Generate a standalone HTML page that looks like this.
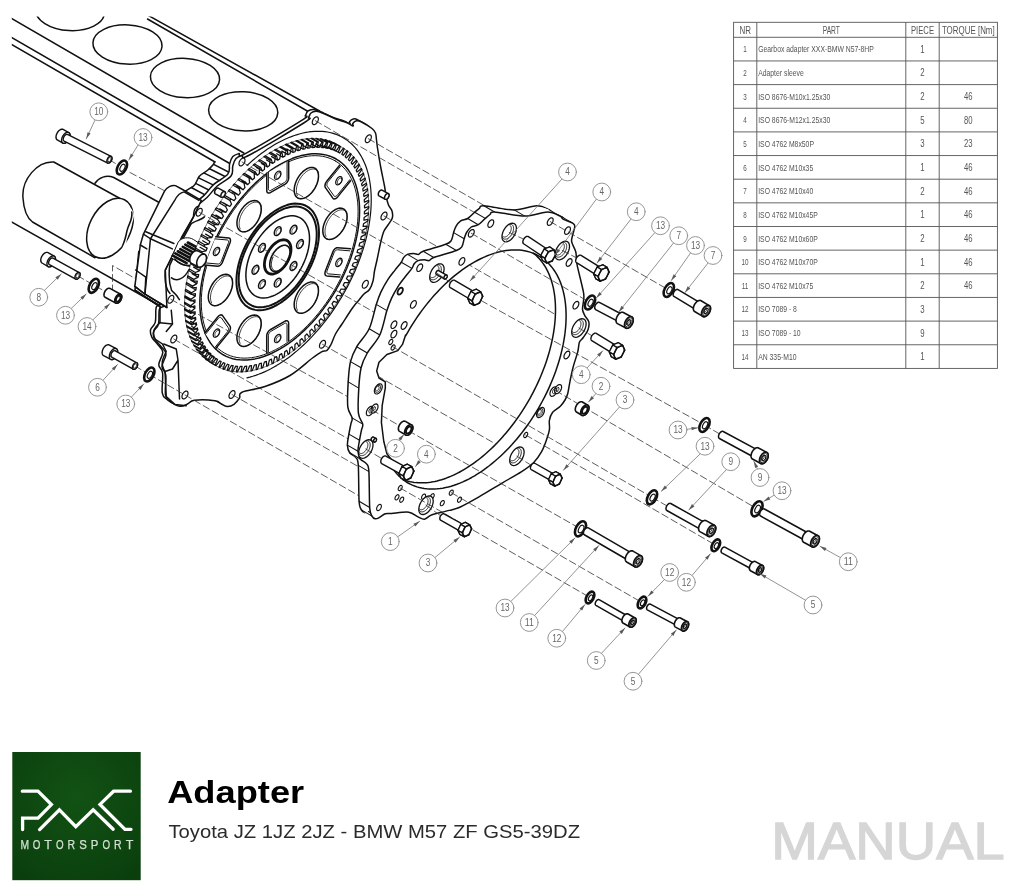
<!DOCTYPE html>
<html><head><meta charset="utf-8"><title>Adapter manual</title>
<style>
html,body{margin:0;padding:0;background:#fff;}
body{width:1024px;height:896px;overflow:hidden;font-family:"Liberation Sans",sans-serif;}
svg{display:block;will-change:transform;transform:translateZ(0);}
</style></head><body>
<svg width="1024" height="896" viewBox="0 0 1024 896" font-family="Liberation Sans, sans-serif">
<rect width="1024" height="896" fill="#fff"/>
<g stroke-linejoin="round" stroke-linecap="round">
<clipPath id="cl"><rect x="11.8" y="16.6" width="1000" height="800"/></clipPath><g clip-path="url(#cl)">
<ellipse cx="70" cy="11" rx="34.6" ry="19.6" fill="none" stroke="#111" stroke-width="1.5" transform="rotate(3 70 11)"/>
<ellipse cx="127.5" cy="44.5" rx="34.6" ry="19.6" fill="none" stroke="#111" stroke-width="1.5" transform="rotate(3 127.5 44.5)"/>
<ellipse cx="185" cy="78" rx="34.6" ry="19.6" fill="none" stroke="#111" stroke-width="1.5" transform="rotate(3 185 78)"/>
<ellipse cx="243.2" cy="111.3" rx="34.6" ry="19.6" fill="none" stroke="#111" stroke-width="1.5" transform="rotate(3 243.2 111.3)"/>
<path d="M 10 17.5 L 243.75 153" fill="none" stroke="#111" stroke-width="1.5"/>
<path d="M 10 36.5 L 237.5 168" fill="none" stroke="#111" stroke-width="1.5"/>
<path d="M 10 43.5 L 215 162" fill="none" stroke="#111" stroke-width="1.5"/>
<path d="M 147.5 15 L 319.5 111" fill="none" stroke="#111" stroke-width="1.5"/>
<path d="M 147.5 19 L 310.75 113" fill="none" stroke="#111" stroke-width="1.5"/>
<path d="M 319.5 111 L 243.75 156.75" fill="none" stroke="#111" stroke-width="1.5"/>
<path d="M 214.72 161.72 C 213.62 165.62 210.81 166.88 208.47 169.53 C 205.34 172.66 201.44 173.44 199.09 176.56 C 196.75 179.69 196.75 183.59 192.84 186.72 C 188.94 189.38 185.81 190.62 183 192.5" fill="none" stroke="#111" stroke-width="1.5"/>
<path d="M 213.62 164.38 L 235.81 175.78" fill="none" stroke="#111" stroke-width="1.5"/>
<path d="M 209.56 168.75 L 233 180.47" fill="none" stroke="#111" stroke-width="1.5"/>
<path d="M 204.25 173.12 L 229.56 185.62" fill="none" stroke="#111" stroke-width="1.5"/>
<path d="M 198.62 177.81 L 223.31 189.84" fill="none" stroke="#111" stroke-width="1.5"/>
<path d="M 196.12 183.59 L 216.28 193.75" fill="none" stroke="#111" stroke-width="1.5"/>
<path d="M 191.28 187.5 L 209.25 197.19" fill="none" stroke="#111" stroke-width="1.5"/>
<path d="M 10 221 L 160 305.75" fill="none" stroke="#111" stroke-width="1.5"/>
<path d="M 95 183.25 C 98.75 177.5 106.25 174.5 113.75 177.5 L 163.75 205" fill="#fff" stroke="#111" stroke-width="1.5"/>
<path d="M 53.75 162 C 37.5 160.75 21.25 179.5 23 198.25 C 23.75 209.5 27.5 218.25 32.5 222 L 95 257.75 L 120.5 198.75 Z" fill="#fff" stroke="#111" stroke-width="1.5"/>
<ellipse cx="110" cy="228.25" rx="20.5" ry="32" fill="#fff" stroke="#111" stroke-width="1.5" transform="rotate(27 110 228.25)"/>
<path d="M 130 209 C 136.25 217 130 222 128 229.5 C 126.25 237 125 242 123.75 248.25" fill="#fff" stroke="#fff" stroke-width="2.5"/>
<path d="M 131.75 212 C 133 219.5 128.75 223.25 127 230.75 C 125.75 237 125 240.75 122.5 245.75" fill="none" stroke="#111" stroke-width="1.5"/>
</g>
<path d="M305.3 115.6 C306.47 113.89 306.45 112.22 307.8 111.1 C309.15 109.98 311 109.49 312.8 109.4 C314.6 109.31 316 110.02 317.8 110.6 C319.6 111.18 319.92 111.34 322.8 112.6 C325.68 113.86 330.02 116.11 333.8 117.6 C337.58 119.09 340.92 119.73 343.8 120.9 C346.68 122.07 348.76 123.97 349.8 124.1 C350.84 124.23 348.97 122.54 349.6 121.6 C350.23 120.66 351.73 119.17 353.3 118.9 C354.87 118.63 355.51 118.71 358.3 120.1 C361.09 121.49 366.28 124.62 368.8 126.6 C371.32 128.58 371.49 129.03 372.3 131.1 C373.11 133.17 372.94 135.4 373.3 138.1 C373.66 140.8 373.58 141.42 374.3 146.1 C375.02 150.78 376.04 157.26 377.3 164.1 C378.56 170.94 380.31 178.7 381.3 184.1 C382.29 189.5 382.08 190.68 382.8 194.1 C383.52 197.52 384.22 200.4 385.3 203.1 C386.38 205.8 388.12 206.76 388.8 209.1 C389.48 211.44 389.82 213.58 389.1 216.1 C388.38 218.62 386.29 220.76 384.8 223.1 C383.31 225.44 382.06 226.22 380.8 229.1 C379.54 231.98 379.06 233.88 377.8 239.1 C376.54 244.32 374.97 252.7 373.8 258.1 C372.63 263.5 372.02 265.32 371.3 269.1 C370.58 272.88 370.7 275.77 369.8 279.1 C368.9 282.43 367.92 285.26 366.3 287.6 C364.68 289.94 362.69 290.21 360.8 292.1 C358.91 293.99 357.87 295.58 355.8 298.1 C353.73 300.62 352.36 301.78 349.3 306.1 C346.24 310.42 341.86 317.42 338.8 322.1 C335.74 326.78 334.28 328.41 332.3 332.1 C330.32 335.79 329.33 339.67 327.8 342.6 C326.27 345.53 325.51 347.09 323.8 348.4 C322.09 349.71 320.91 348.51 318.3 349.9 C315.69 351.29 314.97 351.83 309.3 356.1 C303.63 360.37 295.35 368.47 286.8 373.6 C278.25 378.73 270.44 381.59 261.8 384.6 C253.16 387.61 243.39 388.23 238.8 390.3 C234.21 392.37 237.74 393.92 236.3 396.1 C234.86 398.28 232.96 400.87 230.8 402.4 C228.64 403.93 226.55 404.65 224.3 404.6 C222.05 404.55 220.55 403.13 218.3 402.1 C216.05 401.07 216.66 399.57 211.8 398.9 C206.94 398.23 196.25 397.82 191.3 398.4 C186.35 398.98 186.91 401.02 184.3 402.1 C181.69 403.18 179.86 404.85 176.8 404.4 C173.74 403.95 169.91 401.63 167.3 399.6 C164.69 397.57 163.15 397.87 162.3 393.1 C161.45 388.33 163.23 378.23 162.6 373.1 C161.97 367.97 158.76 368.38 158.8 364.6 C158.84 360.82 162.98 355.7 162.8 352.1 C162.62 348.5 159.78 347.3 157.8 344.6 C155.82 341.9 153.1 339.8 151.8 337.1 C150.5 334.4 149.97 332.3 150.6 329.6 C151.23 326.9 154.27 326.15 155.3 322.1 C156.33 318.05 155.13 310.43 156.3 307.1 C157.47 303.77 161.08 305.58 161.8 303.6 C162.52 301.62 160.34 299.79 160.3 296.1 C160.26 292.41 161.28 288.14 161.6 283.1 C161.92 278.06 160.88 273.05 162.1 268.1 C163.32 263.15 165.3 261.79 168.4 255.6 C171.5 249.41 175.63 240.63 179.3 233.7 C182.97 226.77 187 221.62 188.8 217.1 C190.6 212.58 188.4 211.03 189.3 208.6 C190.2 206.17 191.19 205.94 193.8 203.6 C196.41 201.26 200.2 199.06 203.8 195.6 C207.4 192.14 209.48 188.27 213.8 184.4 C218.12 180.53 224.96 177.75 227.8 174.1 C230.64 170.45 228.7 167.25 229.6 164.1 C230.5 160.95 231.14 158.49 232.8 156.6 C234.46 154.71 236.37 154.23 238.8 153.6 C241.23 152.97 235.05 159.04 246.3 153.1 C257.55 147.16 290.68 127.35 301.3 120.6 C311.92 113.85 304.13 117.31 305.3 115.6 Z" fill="#fff" stroke="#111" stroke-width="1.5"/>
<path d="M308.5 117.5 C309.67 115.79 309.65 114.12 311 113 C312.35 111.88 314.2 111.39 316 111.3 C317.8 111.21 319.2 111.92 321 112.5 C322.8 113.08 323.12 113.24 326 114.5 C328.88 115.76 333.22 118.01 337 119.5 C340.78 120.99 344.12 121.63 347 122.8 C349.88 123.97 351.96 125.87 353 126 C354.04 126.13 352.17 124.44 352.8 123.5 C353.43 122.56 354.93 121.07 356.5 120.8 C358.07 120.53 358.71 120.61 361.5 122 C364.29 123.39 369.48 126.52 372 128.5 C374.52 130.48 374.69 130.93 375.5 133 C376.31 135.07 376.14 137.3 376.5 140 C376.86 142.7 376.78 143.32 377.5 148 C378.22 152.68 379.24 159.16 380.5 166 C381.76 172.84 383.51 180.6 384.5 186 C385.49 191.4 385.28 192.58 386 196 C386.72 199.42 387.42 202.3 388.5 205 C389.58 207.7 391.32 208.66 392 211 C392.68 213.34 393.02 215.48 392.3 218 C391.58 220.52 389.49 222.66 388 225 C386.51 227.34 385.26 228.12 384 231 C382.74 233.88 382.26 235.78 381 241 C379.74 246.22 378.17 254.6 377 260 C375.83 265.4 375.22 267.22 374.5 271 C373.78 274.78 373.9 277.67 373 281 C372.1 284.33 371.12 287.16 369.5 289.5 C367.88 291.84 365.89 292.11 364 294 C362.11 295.89 361.07 297.48 359 300 C356.93 302.52 355.56 303.68 352.5 308 C349.44 312.32 345.06 319.32 342 324 C338.94 328.68 337.48 330.31 335.5 334 C333.52 337.69 332.53 341.57 331 344.5 C329.47 347.43 328.71 348.99 327 350.3 C325.29 351.61 324.11 350.41 321.5 351.8 C318.89 353.19 318.17 353.73 312.5 358 C306.83 362.27 298.55 370.37 290 375.5 C281.45 380.63 273.64 383.49 265 386.5 C256.36 389.51 246.59 390.13 242 392.2 C237.41 394.27 240.94 395.82 239.5 398 C238.06 400.18 236.16 402.77 234 404.3 C231.84 405.83 229.75 406.55 227.5 406.5 C225.25 406.45 223.75 405.03 221.5 404 C219.25 402.97 219.86 401.47 215 400.8 C210.14 400.13 199.45 399.72 194.5 400.3 C189.55 400.88 190.11 402.92 187.5 404 C184.89 405.08 183.06 406.75 180 406.3 C176.94 405.85 173.11 403.53 170.5 401.5 C167.89 399.47 166.35 399.77 165.5 395 C164.65 390.23 166.43 380.13 165.8 375 C165.17 369.87 161.96 370.28 162 366.5 C162.04 362.72 166.18 357.6 166 354 C165.82 350.4 162.98 349.2 161 346.5 C159.02 343.8 156.3 341.7 155 339 C153.7 336.3 153.17 334.2 153.8 331.5 C154.43 328.8 157.47 328.05 158.5 324 C159.53 319.95 158.33 312.33 159.5 309 C160.67 305.67 164.28 307.48 165 305.5 C165.72 303.52 163.54 301.69 163.5 298 C163.46 294.31 164.48 290.04 164.8 285 C165.12 279.96 164.08 274.95 165.3 270 C166.52 265.05 168.5 263.69 171.6 257.5 C174.7 251.31 178.83 242.53 182.5 235.6 C186.17 228.67 190.2 223.52 192 219 C193.8 214.48 191.6 212.93 192.5 210.5 C193.4 208.07 194.39 207.84 197 205.5 C199.61 203.16 203.4 200.96 207 197.5 C210.6 194.04 212.68 190.17 217 186.3 C221.32 182.43 228.16 179.65 231 176 C233.84 172.35 231.9 169.15 232.8 166 C233.7 162.85 234.34 160.39 236 158.5 C237.66 156.61 239.57 156.13 242 155.5 C244.43 154.87 238.25 160.94 249.5 155 C260.75 149.06 293.88 129.25 304.5 122.5 C315.12 115.75 307.33 119.21 308.5 117.5 Z" fill="#fff" stroke="#111" stroke-width="1.5"/>
<path d="M247.02 165.46 L249.9 162.84 L252.8 160.31 L255.72 157.88 L258.66 155.53 L261.61 153.29 L264.58 151.14 L267.56 149.09 L270.55 147.15 L273.54 145.31 L276.53 143.58 L279.52 141.95 L282.51 140.44 L285.49 139.04 L288.46 137.75 L291.41 136.57 L294.35 135.51 L297.27 134.57 L300.17 133.74 L303.05 133.03 L305.9 132.44 L308.72 131.97 L311.51 131.61 L314.26 131.38 L316.97 131.27 L319.64 131.28 L322.27 131.4 L324.86 131.65 L327.39 132.02 L329.88 132.51 L332.31 133.11 L334.69 133.84 L337.01 134.68 L339.26 135.64 L341.46 136.72 L343.59 137.91 L345.66 139.21 L347.66 140.63 L349.59 142.16 L351.44 143.8 L353.22 145.54 L354.93 147.4 L356.56 149.35 L358.11 151.41 L359.58 153.57 L360.96 155.83 L362.27 158.19 L363.49 160.64 L364.62 163.18 L365.67 165.81 L366.63 168.53 L367.5 171.33 L368.28 174.21 L368.97 177.18 L369.57 180.21 L370.08 183.32 L370.5 186.5 L370.82 189.75 L371.05 193.06 L371.19 196.43 L371.24 199.86 L371.19 203.34 L371.05 206.88 L370.82 210.46 L370.49 214.08 L370.07 217.74 L369.56 221.44 L368.96 225.17 L368.27 228.94 L367.48 232.72 L366.61 236.53 L365.65 240.36 L364.6 244.2 L363.46 248.05 L362.24 251.91 L360.94 255.78 L359.55 259.64 L358.08 263.5 L356.53 267.35 L354.9 271.19 L353.19 275.02 L351.41 278.82 L349.55 282.6 L347.62 286.36 L345.62 290.09 L343.55 293.78 L341.42 297.43 L339.22 301.05 L336.96 304.62 L334.64 308.14 L332.26 311.61 L329.83 315.03 L327.34 318.39 L324.81 321.69 L322.22 324.92 L319.59 328.09 L316.92 331.19 L314.2 334.21 L311.45 337.16 L308.66 340.02 L305.84 342.81 L302.99 345.51 L300.12 348.13 L297.22 350.65 L294.29 353.08 L291.35 355.42 L288.4 357.66 L285.43 359.8 L282.45 361.84 L279.46 363.78 L276.47 365.61 L273.48 367.33 L270.49 368.95 L267.5 370.46 L264.52 371.85 L261.55 373.13 L258.6 374.3 L255.66 375.35 L252.74 376.29 L249.84 377.11 L246.97 377.81" fill="none" stroke="#111" stroke-width="1.2"/>
<path d="M317.45 116.98 L317.93 117.42 L318.24 118.1 L318.34 118.94 L318.24 119.91 L317.93 120.93 L317.45 121.94 L316.82 122.86 L316.09 123.64 L315.3 124.21 L314.51 124.55 L313.78 124.62 L313.15 124.42 L312.67 123.98 L312.36 123.3 L312.26 122.46 L312.36 121.49 L312.67 120.47 L313.15 119.46 L313.78 118.54 L314.51 117.76 L315.3 117.19 L316.09 116.85 L316.82 116.78 L317.45 116.98Z" fill="#fff" stroke="#111" stroke-width="1.2"/>
<path d="M370.45 134.98 L370.93 135.42 L371.24 136.1 L371.34 136.94 L371.24 137.91 L370.93 138.93 L370.45 139.94 L369.82 140.86 L369.09 141.64 L368.3 142.21 L367.51 142.55 L366.78 142.62 L366.15 142.42 L365.67 141.98 L365.36 141.3 L365.26 140.46 L365.36 139.49 L365.67 138.47 L366.15 137.46 L366.78 136.54 L367.51 135.76 L368.3 135.19 L369.09 134.85 L369.82 134.78 L370.45 134.98Z" fill="#fff" stroke="#111" stroke-width="1.2"/>
<path d="M386.15 212.28 L386.63 212.72 L386.94 213.4 L387.04 214.24 L386.94 215.21 L386.63 216.23 L386.15 217.24 L385.52 218.16 L384.79 218.94 L384 219.51 L383.21 219.85 L382.48 219.92 L381.85 219.72 L381.37 219.28 L381.06 218.6 L380.96 217.76 L381.06 216.79 L381.37 215.77 L381.85 214.76 L382.48 213.84 L383.21 213.06 L384 212.49 L384.79 212.15 L385.52 212.08 L386.15 212.28Z" fill="#fff" stroke="#111" stroke-width="1.2"/>
<path d="M367.45 280.58 L367.93 281.02 L368.24 281.7 L368.34 282.54 L368.24 283.51 L367.93 284.53 L367.45 285.54 L366.82 286.46 L366.09 287.24 L365.3 287.81 L364.51 288.15 L363.78 288.22 L363.15 288.02 L362.67 287.58 L362.36 286.9 L362.26 286.06 L362.36 285.09 L362.67 284.07 L363.15 283.06 L363.78 282.14 L364.51 281.36 L365.3 280.79 L366.09 280.45 L366.82 280.38 L367.45 280.58Z" fill="#fff" stroke="#111" stroke-width="1.2"/>
<path d="M324.65 340.58 L325.13 341.02 L325.44 341.7 L325.54 342.54 L325.44 343.51 L325.13 344.53 L324.65 345.54 L324.02 346.46 L323.29 347.24 L322.5 347.81 L321.71 348.15 L320.98 348.22 L320.35 348.02 L319.87 347.58 L319.56 346.9 L319.46 346.06 L319.56 345.09 L319.87 344.07 L320.35 343.06 L320.98 342.14 L321.71 341.36 L322.5 340.79 L323.29 340.45 L324.02 340.38 L324.65 340.58Z" fill="#fff" stroke="#111" stroke-width="1.2"/>
<path d="M234.15 390.78 L234.63 391.22 L234.94 391.9 L235.04 392.74 L234.94 393.71 L234.63 394.73 L234.15 395.74 L233.52 396.66 L232.79 397.44 L232 398.01 L231.21 398.35 L230.48 398.42 L229.85 398.22 L229.37 397.78 L229.06 397.1 L228.96 396.26 L229.06 395.29 L229.37 394.27 L229.85 393.26 L230.48 392.34 L231.21 391.56 L232 390.99 L232.79 390.65 L233.52 390.58 L234.15 390.78Z" fill="#fff" stroke="#111" stroke-width="1.2"/>
<path d="M187.15 391.28 L187.63 391.72 L187.94 392.4 L188.04 393.24 L187.94 394.21 L187.63 395.23 L187.15 396.24 L186.52 397.16 L185.79 397.94 L185 398.51 L184.21 398.85 L183.48 398.92 L182.85 398.72 L182.37 398.28 L182.06 397.6 L181.96 396.76 L182.06 395.79 L182.37 394.77 L182.85 393.76 L183.48 392.84 L184.21 392.06 L185 391.49 L185.79 391.15 L186.52 391.08 L187.15 391.28Z" fill="#fff" stroke="#111" stroke-width="1.2"/>
<path d="M175.95 335.28 L176.43 335.72 L176.74 336.4 L176.84 337.24 L176.74 338.21 L176.43 339.23 L175.95 340.24 L175.32 341.16 L174.59 341.94 L173.8 342.51 L173.01 342.85 L172.28 342.92 L171.65 342.72 L171.17 342.28 L170.86 341.6 L170.76 340.76 L170.86 339.79 L171.17 338.77 L171.65 337.76 L172.28 336.84 L173.01 336.06 L173.8 335.49 L174.59 335.15 L175.32 335.08 L175.95 335.28Z" fill="#fff" stroke="#111" stroke-width="1.2"/>
<path d="M172.95 295.58 L173.43 296.02 L173.74 296.7 L173.84 297.54 L173.74 298.51 L173.43 299.53 L172.95 300.54 L172.32 301.46 L171.59 302.24 L170.8 302.81 L170.01 303.15 L169.28 303.22 L168.65 303.02 L168.17 302.58 L167.86 301.9 L167.76 301.06 L167.86 300.09 L168.17 299.07 L168.65 298.06 L169.28 297.14 L170.01 296.36 L170.8 295.79 L171.59 295.45 L172.32 295.38 L172.95 295.58Z" fill="#fff" stroke="#111" stroke-width="1.2"/>
<path d="M201.35 208.48 L201.83 208.92 L202.14 209.6 L202.24 210.44 L202.14 211.41 L201.83 212.43 L201.35 213.44 L200.72 214.36 L199.99 215.14 L199.2 215.71 L198.41 216.05 L197.68 216.12 L197.05 215.92 L196.57 215.48 L196.26 214.8 L196.16 213.96 L196.26 212.99 L196.57 211.97 L197.05 210.96 L197.68 210.04 L198.41 209.26 L199.2 208.69 L199.99 208.35 L200.72 208.28 L201.35 208.48Z" fill="#fff" stroke="#111" stroke-width="1.2"/>
<path d="M244.15 158.28 L244.63 158.72 L244.94 159.4 L245.04 160.24 L244.94 161.21 L244.63 162.23 L244.15 163.24 L243.52 164.16 L242.79 164.94 L242 165.51 L241.21 165.85 L240.48 165.92 L239.85 165.72 L239.37 165.28 L239.06 164.6 L238.96 163.76 L239.06 162.79 L239.37 161.77 L239.85 160.76 L240.48 159.84 L241.21 159.06 L242 158.49 L242.79 158.15 L243.52 158.08 L244.15 158.28Z" fill="#fff" stroke="#111" stroke-width="1.2"/>
<path d="M382.02 190.18 L381.75 190.08 L381.44 190.05 L381.12 190.09 L380.77 190.21 L380.43 190.39 L380.08 190.64 L379.74 190.94 L379.42 191.3 L379.13 191.69 L378.88 192.12 L378.66 192.57 L378.49 193.04 L378.36 193.5 L378.29 193.95 L378.28 194.37 L378.32 194.76 L378.41 195.11 L378.55 195.41 L378.74 195.64 L378.98 195.82 L385.28 199.22 L385.55 199.32 L385.86 199.35 L386.18 199.31 L386.53 199.19 L386.87 199.01 L387.22 198.76 L387.56 198.46 L387.88 198.1 L388.17 197.71 L388.42 197.28 L388.64 196.83 L388.81 196.36 L388.94 195.9 L389.01 195.45 L389.02 195.03 L388.98 194.64 L388.89 194.29 L388.75 193.99 L388.56 193.76 L388.32 193.58Z" fill="#fff" stroke="#111" stroke-width="1.5"/>
<path d="M385.28 199.22 L385.55 199.32 L385.86 199.35 L386.18 199.31 L386.53 199.19 L386.87 199.01 L387.22 198.76 L387.56 198.46 L387.88 198.1 L388.17 197.71 L388.42 197.28 L388.64 196.83 L388.81 196.36 L388.94 195.9 L389.01 195.45 L389.02 195.03 L388.98 194.64 L388.89 194.29 L388.75 193.99 L388.56 193.76 L388.32 193.58 L388.05 193.48 L387.74 193.45 L387.42 193.49 L387.07 193.61 L386.73 193.79 L386.38 194.04 L386.04 194.34 L385.72 194.7 L385.43 195.09 L385.18 195.52 L384.96 195.97 L384.79 196.44 L384.66 196.9 L384.59 197.35 L384.58 197.77 L384.62 198.16 L384.71 198.51 L384.85 198.81 L385.04 199.04 L385.28 199.22Z" fill="#fff" stroke="#111" stroke-width="1.5"/>
<path d="M218.32 188.18 L218.05 188.08 L217.74 188.05 L217.42 188.09 L217.07 188.21 L216.73 188.39 L216.38 188.64 L216.04 188.94 L215.72 189.3 L215.43 189.69 L215.18 190.12 L214.96 190.57 L214.79 191.04 L214.66 191.5 L214.59 191.95 L214.58 192.37 L214.62 192.76 L214.71 193.11 L214.85 193.41 L215.04 193.64 L215.28 193.82 L221.58 197.22 L221.85 197.32 L222.16 197.35 L222.48 197.31 L222.83 197.19 L223.17 197.01 L223.52 196.76 L223.86 196.46 L224.18 196.1 L224.47 195.71 L224.72 195.28 L224.94 194.83 L225.11 194.36 L225.24 193.9 L225.31 193.45 L225.32 193.03 L225.28 192.64 L225.19 192.29 L225.05 191.99 L224.86 191.76 L224.62 191.58Z" fill="#fff" stroke="#111" stroke-width="1.5"/>
<path d="M221.58 197.22 L221.85 197.32 L222.16 197.35 L222.48 197.31 L222.83 197.19 L223.17 197.01 L223.52 196.76 L223.86 196.46 L224.18 196.1 L224.47 195.71 L224.72 195.28 L224.94 194.83 L225.11 194.36 L225.24 193.9 L225.31 193.45 L225.32 193.03 L225.28 192.64 L225.19 192.29 L225.05 191.99 L224.86 191.76 L224.62 191.58 L224.35 191.48 L224.04 191.45 L223.72 191.49 L223.37 191.61 L223.03 191.79 L222.68 192.04 L222.34 192.34 L222.02 192.7 L221.73 193.09 L221.48 193.52 L221.26 193.97 L221.09 194.44 L220.96 194.9 L220.89 195.35 L220.88 195.77 L220.92 196.16 L221.01 196.51 L221.15 196.81 L221.34 197.04 L221.58 197.22Z" fill="#fff" stroke="#111" stroke-width="1.5"/>
<path d="M 160 306.5 L 160 322.75 C 153.75 327.75 151.25 334 155 339 L 162.5 344 L 166.25 351.5 C 162.5 359 160 364 165 371.5 L 166.25 396.5 L 175 404.5 L 186.25 405.75" fill="none" stroke="#111" stroke-width="1.5"/>
<path d="M 171.25 310.25 L 172.5 324 L 166.25 331.5 M 160 322.75 L 172.5 324 M 163.75 344 L 176.25 349 L 178 360.25 L 172.5 369 L 165 371.5 M 178 360.25 L 179.5 399" fill="none" stroke="#111" stroke-width="1.5"/>
<path d="M 160 306.5 L 135 290.25" fill="none" stroke="#111" stroke-width="1.5"/>
<path d="M 138.75 251.5 L 135 290.25 L 160 306.5" fill="none" stroke="#111" stroke-width="1.5"/>
<path d="M 134.84 286.41 L 140.31 245 L 143.44 234.06 L 164.53 191.09 C 166.88 187.19 171.56 184.84 175.47 185.62 L 182.5 189.53 L 201.25 200.47 L 193.44 216.88 L 171.56 257.5 L 165.31 270 L 166.09 288.75 L 166.88 307.5 L 145 294.22 Z" fill="#fff" stroke="#111" stroke-width="1.5"/>
<path d="M 145 293.44 L 150.47 238.75 L 174.69 200.47 C 177.03 195.78 180.16 192.66 184.06 191.88 L 198.91 200.47" fill="none" stroke="#111" stroke-width="1.5"/>
<path d="M 143.44 234.06 L 150.47 238.75" fill="none" stroke="#111" stroke-width="1.5"/>
<path d="M 145.78 231.72 L 173.91 243.44" fill="none" stroke="#111" stroke-width="1.5"/>
<path d="M 150.47 238.75 L 172.34 248.91" fill="none" stroke="#111" stroke-width="1.5"/>
<path d="M 140.31 245 L 146.88 248.91" fill="none" stroke="#111" stroke-width="1.5"/>
<path d="M 135.62 270 L 145.78 277.03" fill="none" stroke="#111" stroke-width="1.5"/>
<path d="M 134.84 286.41 L 145 294.22 L 166.88 307.5" fill="none" stroke="#111" stroke-width="1.5"/>
<path d="M 145 293.44 L 145.78 277.03" fill="none" stroke="#111" stroke-width="1.5"/>
<path d="M 198.91 205.94 C 195 206.72 193.44 210.62 193.44 216.88 L 182.5 235.62 L 171.56 257.5 L 165.31 270 C 164.53 279.38 165.31 288.75 170 293.44" fill="none" stroke="#111" stroke-width="1.5"/>
<path d="M 204.38 216.88 C 201.25 220 193.44 221.56 191.09 223.91 L 176.25 251.25 L 169.69 265.31 C 168.44 276.25 168.75 282.5 171.56 290.31 C 173.91 293.44 176.25 293.44 179.38 299.69" fill="none" stroke="#111" stroke-width="1.5"/>
<path d="M 171.56 257.5 L 178.12 242.19 C 181.25 237.5 188.75 236.41 193.44 239.53 L 202.03 245 L 205.16 251.25 L 195 267.66 L 181.72 264.53 Z" fill="#fff" stroke="#111" stroke-width="1.0"/>
<path d="M 172.81 255.62 L 186.56 263.12" fill="none" stroke="#111" stroke-width="2.6"/>
<path d="M 175.31 253.44 L 189.06 260.94" fill="none" stroke="#111" stroke-width="2.6"/>
<path d="M 177.81 251.25 L 191.56 258.75" fill="none" stroke="#111" stroke-width="2.6"/>
<path d="M 180.31 249.06 L 194.06 256.56" fill="none" stroke="#111" stroke-width="2.6"/>
<path d="M 182.81 246.88 L 196.56 254.38" fill="none" stroke="#111" stroke-width="2.6"/>
<path d="M 185.31 244.69 L 199.06 252.19" fill="none" stroke="#111" stroke-width="2.6"/>
<path d="M 187.81 242.5 L 201.56 250" fill="none" stroke="#111" stroke-width="2.6"/>
<path d="M 174.69 259.06 C 178.59 263.75 185.62 266.09 190.31 265.31" fill="none" stroke="#111" stroke-width="1.5"/>
<path d="M 171.56 277.81 C 176.25 281.72 184.06 279.38 188.75 270" fill="none" stroke="#111" stroke-width="1.5"/>
<path d="M210.64 362.52 L208.48 361.18 L206.4 359.72 L204.4 358.12 L202.49 356.4 L200.66 354.55 L198.92 352.58 L197.28 350.48 L195.72 348.27 L194.27 345.95 L192.9 343.51 L191.64 340.96 L190.48 338.3 L189.41 335.54 L188.45 332.68 L187.6 329.72 L186.85 326.68 L186.2 323.54 L185.66 320.31 L185.23 317.01 L184.91 313.62 L184.69 310.17 L184.58 306.64 L184.58 303.05 L184.69 299.4 L184.91 295.69 L185.24 291.94 L185.67 288.13 L186.21 284.28 L186.86 280.4 L187.61 276.48 L188.47 272.53 L189.43 268.56 L190.49 264.57 L191.66 260.57 L192.93 256.56 L194.29 252.55 L195.75 248.53 L197.31 244.53 L198.95 240.53 L200.69 236.55 L202.52 232.59 L204.44 228.65 L206.43 224.75 L208.52 220.88 L210.68 217.05 L212.91 213.26 L215.22 209.53 L217.61 205.84 L220.06 202.22 L222.57 198.65 L225.15 195.16 L227.79 191.73 L230.48 188.38 L233.23 185.11 L236.02 181.92 L238.86 178.82 L241.74 175.81 L244.67 172.89 L247.62 170.08 L250.61 167.36 L253.63 164.75 L256.67 162.24 L259.73 159.85 L262.81 157.57 L265.9 155.41 L269 153.37 L272.11 151.45 L275.22 149.65 L278.33 147.99 L281.43 146.44 L284.52 145.03 L287.6 143.75 L290.66 142.61 L293.7 141.6 L296.72 140.72 L299.7 139.99 L302.66 139.39 L305.58 138.93 L308.46 138.61 L311.3 138.43 L314.1 138.39 L316.84 138.49 L319.53 138.73 L322.17 139.11 L324.75 139.63 L327.26 140.28 L329.71 141.08 L332.09 142.01 L334.4 143.08 L336.64 144.28 L342.7 147.78 L344.86 149.12 L346.94 150.58 L348.94 152.18 L350.85 153.9 L352.68 155.75 L354.41 157.72 L356.06 159.82 L357.61 162.03 L359.07 164.35 L360.43 166.79 L361.7 169.34 L362.86 172 L363.92 174.76 L364.88 177.62 L365.74 180.58 L366.49 183.62 L367.14 186.76 L367.68 189.99 L368.11 193.29 L368.43 196.68 L368.65 200.13 L368.76 203.66 L368.75 207.25 L368.64 210.9 L368.43 214.61 L368.1 218.36 L367.67 222.17 L367.13 226.02 L366.48 229.9 L365.73 233.82 L364.87 237.77 L363.91 241.74 L362.84 245.73 L361.68 249.73 L360.41 253.74 L359.05 257.75 L357.59 261.77 L356.03 265.77 L354.38 269.77 L352.65 273.75 L350.82 277.71 L348.9 281.65 L346.9 285.55 L344.82 289.42 L342.66 293.25 L340.42 297.04 L338.11 300.77 L335.73 304.46 L333.28 308.08 L330.77 311.65 L328.19 315.14 L325.55 318.57 L322.86 321.92 L320.11 325.19 L317.32 328.38 L314.48 331.48 L311.59 334.49 L308.67 337.41 L305.72 340.22 L302.73 342.94 L299.71 345.55 L296.67 348.06 L293.61 350.45 L290.53 352.73 L287.44 354.89 L284.33 356.93 L281.23 358.85 L278.12 360.65 L275.01 362.31 L271.91 363.86 L268.82 365.27 L265.74 366.55 L262.68 367.69 L259.64 368.7 L256.62 369.58 L253.63 370.31 L250.68 370.91 L247.76 371.37 L244.87 371.69 L242.03 371.87 L239.24 371.91 L236.5 371.81 L233.8 371.57 L231.17 371.19 L228.59 370.67 L226.08 370.02 L223.63 369.22 L221.25 368.29 L218.94 367.22 L216.7 366.02Z" fill="#fff" stroke="#111" stroke-width="0.6"/>
<path d="M339.7 152.98 L343.38 148.18 L344.28 148.74 L341.83 154.3 L343.21 155.26 M343.21 155.26 L347.02 150.65 L347.86 151.3 L345.21 156.8 L346.49 157.91 M346.49 157.91 L350.42 153.5 L351.2 154.24 L348.34 159.67 L349.53 160.92 M349.53 160.92 L353.56 156.73 L354.28 157.56 L351.23 162.9 L352.31 164.28 M352.31 164.28 L356.43 160.32 L357.08 161.24 L353.85 166.46 L354.82 167.98 M354.82 167.98 L359.02 164.27 L359.6 165.27 L356.2 170.36 L357.06 172.01 M357.06 172.01 L361.33 168.56 L361.83 169.63 L358.27 174.57 L359.02 176.34 M359.02 176.34 L363.33 173.17 L363.76 174.32 L360.06 179.08 L360.69 180.97 M360.69 180.97 L365.03 178.08 L365.39 179.3 L361.55 183.88 L362.07 185.87 M362.07 185.87 L366.41 183.28 L366.7 184.57 L362.75 188.94 L363.14 191.04 M363.14 191.04 L367.48 188.75 L367.69 190.1 L363.64 194.25 L363.91 196.44 M363.91 196.44 L368.23 194.47 L368.37 195.88 L364.23 199.79 L364.37 202.07 M364.37 202.07 L368.66 200.41 L368.71 201.87 L364.5 205.54 L364.53 207.9 M364.53 207.9 L368.76 206.57 L368.74 208.07 L364.47 211.48 L364.37 213.9 M364.37 213.9 L368.54 212.9 L368.44 214.45 L364.13 217.58 L363.91 220.06 M363.91 220.06 L367.99 219.4 L367.81 220.98 L363.48 223.82 L363.13 226.36 M363.13 226.36 L367.12 226.03 L366.87 227.64 L362.52 230.19 L362.06 232.76 M362.06 232.76 L365.94 232.78 L365.6 234.41 L361.27 236.65 L360.68 239.26 M360.68 239.26 L364.43 239.61 L364.03 241.26 L359.71 243.19 L359.01 245.82 M359.01 245.82 L362.62 246.51 L362.14 248.17 L357.86 249.78 L357.04 252.42 M357.04 252.42 L360.51 253.44 L359.96 255.11 L355.73 256.39 L354.8 259.04 M354.8 259.04 L358.1 260.39 L357.48 262.06 L353.32 263 L352.28 265.64 M352.28 265.64 L355.4 267.33 L354.71 268.99 L350.64 269.59 L349.5 272.22 M349.5 272.22 L352.43 274.22 L351.68 275.87 L347.7 276.14 L346.46 278.74 M346.46 278.74 L349.19 281.06 L348.38 282.69 L344.52 282.62 L343.18 285.18 M343.18 285.18 L345.7 287.8 L344.83 289.41 L341.1 289 L339.66 291.52 M339.66 291.52 L341.97 294.44 L341.04 296.01 L337.45 295.26 L335.93 297.73 M335.93 297.73 L338.01 300.93 L337.03 302.47 L333.59 301.39 L331.99 303.79 M331.99 303.79 L333.84 307.27 L332.81 308.76 L329.54 307.35 L327.87 309.69 M327.87 309.69 L329.47 313.42 L328.4 314.86 L325.3 313.13 L323.56 315.38 M323.56 315.38 L324.92 319.36 L323.81 320.76 L320.9 318.7 L319.1 320.87 M319.1 320.87 L320.21 325.08 L319.05 326.42 L316.35 324.05 L314.49 326.12 M314.49 326.12 L315.34 330.55 L314.16 331.82 L311.66 329.15 L309.76 331.12 M309.76 331.12 L310.35 335.75 L309.14 336.95 L306.86 333.99 L304.91 335.85 M304.91 335.85 L305.25 340.66 L304.01 341.79 L301.96 338.55 L299.98 340.29 M299.98 340.29 L300.05 345.27 L298.79 346.32 L296.98 342.81 L294.97 344.43 M294.97 344.43 L294.77 349.55 L293.5 350.53 L291.93 346.76 L289.9 348.24 M289.9 348.24 L289.45 353.5 L288.16 354.39 L286.84 350.37 L284.8 351.73 M284.8 351.73 L284.08 357.09 L282.79 357.9 L281.72 353.65 L279.67 354.86 M279.67 354.86 L278.7 360.32 L277.41 361.04 L276.6 356.58 L274.55 357.64 M274.55 357.64 L273.33 363.17 L272.04 363.79 L271.49 359.14 L269.45 360.06 M269.45 360.06 L267.98 365.63 L266.7 366.16 L266.4 361.32 L264.38 362.09 M264.38 362.09 L262.67 367.7 L261.4 368.13 L261.37 363.13 L259.37 363.75 M259.37 363.75 L257.42 369.36 L256.17 369.69 L256.4 364.55 L254.44 365.01 M254.44 365.01 L252.25 370.61 L251.03 370.85 L251.52 365.58 L249.6 365.88 M249.6 365.88 L247.19 371.44 L245.99 371.58 L246.74 366.21 L244.86 366.35 M244.86 366.35 L242.24 371.86 L241.07 371.9 L242.08 366.44 L240.26 366.42 M240.26 366.42 L237.43 371.86 L236.3 371.8 L237.56 366.27 L235.79 366.09 M235.79 366.09 L232.77 371.44 L231.68 371.28 L233.19 365.7 L231.49 365.36 M231.49 365.36 L228.29 370.6 L227.24 370.34 L228.99 364.73 L227.37 364.24 M227.37 364.24 L223.99 369.35 L222.99 368.99 L224.98 363.38 L223.43 362.72 M223.43 362.72 L219.9 367.69 L218.94 367.23 L221.17 361.63 L219.7 360.82 M219.7 360.82 L216.02 365.62 L215.12 365.06 L217.57 359.5 L216.19 358.54 M216.02 365.62 L209.96 362.12 L209.06 361.56 L215.12 365.06 M217.57 359.5 L211.5 356 M216.19 358.54 L212.38 363.15 L211.54 362.5 L214.19 357 L212.91 355.89 M212.38 363.15 L206.31 359.65 L205.47 359 L211.54 362.5 M214.19 357 L208.13 353.5 M212.91 355.89 L208.98 360.3 L208.2 359.56 L211.06 354.13 L209.87 352.88 M208.98 360.3 L202.91 356.8 L202.14 356.06 L208.2 359.56 M211.06 354.13 L205 350.63 M209.87 352.88 L205.84 357.07 L205.12 356.24 L208.17 350.9 L207.09 349.52 M205.84 357.07 L199.77 353.57 L199.06 352.74 L205.12 356.24 M208.17 350.9 L202.11 347.4 M207.09 349.52 L202.97 353.48 L202.32 352.56 L205.55 347.34 L204.58 345.82 M202.97 353.48 L196.9 349.98 L196.26 349.06 L202.32 352.56 M205.55 347.34 L199.49 343.84 M204.58 345.82 L200.38 349.53 L199.8 348.53 L203.2 343.44 L202.34 341.79 M200.38 349.53 L194.31 346.03 L193.73 345.03 L199.8 348.53 M203.2 343.44 L197.14 339.94 M202.34 341.79 L198.07 345.24 L197.57 344.17 L201.13 339.23 L200.38 337.46 M198.07 345.24 L192.01 341.74 L191.5 340.67 L197.57 344.17 M201.13 339.23 L195.06 335.73 M200.38 337.46 L196.07 340.63 L195.64 339.48 L199.34 334.72 L198.71 332.83 M196.07 340.63 L190.01 337.13 L189.57 335.98 L195.64 339.48 M199.34 334.72 L193.28 331.22 M198.71 332.83 L194.37 335.72 L194.01 334.5 L197.85 329.92 L197.33 327.93 M194.37 335.72 L188.31 332.22 L187.95 331 L194.01 334.5 M197.85 329.92 L191.78 326.42 M197.33 327.93 L192.99 330.52 L192.7 329.23 L196.65 324.86 L196.26 322.76 M192.99 330.52 L186.92 327.02 L186.64 325.73 L192.7 329.23 M196.65 324.86 L190.59 321.36 M196.26 322.76 L191.92 325.05 L191.71 323.7 L195.76 319.55 L195.49 317.36 M191.92 325.05 L185.85 321.55 L185.65 320.2 L191.71 323.7 M195.76 319.55 L189.7 316.05 M195.49 317.36 L191.17 319.33 L191.03 317.92 L195.17 314.01 L195.03 311.73 M191.17 319.33 L185.1 315.83 L184.97 314.42 L191.03 317.92 M195.17 314.01 L189.11 310.51 M195.03 311.73 L190.74 313.39 L190.69 311.93 L194.9 308.26 L194.87 305.9 M190.74 313.39 L184.68 309.89 L184.62 308.43 L190.69 311.93 M194.9 308.26 L188.83 304.76 M194.87 305.9 L190.64 307.23 L190.66 305.73 L194.93 302.32 L195.03 299.9 M190.64 307.23 L184.57 303.73 L184.6 302.23 L190.66 305.73 M194.93 302.32 L188.87 298.82 M195.03 299.9 L190.86 300.9 L190.96 299.35 L195.27 296.22 L195.49 293.74 M190.86 300.9 L184.8 297.4 L184.9 295.85 L190.96 299.35 M195.27 296.22 L189.21 292.72 M195.49 293.74 L191.41 294.4 L191.59 292.82 L195.92 289.98 L196.27 287.44 M191.41 294.4 L185.34 290.9 L185.52 289.32 L191.59 292.82 M195.92 289.98 L189.86 286.48 M196.27 287.44 L192.28 287.77 L192.53 286.16 L196.88 283.61 L197.34 281.04 M192.28 287.77 L186.21 284.27 L186.47 282.66 L192.53 286.16 M196.88 283.61 L190.81 280.11 M197.34 281.04 L193.46 281.02 L193.8 279.39 L198.13 277.15 L198.72 274.54 M193.46 281.02 L187.4 277.52 L187.73 275.89 L193.8 279.39 M198.13 277.15 L192.07 273.65 M198.72 274.54 L194.97 274.19 L195.37 272.54 L199.69 270.61 L200.39 267.98 M194.97 274.19 L188.9 270.69 L189.31 269.04 L195.37 272.54 M199.69 270.61 L193.63 267.11 M200.39 267.98 L196.78 267.29 L197.26 265.63 L201.54 264.02 L202.36 261.38 M196.78 267.29 L190.72 263.79 L191.2 262.13 L197.26 265.63 M201.54 264.02 L195.48 260.52 M202.36 261.38 L198.89 260.36 L199.44 258.69 L203.67 257.41 L204.6 254.76 M198.89 260.36 L192.83 256.86 L193.38 255.19 L199.44 258.69 M203.67 257.41 L197.61 253.91 M204.6 254.76 L201.3 253.41 L201.92 251.74 L206.08 250.8 L207.12 248.16 M201.3 253.41 L195.24 249.91 L195.86 248.24 L201.92 251.74 M206.08 250.8 L200.02 247.3 M207.12 248.16 L204 246.47 L204.69 244.81 L208.76 244.21 L209.9 241.58 M204 246.47 L197.93 242.97 L198.62 241.31 L204.69 244.81 M208.76 244.21 L202.7 240.71 M209.9 241.58 L206.97 239.58 L207.72 237.93 L211.7 237.66 L212.94 235.06 M206.97 239.58 L200.91 236.08 L201.66 234.43 L207.72 237.93 M211.7 237.66 L205.63 234.16 M212.94 235.06 L210.21 232.74 L211.02 231.11 L214.88 231.18 L216.22 228.62 M210.21 232.74 L204.14 229.24 L204.96 227.61 L211.02 231.11 M214.88 231.18 L208.82 227.68 M216.22 228.62 L213.7 226 L214.57 224.39 L218.3 224.8 L219.74 222.28 M213.7 226 L207.63 222.5 L208.51 220.89 L214.57 224.39 M218.3 224.8 L212.24 221.3 M219.74 222.28 L217.43 219.36 L218.36 217.79 L221.95 218.54 L223.47 216.07 M217.43 219.36 L211.36 215.86 L212.29 214.29 L218.36 217.79 M221.95 218.54 L215.89 215.04 M223.47 216.07 L221.39 212.87 L222.37 211.33 L225.81 212.41 L227.41 210.01 M221.39 212.87 L215.32 209.37 L216.31 207.83 L222.37 211.33 M225.81 212.41 L219.74 208.91 M227.41 210.01 L225.56 206.53 L226.59 205.04 L229.86 206.45 L231.53 204.11 M225.56 206.53 L219.49 203.03 L220.53 201.54 L226.59 205.04 M229.86 206.45 L223.8 202.95 M231.53 204.11 L229.93 200.38 L231 198.94 L234.1 200.67 L235.84 198.42 M229.93 200.38 L223.86 196.88 L224.94 195.44 L231 198.94 M234.1 200.67 L228.03 197.17 M235.84 198.42 L234.48 194.44 L235.59 193.04 L238.5 195.1 L240.3 192.93 M234.48 194.44 L228.41 190.94 L229.53 189.54 L235.59 193.04 M238.5 195.1 L232.44 191.6 M240.3 192.93 L239.19 188.72 L240.35 187.38 L243.05 189.75 L244.91 187.68 M239.19 188.72 L233.13 185.22 L234.28 183.88 L240.35 187.38 M243.05 189.75 L236.99 186.25 M244.91 187.68 L244.06 183.25 L245.24 181.98 L247.74 184.65 L249.64 182.68 M244.06 183.25 L237.99 179.75 L239.18 178.48 L245.24 181.98 M247.74 184.65 L241.67 181.15 M249.64 182.68 L249.05 178.05 L250.26 176.85 L252.54 179.81 L254.49 177.95 M249.05 178.05 L242.99 174.55 L244.2 173.35 L250.26 176.85 M252.54 179.81 L246.48 176.31 M254.49 177.95 L254.15 173.14 L255.39 172.01 L257.44 175.25 L259.42 173.51 M254.15 173.14 L248.09 169.64 L249.33 168.51 L255.39 172.01 M257.44 175.25 L251.38 171.75 M259.42 173.51 L259.35 168.53 L260.61 167.48 L262.42 170.99 L264.43 169.37 M259.35 168.53 L253.29 165.03 L254.55 163.98 L260.61 167.48 M262.42 170.99 L256.36 167.49 M264.43 169.37 L264.63 164.25 L265.9 163.27 L267.47 167.04 L269.5 165.56 M264.63 164.25 L258.56 160.75 L259.84 159.77 L265.9 163.27 M267.47 167.04 L261.41 163.54 M269.5 165.56 L269.95 160.3 L271.24 159.41 L272.56 163.43 L274.6 162.07 M269.95 160.3 L263.89 156.8 L265.18 155.91 L271.24 159.41 M272.56 163.43 L266.5 159.93 M274.6 162.07 L275.32 156.71 L276.61 155.9 L277.68 160.15 L279.73 158.94 M275.32 156.71 L269.25 153.21 L270.54 152.4 L276.61 155.9 M277.68 160.15 L271.61 156.65 M279.73 158.94 L280.7 153.48 L281.99 152.76 L282.8 157.22 L284.85 156.16 M280.7 153.48 L274.63 149.98 L275.92 149.26 L281.99 152.76 M282.8 157.22 L276.74 153.72 M284.85 156.16 L286.07 150.63 L287.36 150.01 L287.91 154.66 L289.95 153.74 M286.07 150.63 L280.01 147.13 L281.3 146.51 L287.36 150.01 M287.91 154.66 L281.85 151.16 M289.95 153.74 L291.42 148.17 L292.7 147.64 L293 152.48 L295.02 151.71 M291.42 148.17 L285.36 144.67 L286.64 144.14 L292.7 147.64 M293 152.48 L286.93 148.98 M295.02 151.71 L296.73 146.1 L298 145.67 L298.03 150.67 L300.03 150.05 M296.73 146.1 L290.67 142.6 L291.94 142.17 L298 145.67 M298.03 150.67 L291.97 147.17 M300.03 150.05 L301.98 144.44 L303.23 144.11 L303 149.25 L304.96 148.79 M301.98 144.44 L295.92 140.94 L297.17 140.61 L303.23 144.11 M303 149.25 L296.93 145.75 M304.96 148.79 L307.15 143.19 L308.37 142.95 L307.88 148.22 L309.8 147.92 M307.15 143.19 L301.08 139.69 L302.31 139.45 L308.37 142.95 M307.88 148.22 L301.82 144.72 M309.8 147.92 L312.21 142.36 L313.41 142.22 L312.66 147.59 L314.54 147.45 M312.21 142.36 L306.15 138.86 L307.35 138.72 L313.41 142.22 M312.66 147.59 L306.6 144.09 M314.54 147.45 L317.16 141.94 L318.33 141.9 L317.32 147.36 L319.14 147.38 M317.16 141.94 L311.1 138.44 L312.27 138.4 L318.33 141.9 M317.32 147.36 L311.26 143.86 M319.14 147.38 L321.97 141.94 L323.1 142 L321.84 147.53 L323.61 147.71 M321.97 141.94 L315.91 138.44 L317.04 138.5 L323.1 142 M321.84 147.53 L315.78 144.03 M323.61 147.71 L326.63 142.36 L327.72 142.52 L326.21 148.1 L327.91 148.44 M326.63 142.36 L320.57 138.86 L321.66 139.02 L327.72 142.52 M326.21 148.1 L320.15 144.6 M327.91 148.44 L331.11 143.2 L332.16 143.46 L330.41 149.07 L332.03 149.56 M331.11 143.2 L325.05 139.7 L326.1 139.96 L332.16 143.46 M330.41 149.07 L324.34 145.57 M332.03 149.56 L335.41 144.45 L336.41 144.81 L334.42 150.42 L335.97 151.08 M335.41 144.45 L329.35 140.95 L330.35 141.31 L336.41 144.81 M334.42 150.42 L328.36 146.92 M335.97 151.08 L339.5 146.11 L340.46 146.57 L338.23 152.17 L339.7 152.98 M339.5 146.11 L333.44 142.61 L334.39 143.07 L340.46 146.57 M338.23 152.17 L332.17 148.67" fill="none" stroke="#111" stroke-width="1.25"/>
<path d="M336.2 159.04 L339.08 160.88 L341.79 162.98 L344.34 165.34 L346.71 167.96 L348.89 170.81 L350.88 173.9 L352.68 177.22 L354.28 180.76 L355.68 184.51 L356.86 188.45 L357.84 192.58 L358.6 196.89 L359.14 201.36 L359.47 205.99 L359.58 210.75 L359.47 215.65 L359.14 220.65 L358.59 225.75 L357.83 230.94 L356.85 236.2 L355.66 241.52 L354.26 246.88 L352.66 252.26 L350.86 257.66 L348.86 263.06 L346.68 268.44 L344.31 273.79 L341.76 279.09 L339.05 284.33 L336.17 289.5 L333.13 294.58 L329.95 299.55 L326.63 304.41 L323.18 309.13 L319.62 313.72 L315.94 318.15 L312.17 322.41 L308.3 326.49 L304.36 330.38 L300.35 334.06 L296.28 337.54 L292.17 340.8 L288.03 343.82 L283.86 346.61 L279.68 349.15 L275.5 351.44 L271.33 353.47 L267.18 355.23 L263.07 356.73 L259 357.95 L254.99 358.89 L251.05 359.56 L247.19 359.94 L243.41 360.05 L239.74 359.86 L236.17 359.4 L232.73 358.66 L229.41 357.63 L226.23 356.33 L223.2 354.76 L220.32 352.92 L217.61 350.82 L215.06 348.46 L212.69 345.84 L210.51 342.99 L208.52 339.9 L206.72 336.58 L205.12 333.04 L203.72 329.29 L202.54 325.35 L201.56 321.22 L200.8 316.91 L200.26 312.44 L199.93 307.81 L199.82 303.05 L199.93 298.15 L200.26 293.15 L200.81 288.05 L201.57 282.86 L202.55 277.6 L203.74 272.28 L205.14 266.92 L206.74 261.54 L208.54 256.14 L210.54 250.74 L212.72 245.36 L215.09 240.01 L217.64 234.71 L220.35 229.47 L223.23 224.3 L226.27 219.22 L229.45 214.25 L232.77 209.39 L236.22 204.67 L239.78 200.08 L243.46 195.65 L247.23 191.39 L251.1 187.31 L255.04 183.42 L259.05 179.74 L263.12 176.26 L267.23 173 L271.37 169.98 L275.54 167.19 L279.72 164.65 L283.9 162.36 L288.07 160.33 L292.22 158.57 L296.33 157.07 L300.4 155.85 L304.41 154.91 L308.35 154.24 L312.21 153.86 L315.99 153.75 L319.66 153.94 L323.23 154.4 L326.67 155.14 L329.99 156.17 L333.17 157.47 L336.2 159.04Z" fill="#fff" stroke="#111" stroke-width="1.5"/>
<path d="M335.15 160.86 L337.97 162.66 L340.64 164.73 L343.14 167.05 L345.46 169.61 L347.6 172.41 L349.56 175.45 L351.33 178.7 L352.9 182.17 L354.26 185.85 L355.43 189.72 L356.39 193.78 L357.13 198.01 L357.67 202.4 L357.99 206.94 L358.09 211.61 L357.99 216.41 L357.66 221.32 L357.13 226.33 L356.38 231.42 L355.42 236.59 L354.25 241.81 L352.88 247.06 L351.31 252.35 L349.54 257.65 L347.58 262.95 L345.43 268.23 L343.11 273.48 L340.61 278.68 L337.94 283.82 L335.12 288.89 L332.14 293.88 L329.02 298.76 L325.76 303.53 L322.38 308.16 L318.88 312.66 L315.27 317.01 L311.56 321.19 L307.77 325.19 L303.9 329.01 L299.97 332.63 L295.98 336.04 L291.94 339.24 L287.87 342.21 L283.78 344.94 L279.68 347.44 L275.57 349.68 L271.48 351.67 L267.41 353.41 L263.38 354.87 L259.39 356.07 L255.45 357 L251.58 357.65 L247.79 358.03 L244.09 358.13 L240.48 357.95 L236.98 357.5 L233.6 356.76 L230.35 355.76 L227.23 354.49 L224.25 352.94 L221.43 351.14 L218.76 349.07 L216.26 346.75 L213.94 344.19 L211.8 341.39 L209.84 338.35 L208.07 335.1 L206.5 331.63 L205.14 327.95 L203.97 324.08 L203.01 320.02 L202.27 315.79 L201.73 311.4 L201.41 306.86 L201.31 302.19 L201.41 297.39 L201.74 292.48 L202.27 287.47 L203.02 282.38 L203.98 277.21 L205.15 271.99 L206.52 266.74 L208.09 261.45 L209.86 256.15 L211.82 250.85 L213.97 245.57 L216.29 240.32 L218.79 235.12 L221.46 229.98 L224.28 224.91 L227.26 219.92 L230.38 215.04 L233.64 210.27 L237.02 205.64 L240.52 201.14 L244.13 196.79 L247.84 192.61 L251.63 188.61 L255.5 184.79 L259.43 181.17 L263.42 177.76 L267.46 174.56 L271.53 171.59 L275.62 168.86 L279.72 166.36 L283.83 164.12 L287.92 162.13 L291.99 160.39 L296.02 158.93 L300.01 157.73 L303.95 156.8 L307.82 156.15 L311.61 155.77 L315.31 155.67 L318.92 155.85 L322.42 156.3 L325.8 157.04 L329.05 158.04 L332.17 159.31 L335.15 160.86Z" fill="none" stroke="#111" stroke-width="1.0"/>
<path d="M257.69 201.28 L258.92 202.24 L259.92 203.54 L260.65 205.15 L261.1 207.04 L261.24 209.15 L261.09 211.43 L260.65 213.83 L259.92 216.29 L258.92 218.74 L257.68 221.13 L256.23 223.4 L254.6 225.49 L252.84 227.36 L250.98 228.94 L249.08 230.21 L247.18 231.14 L245.33 231.7 L243.56 231.87 L241.94 231.66 L240.49 231.07 L239.25 230.11 L238.25 228.81 L237.52 227.19 L237.08 225.31 L236.93 223.2 L237.08 220.91 L237.52 218.51 L238.25 216.06 L239.25 213.6 L240.49 211.21 L241.94 208.94 L243.57 206.85 L245.33 204.99 L247.19 203.4 L249.09 202.13 L250.99 201.2 L252.85 200.65 L254.61 200.47 L256.24 200.68 L257.69 201.28Z" fill="none" stroke="#111" stroke-width="1.5"/>
<path d="M260.11 203.87 L260.77 205.55 L261.15 207.49 L261.24 209.64 L261.02 211.96 L260.51 214.37 L259.72 216.84 L258.66 219.28 L257.38 221.65 L255.88 223.89 L254.22 225.93 L252.43 227.73 L250.56 229.25 L248.66 230.45 L246.76 231.3 L244.92 231.77 L243.19 231.86 L241.6 231.56 L240.19 230.89 L239 229.85 L238.06 228.47" fill="none" stroke="#111" stroke-width="0.5"/>
<path d="M240.18 228.8 L239.54 227.2 L239.18 225.35 L239.1 223.3 L239.31 221.09 L239.79 218.79 L240.55 216.44 L241.55 214.11 L242.78 211.85 L244.21 209.72 L245.79 207.77 L247.49 206.05 L249.28 204.6 L251.09 203.46 L252.9 202.65 L254.65 202.2 L256.31 202.12 L257.83 202.4 L259.17 203.04 L260.3 204.03 L261.19 205.34" fill="none" stroke="#111" stroke-width="0.8"/>
<path d="M314.94 168.2 L316.18 169.16 L317.18 170.46 L317.91 172.07 L318.35 173.96 L318.5 176.07 L318.35 178.35 L317.91 180.75 L317.18 183.21 L316.18 185.66 L314.94 188.06 L313.49 190.33 L311.86 192.42 L310.1 194.28 L308.24 195.86 L306.34 197.14 L304.44 198.06 L302.58 198.62 L300.82 198.79 L299.19 198.58 L297.74 197.99 L296.51 197.03 L295.51 195.73 L294.78 194.11 L294.33 192.23 L294.19 190.12 L294.34 187.83 L294.78 185.44 L295.51 182.98 L296.51 180.52 L297.75 178.13 L299.2 175.86 L300.83 173.77 L302.59 171.91 L304.45 170.32 L306.35 169.05 L308.25 168.13 L310.1 167.57 L311.87 167.39 L313.49 167.61 L314.94 168.2Z" fill="none" stroke="#111" stroke-width="1.5"/>
<path d="M317.37 170.79 L318.03 172.47 L318.41 174.41 L318.5 176.56 L318.28 178.88 L317.77 181.3 L316.98 183.76 L315.92 186.2 L314.63 188.57 L313.14 190.81 L311.48 192.85 L309.69 194.66 L307.82 196.17 L305.92 197.37 L304.02 198.22 L302.18 198.69 L300.45 198.78 L298.86 198.48 L297.45 197.81 L296.26 196.77 L295.32 195.39" fill="none" stroke="#111" stroke-width="0.5"/>
<path d="M297.44 195.72 L296.8 194.12 L296.44 192.27 L296.36 190.22 L296.56 188.01 L297.05 185.71 L297.81 183.36 L298.81 181.03 L300.04 178.77 L301.46 176.64 L303.05 174.69 L304.75 172.97 L306.53 171.52 L308.35 170.38 L310.16 169.57 L311.91 169.12 L313.57 169.04 L315.08 169.32 L316.43 169.96 L317.56 170.95 L318.45 172.27" fill="none" stroke="#111" stroke-width="0.8"/>
<path d="M343.56 208.93 L344.8 209.89 L345.79 211.19 L346.52 212.8 L346.97 214.69 L347.12 216.8 L346.97 219.08 L346.52 221.48 L345.79 223.94 L344.79 226.39 L343.55 228.78 L342.1 231.05 L340.47 233.14 L338.71 235.01 L336.86 236.59 L334.95 237.86 L333.05 238.79 L331.2 239.35 L329.44 239.52 L327.81 239.31 L326.36 238.72 L325.12 237.76 L324.12 236.46 L323.39 234.84 L322.95 232.96 L322.8 230.85 L322.95 228.56 L323.4 226.16 L324.13 223.71 L325.12 221.25 L326.36 218.86 L327.81 216.59 L329.44 214.5 L331.2 212.64 L333.06 211.05 L334.96 209.78 L336.86 208.85 L338.72 208.3 L340.48 208.12 L342.11 208.33 L343.56 208.93Z" fill="none" stroke="#111" stroke-width="1.5"/>
<path d="M345.98 211.52 L346.65 213.2 L347.03 215.14 L347.11 217.29 L346.89 219.61 L346.38 222.02 L345.59 224.49 L344.54 226.93 L343.25 229.3 L341.75 231.54 L340.09 233.58 L338.31 235.38 L336.44 236.9 L334.53 238.1 L332.63 238.95 L330.8 239.42 L329.06 239.51 L327.47 239.21 L326.06 238.54 L324.88 237.5 L323.94 236.12" fill="none" stroke="#111" stroke-width="0.5"/>
<path d="M326.05 236.45 L325.41 234.85 L325.05 233 L324.97 230.95 L325.18 228.74 L325.67 226.44 L326.42 224.09 L327.43 221.76 L328.65 219.5 L330.08 217.37 L331.66 215.42 L333.37 213.7 L335.15 212.25 L336.97 211.11 L338.77 210.3 L340.53 209.85 L342.18 209.77 L343.7 210.05 L345.04 210.69 L346.17 211.68 L347.07 212.99" fill="none" stroke="#111" stroke-width="0.8"/>
<path d="M314.91 282.73 L316.15 283.69 L317.15 284.99 L317.88 286.61 L318.32 288.49 L318.47 290.6 L318.32 292.89 L317.88 295.29 L317.15 297.74 L316.15 300.2 L314.91 302.59 L313.46 304.86 L311.83 306.95 L310.07 308.81 L308.21 310.4 L306.31 311.67 L304.41 312.6 L302.55 313.15 L300.79 313.33 L299.16 313.12 L297.71 312.52 L296.48 311.56 L295.48 310.26 L294.75 308.65 L294.3 306.76 L294.16 304.65 L294.31 302.37 L294.75 299.97 L295.48 297.51 L296.48 295.06 L297.72 292.67 L299.17 290.4 L300.8 288.31 L302.56 286.44 L304.42 284.86 L306.32 283.59 L308.22 282.66 L310.07 282.1 L311.84 281.93 L313.46 282.14 L314.91 282.73Z" fill="none" stroke="#111" stroke-width="1.5"/>
<path d="M317.34 285.33 L318 287.01 L318.38 288.95 L318.47 291.1 L318.25 293.41 L317.74 295.83 L316.95 298.29 L315.89 300.74 L314.6 303.11 L313.11 305.34 L311.45 307.39 L309.66 309.19 L307.79 310.71 L305.89 311.91 L303.99 312.75 L302.15 313.23 L300.42 313.31 L298.83 313.02 L297.42 312.34 L296.23 311.3 L295.29 309.93" fill="none" stroke="#111" stroke-width="0.5"/>
<path d="M297.41 310.26 L296.77 308.66 L296.41 306.81 L296.33 304.75 L296.53 302.55 L297.02 300.24 L297.78 297.89 L298.78 295.56 L300.01 293.3 L301.43 291.17 L303.02 289.22 L304.72 287.5 L306.5 286.06 L308.32 284.91 L310.13 284.11 L311.88 283.66 L313.54 283.57 L315.05 283.85 L316.4 284.5 L317.53 285.49 L318.42 286.8" fill="none" stroke="#111" stroke-width="0.8"/>
<path d="M257.66 315.81 L258.89 316.77 L259.89 318.07 L260.62 319.69 L261.07 321.57 L261.21 323.68 L261.06 325.97 L260.62 328.36 L259.89 330.82 L258.89 333.28 L257.65 335.67 L256.2 337.94 L254.57 340.03 L252.81 341.89 L250.95 343.48 L249.05 344.75 L247.15 345.67 L245.3 346.23 L243.53 346.41 L241.91 346.19 L240.46 345.6 L239.22 344.64 L238.22 343.34 L237.49 341.73 L237.05 339.84 L236.9 337.73 L237.05 335.45 L237.49 333.05 L238.22 330.59 L239.22 328.14 L240.46 325.74 L241.91 323.47 L243.54 321.38 L245.3 319.52 L247.16 317.94 L249.06 316.66 L250.96 315.74 L252.82 315.18 L254.58 315.01 L256.21 315.22 L257.66 315.81Z" fill="none" stroke="#111" stroke-width="1.5"/>
<path d="M260.08 318.41 L260.74 320.08 L261.12 322.02 L261.21 324.18 L260.99 326.49 L260.48 328.91 L259.69 331.37 L258.63 333.82 L257.35 336.19 L255.85 338.42 L254.19 340.46 L252.4 342.27 L250.53 343.79 L248.63 344.98 L246.73 345.83 L244.89 346.3 L243.16 346.39 L241.57 346.1 L240.16 345.42 L238.97 344.38 L238.03 343.01" fill="none" stroke="#111" stroke-width="0.5"/>
<path d="M240.15 343.33 L239.51 341.73 L239.15 339.89 L239.07 337.83 L239.28 335.63 L239.76 333.32 L240.52 330.97 L241.52 328.64 L242.75 326.38 L244.18 324.25 L245.76 322.3 L247.46 320.58 L249.25 319.13 L251.06 317.99 L252.87 317.19 L254.62 316.73 L256.28 316.65 L257.8 316.93 L259.14 317.58 L260.27 318.57 L261.16 319.88" fill="none" stroke="#111" stroke-width="0.8"/>
<path d="M229.04 275.08 L230.28 276.04 L231.28 277.34 L232.01 278.96 L232.45 280.84 L232.6 282.95 L232.45 285.24 L232 287.64 L231.27 290.09 L230.28 292.55 L229.04 294.94 L227.59 297.21 L225.96 299.3 L224.2 301.16 L222.34 302.75 L220.44 304.02 L218.54 304.95 L216.68 305.5 L214.92 305.68 L213.29 305.47 L211.84 304.87 L210.6 303.91 L209.61 302.61 L208.88 301 L208.43 299.11 L208.28 297 L208.43 294.72 L208.88 292.32 L209.61 289.86 L210.61 287.41 L211.85 285.02 L213.3 282.75 L214.93 280.66 L216.69 278.79 L218.54 277.21 L220.45 275.94 L222.35 275.01 L224.2 274.45 L225.96 274.28 L227.59 274.49 L229.04 275.08Z" fill="none" stroke="#111" stroke-width="1.5"/>
<path d="M231.46 277.68 L232.13 279.36 L232.51 281.3 L232.59 283.45 L232.38 285.76 L231.87 288.18 L231.07 290.64 L230.02 293.09 L228.73 295.46 L227.24 297.69 L225.58 299.74 L223.79 301.54 L221.92 303.06 L220.01 304.26 L218.12 305.1 L216.28 305.58 L214.54 305.66 L212.95 305.37 L211.55 304.69 L210.36 303.65 L209.42 302.28" fill="none" stroke="#111" stroke-width="0.5"/>
<path d="M211.53 302.61 L210.9 301.01 L210.53 299.16 L210.46 297.1 L210.66 294.9 L211.15 292.59 L211.9 290.24 L212.91 287.91 L214.14 285.65 L215.56 283.52 L217.15 281.57 L218.85 279.85 L220.63 278.41 L222.45 277.26 L224.26 276.46 L226.01 276.01 L227.67 275.92 L229.18 276.2 L230.52 276.85 L231.65 277.84 L232.55 279.15" fill="none" stroke="#111" stroke-width="0.8"/>
<path d="M339.65 165.21 L326.72 181.3 L325.99 182.37 L325.42 183.54 L325.07 184.73 L324.95 185.86 L325.07 186.84 L325.42 187.63 L332.84 198.18 L333.4 198.71 L334.14 198.93 L334.99 198.85 L335.9 198.46 L336.82 197.79 L337.67 196.89 L350.6 180.8" fill="#fff" stroke="#111" stroke-width="1.5"/>
<path d="M340.46 166.37 L328.14 181.7 L327.62 182.47 L327.21 183.31 L326.96 184.17 L326.87 184.98 L326.96 185.69 L327.21 186.25 L333.99 195.9 L334.4 196.28 L334.92 196.44 L335.54 196.38 L336.2 196.1 L336.86 195.62 L337.47 194.97 L349.79 179.64" fill="none" stroke="#111" stroke-width="1.0"/>
<path d="M341.23 176.73 L341.83 177.34 L342.14 178.27 L342.14 179.45 L341.83 180.75 L341.23 182.04 L340.4 183.21 L339.44 184.13 L338.42 184.72 L337.45 184.91 L336.63 184.7 L336.03 184.09 L335.72 183.16 L335.72 181.98 L336.03 180.68 L336.63 179.39 L337.45 178.22 L338.42 177.3 L339.44 176.71 L340.41 176.52 L341.23 176.73Z" fill="none" stroke="#111" stroke-width="1.2"/>
<path d="M341.28 178.26 L341.71 178.69 L341.93 179.36 L341.93 180.21 L341.71 181.14 L341.28 182.07 L340.69 182.9 L339.99 183.57 L339.26 183.99 L338.57 184.13 L337.98 183.97 L337.55 183.54 L337.33 182.87 L337.33 182.02 L337.55 181.09 L337.98 180.16 L338.57 179.33 L339.27 178.67 L340 178.24 L340.69 178.1 L341.28 178.26Z" fill="none" stroke="#111" stroke-width="0.8"/>
<path d="M350.58 248.78 L337.66 247.63 L336.8 247.71 L335.89 248.1 L334.97 248.77 L334.12 249.67 L333.39 250.74 L332.83 251.91 L325.4 271.05 L325.05 272.24 L324.93 273.36 L325.05 274.35 L325.4 275.13 L325.96 275.65 L326.69 275.88 L339.62 277.03" fill="#fff" stroke="#111" stroke-width="1.5"/>
<path d="M349.77 250.88 L337.46 249.78 L336.84 249.84 L336.18 250.12 L335.52 250.6 L334.91 251.25 L334.38 252.02 L333.98 252.86 L327.19 270.36 L326.93 271.21 L326.85 272.02 L326.93 272.74 L327.19 273.3 L327.59 273.67 L328.12 273.83 L340.43 274.93" fill="none" stroke="#111" stroke-width="1.0"/>
<path d="M341.21 258.37 L341.81 258.97 L342.12 259.91 L342.12 261.08 L341.8 262.38 L341.21 263.68 L340.38 264.85 L339.42 265.77 L338.4 266.36 L337.43 266.55 L336.61 266.34 L336.01 265.73 L335.7 264.8 L335.7 263.62 L336.01 262.32 L336.61 261.03 L337.43 259.86 L338.4 258.94 L339.42 258.35 L340.39 258.15 L341.21 258.37Z" fill="none" stroke="#111" stroke-width="1.2"/>
<path d="M341.26 259.89 L341.69 260.33 L341.91 261 L341.91 261.84 L341.69 262.77 L341.26 263.7 L340.67 264.54 L339.97 265.2 L339.24 265.62 L338.55 265.76 L337.96 265.61 L337.53 265.18 L337.3 264.51 L337.3 263.66 L337.53 262.73 L337.96 261.8 L338.55 260.96 L339.24 260.3 L339.97 259.88 L340.67 259.74 L341.26 259.89Z" fill="none" stroke="#111" stroke-width="0.8"/>
<path d="M288.63 340.47 L288.64 323.23 L288.52 322.24 L288.16 321.46 L287.6 320.94 L286.87 320.71 L286.02 320.8 L285.1 321.19 L270.26 329.76 L269.34 330.43 L268.49 331.33 L267.76 332.4 L267.2 333.57 L266.84 334.76 L266.72 335.89 L266.72 353.13" fill="#fff" stroke="#111" stroke-width="1.5"/>
<path d="M287.01 341.41 L287.01 324.98 L286.93 324.27 L286.67 323.71 L286.27 323.34 L285.74 323.17 L285.13 323.23 L284.47 323.51 L270.9 331.35 L270.24 331.84 L269.62 332.48 L269.1 333.26 L268.69 334.1 L268.44 334.95 L268.35 335.76 L268.35 352.19" fill="none" stroke="#111" stroke-width="1.0"/>
<path d="M279.98 334.55 L280.58 335.16 L280.89 336.09 L280.89 337.27 L280.58 338.57 L279.98 339.86 L279.15 341.03 L278.19 341.95 L277.17 342.54 L276.2 342.74 L275.38 342.52 L274.78 341.92 L274.47 340.98 L274.47 339.81 L274.78 338.51 L275.38 337.21 L276.2 336.04 L277.17 335.12 L278.19 334.53 L279.16 334.34 L279.98 334.55Z" fill="none" stroke="#111" stroke-width="1.2"/>
<path d="M280.03 336.08 L280.46 336.51 L280.68 337.18 L280.68 338.03 L280.46 338.96 L280.03 339.89 L279.44 340.73 L278.74 341.39 L278.01 341.81 L277.32 341.95 L276.73 341.8 L276.3 341.36 L276.07 340.69 L276.07 339.85 L276.3 338.91 L276.73 337.99 L277.32 337.15 L278.01 336.49 L278.74 336.07 L279.44 335.93 L280.03 336.08Z" fill="none" stroke="#111" stroke-width="0.8"/>
<path d="M215.75 348.59 L228.68 332.5 L229.41 331.43 L229.98 330.26 L230.33 329.07 L230.45 327.94 L230.33 326.96 L229.98 326.17 L222.56 315.62 L222 315.09 L221.26 314.87 L220.41 314.95 L219.5 315.34 L218.58 316.01 L217.73 316.91 L204.8 333" fill="#fff" stroke="#111" stroke-width="1.5"/>
<path d="M214.94 347.43 L227.26 332.1 L227.78 331.33 L228.19 330.49 L228.44 329.63 L228.53 328.82 L228.44 328.11 L228.19 327.55 L221.41 317.9 L221 317.52 L220.48 317.36 L219.86 317.42 L219.2 317.7 L218.54 318.18 L217.93 318.83 L205.61 334.16" fill="none" stroke="#111" stroke-width="1.0"/>
<path d="M218.77 329.1 L219.37 329.71 L219.68 330.64 L219.68 331.82 L219.37 333.12 L218.77 334.41 L217.95 335.58 L216.98 336.5 L215.96 337.09 L214.99 337.28 L214.17 337.07 L213.57 336.46 L213.26 335.53 L213.26 334.35 L213.57 333.05 L214.17 331.76 L215 330.59 L215.96 329.67 L216.98 329.08 L217.95 328.89 L218.77 329.1Z" fill="none" stroke="#111" stroke-width="1.2"/>
<path d="M218.82 330.63 L219.25 331.06 L219.47 331.73 L219.47 332.58 L219.25 333.51 L218.82 334.44 L218.23 335.27 L217.53 335.93 L216.8 336.36 L216.11 336.5 L215.52 336.34 L215.09 335.91 L214.87 335.24 L214.87 334.39 L215.09 333.46 L215.52 332.53 L216.11 331.7 L216.81 331.03 L217.54 330.61 L218.23 330.47 L218.82 330.63Z" fill="none" stroke="#111" stroke-width="0.8"/>
<path d="M204.82 265.02 L217.74 266.17 L218.6 266.09 L219.51 265.7 L220.43 265.03 L221.28 264.13 L222.01 263.06 L222.57 261.89 L230 242.75 L230.35 241.56 L230.47 240.44 L230.35 239.45 L230 238.67 L229.44 238.15 L228.71 237.92 L215.78 236.77" fill="#fff" stroke="#111" stroke-width="1.5"/>
<path d="M205.63 262.92 L217.94 264.02 L218.56 263.96 L219.22 263.68 L219.88 263.2 L220.49 262.55 L221.02 261.78 L221.42 260.94 L228.21 243.44 L228.47 242.59 L228.55 241.78 L228.47 241.06 L228.21 240.5 L227.81 240.13 L227.28 239.97 L214.97 238.87" fill="none" stroke="#111" stroke-width="1.0"/>
<path d="M218.79 247.46 L219.39 248.07 L219.7 249 L219.7 250.18 L219.39 251.48 L218.79 252.77 L217.97 253.94 L217 254.86 L215.98 255.45 L215.01 255.65 L214.19 255.43 L213.59 254.83 L213.28 253.89 L213.28 252.72 L213.6 251.42 L214.19 250.12 L215.02 248.95 L215.98 248.03 L217 247.44 L217.97 247.25 L218.79 247.46Z" fill="none" stroke="#111" stroke-width="1.2"/>
<path d="M218.84 248.99 L219.27 249.42 L219.5 250.09 L219.5 250.94 L219.27 251.87 L218.84 252.8 L218.25 253.64 L217.56 254.3 L216.83 254.72 L216.13 254.86 L215.54 254.71 L215.11 254.27 L214.89 253.6 L214.89 252.76 L215.11 251.83 L215.54 250.9 L216.13 250.06 L216.83 249.4 L217.56 248.98 L218.25 248.84 L218.84 248.99Z" fill="none" stroke="#111" stroke-width="0.8"/>
<path d="M266.77 173.33 L266.76 190.57 L266.88 191.56 L267.24 192.34 L267.8 192.86 L268.53 193.09 L269.38 193 L270.3 192.61 L285.14 184.04 L286.06 183.37 L286.91 182.47 L287.64 181.4 L288.2 180.23 L288.56 179.04 L288.68 177.91 L288.68 160.67" fill="#fff" stroke="#111" stroke-width="1.5"/>
<path d="M268.39 172.39 L268.39 188.82 L268.47 189.53 L268.73 190.09 L269.13 190.46 L269.66 190.63 L270.27 190.57 L270.93 190.29 L284.5 182.45 L285.16 181.96 L285.78 181.32 L286.3 180.54 L286.71 179.7 L286.96 178.85 L287.05 178.04 L287.05 161.61" fill="none" stroke="#111" stroke-width="1.0"/>
<path d="M280.02 171.28 L280.62 171.88 L280.93 172.82 L280.93 173.99 L280.62 175.29 L280.02 176.59 L279.2 177.76 L278.23 178.68 L277.21 179.27 L276.24 179.46 L275.42 179.25 L274.82 178.64 L274.51 177.71 L274.51 176.53 L274.82 175.23 L275.42 173.94 L276.25 172.77 L277.21 171.85 L278.23 171.26 L279.2 171.06 L280.02 171.28Z" fill="none" stroke="#111" stroke-width="1.2"/>
<path d="M280.07 172.8 L280.5 173.24 L280.73 173.91 L280.73 174.75 L280.5 175.69 L280.07 176.61 L279.48 177.45 L278.79 178.11 L278.06 178.53 L277.36 178.67 L276.77 178.52 L276.34 178.09 L276.12 177.42 L276.12 176.57 L276.34 175.64 L276.77 174.71 L277.36 173.87 L278.06 173.21 L278.79 172.79 L279.48 172.65 L280.07 172.8Z" fill="none" stroke="#111" stroke-width="0.8"/>
<path d="M306.9 206.32 L308.86 207.62 L310.68 209.16 L312.33 210.93 L313.81 212.93 L315.12 215.14 L316.25 217.55 L317.18 220.15 L317.93 222.94 L318.48 225.89 L318.83 228.99 L318.98 232.22 L318.93 235.58 L318.67 239.04 L318.22 242.59 L317.57 246.2 L316.73 249.87 L315.7 253.58 L314.48 257.29 L313.08 261.01 L311.51 264.71 L309.77 268.37 L307.88 271.97 L305.85 275.5 L303.67 278.94 L301.37 282.27 L298.95 285.48 L296.43 288.55 L293.82 291.47 L291.13 294.21 L288.37 296.78 L285.56 299.15 L282.72 301.31 L279.85 303.26 L276.97 304.99 L274.09 306.47 L271.23 307.72 L268.4 308.72 L265.62 309.47 L262.89 309.96 L260.24 310.19 L257.67 310.16 L255.21 309.87 L252.85 309.33 L250.61 308.53 L248.5 307.48 L246.54 306.18 L244.72 304.64 L243.07 302.87 L241.59 300.87 L240.28 298.66 L239.15 296.25 L238.22 293.65 L237.47 290.86 L236.92 287.91 L236.57 284.81 L236.42 281.58 L236.47 278.22 L236.73 274.76 L237.18 271.21 L237.83 267.6 L238.67 263.93 L239.7 260.22 L240.92 256.51 L242.32 252.79 L243.89 249.09 L245.63 245.43 L247.52 241.83 L249.55 238.3 L251.73 234.86 L254.03 231.53 L256.45 228.32 L258.97 225.25 L261.58 222.33 L264.27 219.59 L267.03 217.02 L269.84 214.65 L272.68 212.49 L275.55 210.54 L278.43 208.81 L281.31 207.33 L284.17 206.08 L287 205.08 L289.78 204.33 L292.51 203.84 L295.16 203.61 L297.73 203.64 L300.19 203.93 L302.55 204.47 L304.79 205.27 L306.9 206.32Z" fill="#fff" stroke="#111" stroke-width="2.0"/>
<path d="M305.3 209.1 L307.16 210.32 L308.87 211.78 L310.43 213.45 L311.83 215.34 L313.07 217.43 L314.13 219.71 L315.02 222.17 L315.72 224.8 L316.24 227.59 L316.57 230.52 L316.71 233.57 L316.67 236.75 L316.43 240.02 L316 243.37 L315.39 246.79 L314.59 250.26 L313.61 253.76 L312.46 257.27 L311.14 260.79 L309.66 264.28 L308.02 267.74 L306.23 271.15 L304.3 274.48 L302.25 277.73 L300.07 280.88 L297.79 283.92 L295.4 286.82 L292.94 289.57 L290.39 292.17 L287.79 294.59 L285.13 296.83 L282.44 298.88 L279.73 300.72 L277.01 302.35 L274.29 303.76 L271.58 304.94 L268.91 305.88 L266.28 306.59 L263.71 307.05 L261.2 307.27 L258.77 307.24 L256.44 306.97 L254.21 306.46 L252.09 305.7 L250.1 304.7 L248.24 303.48 L246.53 302.02 L244.97 300.35 L243.57 298.46 L242.33 296.37 L241.27 294.09 L240.38 291.63 L239.68 289 L239.16 286.21 L238.83 283.28 L238.69 280.23 L238.73 277.05 L238.97 273.78 L239.4 270.43 L240.01 267.01 L240.81 263.54 L241.79 260.04 L242.94 256.53 L244.26 253.01 L245.74 249.52 L247.38 246.06 L249.17 242.65 L251.1 239.32 L253.15 236.07 L255.33 232.92 L257.61 229.88 L260 226.98 L262.46 224.23 L265.01 221.63 L267.61 219.21 L270.27 216.97 L272.96 214.92 L275.67 213.08 L278.39 211.45 L281.11 210.04 L283.82 208.86 L286.49 207.92 L289.12 207.21 L291.69 206.75 L294.2 206.53 L296.63 206.56 L298.96 206.83 L301.19 207.34 L303.31 208.1 L305.3 209.1Z" fill="none" stroke="#111" stroke-width="2.0"/>
<path d="M300.2 217.93 L301.71 218.93 L303.11 220.11 L304.38 221.48 L305.53 223.02 L306.53 224.72 L307.4 226.58 L308.12 228.59 L308.7 230.73 L309.12 233 L309.39 235.39 L309.51 237.88 L309.47 240.47 L309.27 243.14 L308.92 245.87 L308.42 248.66 L307.77 251.48 L306.98 254.34 L306.04 257.2 L304.96 260.07 L303.75 262.92 L302.42 265.74 L300.96 268.51 L299.39 271.23 L297.71 273.88 L295.94 276.45 L294.08 278.92 L292.13 281.29 L290.12 283.54 L288.05 285.65 L285.92 287.63 L283.76 289.46 L281.57 291.12 L279.36 292.62 L277.14 293.95 L274.92 295.1 L272.71 296.06 L270.53 296.83 L268.39 297.4 L266.29 297.78 L264.25 297.96 L262.27 297.94 L260.37 297.72 L258.55 297.3 L256.82 296.68 L255.2 295.87 L253.69 294.87 L252.29 293.69 L251.02 292.32 L249.87 290.78 L248.87 289.08 L248 287.22 L247.28 285.21 L246.7 283.07 L246.28 280.8 L246.01 278.41 L245.89 275.92 L245.93 273.33 L246.13 270.66 L246.48 267.93 L246.98 265.14 L247.63 262.32 L248.42 259.46 L249.36 256.6 L250.44 253.73 L251.65 250.88 L252.98 248.06 L254.44 245.29 L256.01 242.57 L257.69 239.92 L259.46 237.35 L261.32 234.88 L263.27 232.51 L265.28 230.26 L267.35 228.15 L269.48 226.17 L271.64 224.34 L273.83 222.68 L276.04 221.18 L278.26 219.85 L280.48 218.7 L282.69 217.74 L284.87 216.97 L287.01 216.4 L289.11 216.02 L291.15 215.84 L293.13 215.86 L295.03 216.08 L296.85 216.5 L298.58 217.12 L300.2 217.93Z" fill="none" stroke="#111" stroke-width="1.5"/>
<path d="M295.9 225.38 L296.54 226.02 L296.87 227.02 L296.87 228.27 L296.54 229.65 L295.9 231.03 L295.02 232.28 L293.99 233.26 L292.91 233.88 L291.88 234.09 L291 233.86 L290.36 233.22 L290.03 232.22 L290.03 230.97 L290.36 229.59 L291 228.21 L291.88 226.96 L292.91 225.98 L293.99 225.36 L295.02 225.15 L295.9 225.38Z" fill="none" stroke="#111" stroke-width="1.4"/>
<path d="M296.15 227 L296.62 227.48 L296.86 228.21 L296.86 229.13 L296.62 230.14 L296.15 231.16 L295.5 232.07 L294.75 232.79 L293.95 233.25 L293.19 233.41 L292.55 233.24 L292.08 232.76 L291.84 232.03 L291.84 231.11 L292.08 230.1 L292.55 229.08 L293.2 228.17 L293.95 227.45 L294.75 226.99 L295.51 226.83 L296.15 227Z" fill="none" stroke="#111" stroke-width="0.7"/>
<path d="M302.42 239.79 L303.05 240.44 L303.39 241.43 L303.39 242.69 L303.05 244.07 L302.42 245.45 L301.54 246.69 L300.51 247.67 L299.42 248.3 L298.39 248.51 L297.52 248.28 L296.88 247.64 L296.55 246.64 L296.55 245.39 L296.88 244 L297.52 242.62 L298.4 241.38 L299.43 240.4 L300.51 239.77 L301.54 239.56 L302.42 239.79Z" fill="none" stroke="#111" stroke-width="1.4"/>
<path d="M302.67 241.42 L303.13 241.89 L303.38 242.62 L303.38 243.54 L303.13 244.56 L302.67 245.57 L302.02 246.49 L301.26 247.21 L300.47 247.67 L299.71 247.82 L299.07 247.65 L298.6 247.18 L298.35 246.45 L298.35 245.53 L298.6 244.51 L299.07 243.5 L299.71 242.59 L300.47 241.86 L301.27 241.4 L302.02 241.25 L302.67 241.42Z" fill="none" stroke="#111" stroke-width="0.7"/>
<path d="M295.89 261.74 L296.53 262.39 L296.86 263.39 L296.86 264.64 L296.53 266.02 L295.89 267.4 L295.01 268.64 L293.98 269.63 L292.9 270.25 L291.87 270.46 L290.99 270.23 L290.35 269.59 L290.02 268.59 L290.02 267.34 L290.35 265.95 L290.99 264.57 L291.87 263.33 L292.9 262.35 L293.98 261.72 L295.01 261.52 L295.89 261.74Z" fill="none" stroke="#111" stroke-width="1.4"/>
<path d="M296.14 263.37 L296.61 263.84 L296.85 264.58 L296.85 265.5 L296.61 266.51 L296.14 267.53 L295.5 268.44 L294.74 269.16 L293.94 269.62 L293.18 269.77 L292.54 269.61 L292.07 269.13 L291.83 268.4 L291.83 267.48 L292.07 266.46 L292.54 265.45 L293.19 264.54 L293.94 263.81 L294.74 263.36 L295.5 263.2 L296.14 263.37Z" fill="none" stroke="#111" stroke-width="0.7"/>
<path d="M280.14 278.37 L280.78 279.02 L281.11 280.01 L281.11 281.27 L280.78 282.65 L280.14 284.03 L279.26 285.27 L278.23 286.25 L277.15 286.88 L276.12 287.09 L275.24 286.86 L274.61 286.21 L274.27 285.22 L274.27 283.97 L274.61 282.58 L275.24 281.2 L276.12 279.96 L277.15 278.98 L278.24 278.35 L279.27 278.14 L280.14 278.37Z" fill="none" stroke="#111" stroke-width="1.4"/>
<path d="M280.39 280 L280.86 280.47 L281.11 281.2 L281.11 282.12 L280.86 283.14 L280.39 284.15 L279.75 285.07 L278.99 285.79 L278.19 286.25 L277.44 286.4 L276.79 286.23 L276.33 285.76 L276.08 285.03 L276.08 284.11 L276.33 283.09 L276.79 282.08 L277.44 281.16 L278.2 280.44 L278.99 279.98 L279.75 279.83 L280.39 280Z" fill="none" stroke="#111" stroke-width="0.7"/>
<path d="M264.4 279.94 L265.04 280.58 L265.37 281.58 L265.37 282.83 L265.04 284.21 L264.4 285.59 L263.52 286.84 L262.49 287.82 L261.41 288.44 L260.38 288.65 L259.5 288.42 L258.86 287.78 L258.53 286.78 L258.53 285.53 L258.86 284.15 L259.5 282.77 L260.38 281.52 L261.41 280.54 L262.49 279.92 L263.52 279.71 L264.4 279.94Z" fill="none" stroke="#111" stroke-width="1.4"/>
<path d="M264.65 281.56 L265.12 282.04 L265.36 282.77 L265.36 283.69 L265.12 284.7 L264.65 285.72 L264 286.63 L263.25 287.35 L262.45 287.81 L261.69 287.97 L261.05 287.8 L260.58 287.32 L260.34 286.59 L260.34 285.67 L260.58 284.66 L261.05 283.64 L261.7 282.73 L262.45 282.01 L263.25 281.55 L264.01 281.39 L264.65 281.56Z" fill="none" stroke="#111" stroke-width="0.7"/>
<path d="M257.88 265.52 L258.52 266.16 L258.85 267.16 L258.85 268.41 L258.52 269.8 L257.88 271.18 L257 272.42 L255.97 273.4 L254.89 274.03 L253.86 274.24 L252.98 274.01 L252.35 273.36 L252.01 272.37 L252.01 271.11 L252.35 269.73 L252.98 268.35 L253.86 267.11 L254.89 266.13 L255.98 265.5 L257.01 265.29 L257.88 265.52Z" fill="none" stroke="#111" stroke-width="1.4"/>
<path d="M258.13 267.15 L258.6 267.62 L258.85 268.35 L258.85 269.27 L258.6 270.29 L258.13 271.3 L257.49 272.21 L256.73 272.94 L255.93 273.4 L255.18 273.55 L254.53 273.38 L254.07 272.91 L253.82 272.18 L253.82 271.26 L254.07 270.24 L254.53 269.23 L255.18 268.31 L255.94 267.59 L256.73 267.13 L257.49 266.98 L258.13 267.15Z" fill="none" stroke="#111" stroke-width="0.7"/>
<path d="M264.41 243.57 L265.05 244.21 L265.38 245.21 L265.38 246.46 L265.05 247.85 L264.41 249.23 L263.53 250.47 L262.5 251.45 L261.42 252.08 L260.39 252.28 L259.51 252.06 L258.87 251.41 L258.54 250.41 L258.54 249.16 L258.87 247.78 L259.51 246.4 L260.39 245.16 L261.42 244.17 L262.5 243.55 L263.53 243.34 L264.41 243.57Z" fill="none" stroke="#111" stroke-width="1.4"/>
<path d="M264.66 245.19 L265.13 245.67 L265.37 246.4 L265.37 247.32 L265.13 248.34 L264.66 249.35 L264.01 250.26 L263.26 250.99 L262.46 251.44 L261.7 251.6 L261.06 251.43 L260.59 250.96 L260.35 250.22 L260.35 249.3 L260.59 248.29 L261.06 247.27 L261.7 246.36 L262.46 245.64 L263.26 245.18 L264.02 245.03 L264.66 245.19Z" fill="none" stroke="#111" stroke-width="0.7"/>
<path d="M280.16 226.94 L280.79 227.59 L281.13 228.58 L281.13 229.83 L280.79 231.22 L280.16 232.6 L279.28 233.84 L278.25 234.82 L277.16 235.45 L276.13 235.66 L275.26 235.43 L274.62 234.78 L274.29 233.79 L274.29 232.53 L274.62 231.15 L275.26 229.77 L276.14 228.53 L277.17 227.55 L278.25 226.92 L279.28 226.71 L280.16 226.94Z" fill="none" stroke="#111" stroke-width="1.4"/>
<path d="M280.41 228.57 L280.87 229.04 L281.12 229.77 L281.12 230.69 L280.87 231.71 L280.41 232.72 L279.76 233.64 L279 234.36 L278.21 234.82 L277.45 234.97 L276.81 234.8 L276.34 234.33 L276.09 233.6 L276.09 232.68 L276.34 231.66 L276.81 230.65 L277.45 229.73 L278.21 229.01 L279.01 228.55 L279.76 228.4 L280.41 228.57Z" fill="none" stroke="#111" stroke-width="0.7"/>
<path d="M287.1 240.62 L288.2 241.43 L289.14 242.48 L289.9 243.76 L290.46 245.25 L290.83 246.92 L290.98 248.74 L290.93 250.7 L290.67 252.76 L290.2 254.88 L289.54 257.03 L288.69 259.18 L287.67 261.29 L286.49 263.34 L285.17 265.28 L283.73 267.09 L282.2 268.74 L280.6 270.2 L278.95 271.46 L277.28 272.48 L275.62 273.26 L273.99 273.78 L272.42 274.03 L270.93 274.02 L269.55 273.73 L268.3 273.18 L267.2 272.37 L266.26 271.32 L265.5 270.04 L264.94 268.55 L264.57 266.88 L264.42 265.06 L264.47 263.1 L264.73 261.04 L265.2 258.92 L265.86 256.77 L266.71 254.62 L267.73 252.51 L268.91 250.46 L270.23 248.52 L271.67 246.71 L273.2 245.06 L274.8 243.6 L276.45 242.34 L278.12 241.32 L279.78 240.54 L281.41 240.02 L282.98 239.77 L284.47 239.78 L285.85 240.07 L287.1 240.62Z" fill="#fff" stroke="#111" stroke-width="2.8"/>
<path d="M287.25 245.94 L288.1 246.57 L288.82 247.38 L289.41 248.36 L289.84 249.51 L290.12 250.8 L290.24 252.21 L290.2 253.72 L290 255.3 L289.64 256.94 L289.13 258.6 L288.48 260.26 L287.69 261.89 L286.78 263.46 L285.76 264.96 L284.65 266.36 L283.47 267.63 L282.23 268.76 L280.96 269.73 L279.67 270.52 L278.39 271.12 L277.14 271.52 L275.93 271.72 L274.78 271.7 L273.72 271.48 L272.75 271.06 L271.9 270.43 L271.18 269.62 L270.59 268.64 L270.16 267.49 L269.88 266.2 L269.76 264.79 L269.8 263.28 L270 261.7 L270.36 260.06 L270.87 258.4 L271.52 256.74 L272.31 255.11 L273.22 253.54 L274.24 252.04 L275.35 250.64 L276.53 249.37 L277.77 248.24 L279.04 247.27 L280.33 246.48 L281.61 245.88 L282.86 245.48 L284.07 245.28 L285.22 245.3 L286.28 245.52 L287.25 245.94Z" fill="none" stroke="#111" stroke-width="1.6"/>
<path d="M289.71 256.48 L289.52 257.31 L289.29 258.15 L289.01 258.99 L288.7 259.83 L288.34 260.67 L287.95 261.49 L287.52 262.31 L287.06 263.1 L286.57 263.88 L286.05 264.64 L285.5 265.36 L284.93 266.05 L284.34 266.71 L283.74 267.33 L283.11 267.91 L282.48 268.45 L281.83 268.94 L281.19 269.38 L280.53 269.77 L279.88 270.1 L279.24 270.39 L278.6 270.61 L277.97 270.78 L277.35 270.89 L276.75 270.94 L276.17 270.94 L275.62 270.87 L275.08 270.75 L274.58 270.57 L274.1 270.33 L273.66 270.04 L273.25 269.69 L272.87 269.29 L272.54 268.84 L272.24 268.34 L271.99 267.79 L271.78 267.21 L271.61 266.58 L271.48 265.91 L271.4 265.21 L271.37 264.48 L271.38 263.72 L271.44 262.94 L271.54 262.14 L271.69 261.32 L271.88 260.49 L272.11 259.65 L272.39 258.81 L272.7 257.97 L273.06 257.13" fill="none" stroke="#111" stroke-width="1.0"/>
<path d="M197.82 250.93 L197.19 250.71 L196.5 250.65 L195.77 250.76 L195.01 251.02 L194.24 251.43 L193.49 251.99 L192.76 252.67 L192.08 253.47 L191.47 254.35 L190.93 255.31 L190.49 256.31 L190.15 257.34 L189.92 258.36 L189.81 259.35 L189.82 260.29 L189.95 261.15 L190.19 261.91 L190.55 262.56 L191.01 263.08 L191.56 263.45 L198.43 266.89 L199.06 267.1 L199.75 267.16 L200.48 267.06 L201.24 266.79 L202.01 266.38 L202.76 265.82 L203.49 265.14 L204.17 264.35 L204.78 263.46 L205.32 262.5 L205.76 261.5 L206.1 260.48 L206.33 259.46 L206.44 258.46 L206.43 257.53 L206.3 256.66 L206.06 255.9 L205.7 255.25 L205.24 254.73 L204.69 254.36Z" fill="#fff" stroke="#111" stroke-width="1.5"/>
<path d="M198.43 266.89 L199.06 267.1 L199.75 267.16 L200.48 267.06 L201.24 266.79 L202.01 266.38 L202.76 265.82 L203.49 265.14 L204.17 264.35 L204.78 263.46 L205.32 262.5 L205.76 261.5 L206.1 260.48 L206.33 259.46 L206.44 258.46 L206.43 257.53 L206.3 256.66 L206.06 255.9 L205.7 255.25 L205.24 254.73 L204.69 254.36 L204.07 254.15 L203.38 254.09 L202.65 254.19 L201.89 254.46 L201.12 254.87 L200.36 255.43 L199.64 256.11 L198.96 256.9 L198.34 257.79 L197.81 258.75 L197.36 259.75 L197.02 260.77 L196.79 261.79 L196.68 262.79 L196.69 263.72 L196.82 264.59 L197.07 265.35 L197.42 266 L197.88 266.52 L198.43 266.89Z" fill="#fff" stroke="#111" stroke-width="1.5"/>
<path d="M242 162L436.9 273.1" stroke="#333" stroke-width="0.8" stroke-dasharray="7 3.5" fill="none"/>
<path d="M315.3 120.7L509.2 232.5" stroke="#333" stroke-width="0.8" stroke-dasharray="7 3.5" fill="none"/>
<path d="M368.3 138.7L562.3 250.5" stroke="#333" stroke-width="0.8" stroke-dasharray="7 3.5" fill="none"/>
<path d="M384 216L578.9 328" stroke="#333" stroke-width="0.8" stroke-dasharray="7 3.5" fill="none"/>
<path d="M173.8 339L365.8 449" stroke="#333" stroke-width="0.8" stroke-dasharray="7 3.5" fill="none"/>
<path d="M232 394.5L426 505.2" stroke="#333" stroke-width="0.8" stroke-dasharray="7 3.5" fill="none"/>
<path d="M322.5 344.3L516.9 456.25" stroke="#333" stroke-width="0.8" stroke-dasharray="7 3.5" fill="none"/>
<path d="M199.2 212.2L400 327" stroke="#333" stroke-width="0.8" stroke-dasharray="7 3.5" fill="none"/>
<path d="M170.8 299.3L372 410" stroke="#333" stroke-width="0.8" stroke-dasharray="7 3.5" fill="none"/>
<path d="M185 395L379 507.5" stroke="#333" stroke-width="0.8" stroke-dasharray="7 3.5" fill="none"/>
<path d="M130 172.5L165 191" stroke="#333" stroke-width="0.8" stroke-dasharray="7 3.5" fill="none"/>
<path d="M77.5 275.8L107.5 292.8" stroke="#333" stroke-width="0.8" stroke-dasharray="7 3.5" fill="none"/>
<path d="M149.3 374.5L185 395" stroke="#333" stroke-width="0.8" stroke-dasharray="7 3.5" fill="none"/>
<path d="M109.4 159.7L121.9 167.5" stroke="#333" stroke-width="0.8" stroke-dasharray="7 3.5" fill="none"/>
<path d="M135 366L149.3 374.5" stroke="#333" stroke-width="0.8" stroke-dasharray="7 3.5" fill="none"/>
<path d="M112.5 292 L112.5 265.5 L136 279" stroke="#333" stroke-width="0.8" stroke-dasharray="7 3.5" fill="none"/>
<path d="M376.3 304.4 C378.19 298.5 379.13 295.9 381 291.9 C382.87 287.9 385.76 282.89 388 279.4 C390.24 275.91 392.87 272.85 395 270.1 C397.13 267.35 399.92 264.2 401.3 262.2 C402.68 260.2 402.61 258.85 403.6 257.6 C404.59 256.35 405.87 255.04 407.5 254.4 C409.13 253.76 412.04 253.6 413.8 253.6 C415.56 253.6 417 254.77 418.5 254.4 C420 254.03 418.83 252.92 423.2 251.3 C427.57 249.68 441.3 246.04 445.8 244.3 C450.3 242.56 450.05 242.27 451.3 240.4 C452.55 238.53 452.85 234.86 453.6 232.6 C454.35 230.34 454.86 228.19 456 226.3 C457.14 224.41 458.83 222.05 460.7 220.8 C462.57 219.55 465.46 219.88 467.7 218.5 C469.94 217.12 472.83 213.83 474.7 212.2 C476.57 210.57 477.93 209.32 479.4 208.3 C480.87 207.28 478.33 205.54 483.9 205.8 C489.47 206.06 505.72 209.92 514.2 209.9 C522.68 209.88 531.27 205.7 536.9 205.7 C542.53 205.7 546.9 208.73 549.4 209.9 C551.9 211.07 550.5 211.88 552.5 213 C554.5 214.12 560.03 215.76 561.9 216.9 C563.77 218.04 564.2 218.1 564.2 220.1 C564.2 222.1 562.4 226.9 561.9 229.4 C561.4 231.9 560.6 233.19 561.1 235.7 C561.6 238.21 564.25 242.6 565 245.1 C565.75 247.6 565.54 249.06 565.8 251.3 C566.06 253.54 565.48 253.6 566.6 259.1 C567.72 264.6 571.78 280.15 572.8 285.7 C573.82 291.25 573.14 291 573 293.8 C572.86 296.6 571.71 300.7 571.9 303.2 C572.09 305.7 573.19 307.4 574.2 309.4 C575.21 311.4 577.69 313.44 578.2 315.7 C578.71 317.96 578.28 321 577.4 323.5 C576.52 326 574.08 329.3 572.7 331.3 C571.32 333.3 569.68 333.74 568.8 336 C567.92 338.26 568.21 341.4 567.2 345.4 C566.19 349.4 563.75 356.25 562.5 361 C561.25 365.75 560.26 370.84 559.4 375.1 C558.54 379.36 557.9 384.61 557.1 387.6 C556.3 390.59 555.58 391.81 554.4 393.8 C553.22 395.79 551.7 398.05 549.7 400.05 C547.7 402.05 543.64 404.05 541.9 406.3 C540.16 408.55 539.3 411.35 538.8 414.1 C538.3 416.85 539.3 420.25 538.8 423.5 C538.3 426.75 536.9 430.9 535.65 434.4 C534.4 437.9 533 441.9 531 445.4 C529 448.9 526.41 453.05 523.15 456.3 C519.89 459.55 515.65 462.45 510.65 465.7 C505.65 468.95 498.66 472.6 491.9 476.6 C485.14 480.6 475.15 486.83 468.4 490.7 C461.65 494.57 454.44 498.64 449.7 500.8 C444.96 502.96 442.8 503.11 438.8 504.2 C434.8 505.29 427.71 506.82 424.7 507.6 C421.69 508.38 421.74 508.24 420 509.1 C418.26 509.96 415.8 512.74 413.8 513 C411.8 513.26 410 511.82 407.5 510.7 C405 509.58 402.44 506.56 398.2 506 C393.96 505.44 384.76 506.94 381 507.2 C377.24 507.46 376.72 506.91 374.7 507.6 C372.68 508.29 370.02 510.7 368.4 511.5 C366.78 512.3 365.72 512.86 364.6 512.6 C363.48 512.34 362.28 511.71 361.4 509.9 C360.52 508.09 359.6 508.42 359.1 501.3 C358.6 494.18 358.8 472.39 358.3 465.4 C357.8 458.41 357.38 459.62 356 457.6 C354.62 455.58 351.08 454.8 349.7 452.8 C348.32 450.8 347.53 448.09 347.4 445.1 C347.27 442.11 348.34 437.51 348.9 434.1 C349.46 430.69 350.39 426.39 350.9 423.8 C351.41 421.21 352.6 420.6 352.1 417.9 C351.6 415.2 348.42 412.66 347.8 406.9 C347.18 401.14 347.77 389.15 348.2 381.9 C348.63 374.65 349.14 367.22 350.5 361.6 C351.86 355.98 353.71 352.05 356.7 346.8 C359.69 341.55 366.06 335.58 369.2 328.8 C372.34 322.02 374.41 310.3 376.3 304.4 Z" fill="#fff" stroke="#111" stroke-width="1.5"/>
<path d="M378.95 305.95 C380.84 300.05 381.78 297.45 383.65 293.45 C385.52 289.45 388.41 284.44 390.65 280.95 C392.89 277.46 395.52 274.4 397.65 271.65 C399.78 268.9 402.57 265.75 403.95 263.75 C405.33 261.75 405.26 260.4 406.25 259.15 C407.24 257.9 408.52 256.59 410.15 255.95 C411.78 255.31 414.69 255.15 416.45 255.15 C418.21 255.15 419.65 256.32 421.15 255.95 C422.65 255.58 421.48 254.47 425.85 252.85 C430.22 251.23 443.95 247.59 448.45 245.85 C452.95 244.11 452.7 243.82 453.95 241.95 C455.2 240.08 455.5 236.41 456.25 234.15 C457 231.89 457.51 229.74 458.65 227.85 C459.79 225.96 461.48 223.6 463.35 222.35 C465.22 221.1 468.11 221.43 470.35 220.05 C472.59 218.67 475.48 215.38 477.35 213.75 C479.22 212.12 480.58 210.87 482.05 209.85 C483.52 208.83 480.98 207.09 486.55 207.35 C492.12 207.61 508.37 211.47 516.85 211.45 C525.33 211.43 533.92 207.25 539.55 207.25 C545.18 207.25 549.55 210.28 552.05 211.45 C554.55 212.62 553.15 213.43 555.15 214.55 C557.15 215.67 562.68 217.31 564.55 218.45 C566.42 219.59 566.85 219.65 566.85 221.65 C566.85 223.65 565.05 228.45 564.55 230.95 C564.05 233.45 563.25 234.74 563.75 237.25 C564.25 239.76 566.9 244.15 567.65 246.65 C568.4 249.15 568.19 250.61 568.45 252.85 C568.71 255.09 568.13 255.15 569.25 260.65 C570.37 266.15 574.43 281.7 575.45 287.25 C576.47 292.8 575.79 292.55 575.65 295.35 C575.51 298.15 574.36 302.25 574.55 304.75 C574.74 307.25 575.84 308.95 576.85 310.95 C577.86 312.95 580.34 314.99 580.85 317.25 C581.36 319.51 580.93 322.55 580.05 325.05 C579.17 327.55 576.73 330.85 575.35 332.85 C573.97 334.85 572.33 335.29 571.45 337.55 C570.57 339.81 570.86 342.95 569.85 346.95 C568.84 350.95 566.4 357.8 565.15 362.55 C563.9 367.3 562.91 372.39 562.05 376.65 C561.19 380.91 560.55 386.16 559.75 389.15 C558.95 392.14 558.23 393.36 557.05 395.35 C555.87 397.34 554.35 399.6 552.35 401.6 C550.35 403.6 546.29 405.6 544.55 407.85 C542.81 410.1 541.95 412.9 541.45 415.65 C540.95 418.4 541.95 421.8 541.45 425.05 C540.95 428.3 539.55 432.45 538.3 435.95 C537.05 439.45 535.65 443.45 533.65 446.95 C531.65 450.45 529.06 454.6 525.8 457.85 C522.54 461.1 518.3 464 513.3 467.25 C508.3 470.5 501.31 474.15 494.55 478.15 C487.79 482.15 477.8 488.38 471.05 492.25 C464.3 496.12 457.09 500.19 452.35 502.35 C447.61 504.51 445.45 504.66 441.45 505.75 C437.45 506.84 430.36 508.37 427.35 509.15 C424.34 509.93 424.39 509.79 422.65 510.65 C420.91 511.51 418.45 514.29 416.45 514.55 C414.45 514.81 412.65 513.37 410.15 512.25 C407.65 511.13 405.09 508.11 400.85 507.55 C396.61 506.99 387.41 508.49 383.65 508.75 C379.89 509.01 379.37 508.46 377.35 509.15 C375.33 509.84 372.67 512.25 371.05 513.05 C369.43 513.85 368.37 514.41 367.25 514.15 C366.13 513.89 364.93 513.26 364.05 511.45 C363.17 509.64 362.25 509.97 361.75 502.85 C361.25 495.73 361.45 473.94 360.95 466.95 C360.45 459.96 360.03 461.17 358.65 459.15 C357.27 457.13 353.73 456.35 352.35 454.35 C350.97 452.35 350.18 449.64 350.05 446.65 C349.92 443.66 350.99 439.06 351.55 435.65 C352.11 432.24 353.04 427.94 353.55 425.35 C354.06 422.76 355.25 422.15 354.75 419.45 C354.25 416.75 351.07 414.21 350.45 408.45 C349.83 402.69 350.42 390.7 350.85 383.45 C351.28 376.2 351.79 368.77 353.15 363.15 C354.51 357.53 356.36 353.6 359.35 348.35 C362.34 343.1 368.71 337.13 371.85 330.35 C374.99 323.57 377.06 311.85 378.95 305.95 Z" fill="#fff" stroke="none" stroke-width="1.5"/>
<path d="M381.6 307.5 C383.49 301.6 384.43 299 386.3 295 C388.17 291 391.06 285.99 393.3 282.5 C395.54 279.01 398.17 275.95 400.3 273.2 C402.43 270.45 405.22 267.3 406.6 265.3 C407.98 263.3 407.91 261.95 408.9 260.7 C409.89 259.45 411.17 258.14 412.8 257.5 C414.43 256.86 417.34 256.7 419.1 256.7 C420.86 256.7 422.3 257.87 423.8 257.5 C425.3 257.13 424.13 256.02 428.5 254.4 C432.87 252.78 446.6 249.14 451.1 247.4 C455.6 245.66 455.35 245.37 456.6 243.5 C457.85 241.63 458.15 237.96 458.9 235.7 C459.65 233.44 460.16 231.29 461.3 229.4 C462.44 227.51 464.13 225.15 466 223.9 C467.87 222.65 470.76 222.98 473 221.6 C475.24 220.22 478.13 216.93 480 215.3 C481.87 213.67 483.23 212.42 484.7 211.4 C486.17 210.38 483.63 208.64 489.2 208.9 C494.77 209.16 511.02 213.02 519.5 213 C527.98 212.98 536.57 208.8 542.2 208.8 C547.83 208.8 552.2 211.83 554.7 213 C557.2 214.17 555.8 214.98 557.8 216.1 C559.8 217.22 565.33 218.86 567.2 220 C569.07 221.14 569.5 221.2 569.5 223.2 C569.5 225.2 567.7 230 567.2 232.5 C566.7 235 565.9 236.29 566.4 238.8 C566.9 241.31 569.55 245.7 570.3 248.2 C571.05 250.7 570.84 252.16 571.1 254.4 C571.36 256.64 570.78 256.7 571.9 262.2 C573.02 267.7 577.08 283.25 578.1 288.8 C579.12 294.35 578.44 294.1 578.3 296.9 C578.16 299.7 577.01 303.8 577.2 306.3 C577.39 308.8 578.49 310.5 579.5 312.5 C580.51 314.5 582.99 316.54 583.5 318.8 C584.01 321.06 583.58 324.1 582.7 326.6 C581.82 329.1 579.38 332.4 578 334.4 C576.62 336.4 574.98 336.84 574.1 339.1 C573.22 341.36 573.51 344.5 572.5 348.5 C571.49 352.5 569.05 359.35 567.8 364.1 C566.55 368.85 565.56 373.94 564.7 378.2 C563.84 382.46 563.2 387.71 562.4 390.7 C561.6 393.69 560.88 394.91 559.7 396.9 C558.52 398.89 557 401.15 555 403.15 C553 405.15 548.94 407.15 547.2 409.4 C545.46 411.65 544.6 414.45 544.1 417.2 C543.6 419.95 544.6 423.35 544.1 426.6 C543.6 429.85 542.2 434 540.95 437.5 C539.7 441 538.3 445 536.3 448.5 C534.3 452 531.71 456.15 528.45 459.4 C525.19 462.65 520.95 465.55 515.95 468.8 C510.95 472.05 503.96 475.7 497.2 479.7 C490.44 483.7 480.45 489.93 473.7 493.8 C466.95 497.67 459.74 501.74 455 503.9 C450.26 506.06 448.1 506.21 444.1 507.3 C440.1 508.39 433.01 509.92 430 510.7 C426.99 511.48 427.04 511.34 425.3 512.2 C423.56 513.06 421.1 515.84 419.1 516.1 C417.1 516.36 415.3 514.92 412.8 513.8 C410.3 512.68 407.74 509.66 403.5 509.1 C399.26 508.54 390.06 510.04 386.3 510.3 C382.54 510.56 382.02 510.01 380 510.7 C377.98 511.39 375.32 513.8 373.7 514.6 C372.08 515.4 371.02 515.96 369.9 515.7 C368.78 515.44 367.58 514.81 366.7 513 C365.82 511.19 364.9 511.52 364.4 504.4 C363.9 497.28 364.1 475.49 363.6 468.5 C363.1 461.51 362.68 462.72 361.3 460.7 C359.92 458.68 356.38 457.9 355 455.9 C353.62 453.9 352.83 451.19 352.7 448.2 C352.57 445.21 353.64 440.61 354.2 437.2 C354.76 433.79 355.69 429.49 356.2 426.9 C356.71 424.31 357.9 423.7 357.4 421 C356.9 418.3 353.72 415.76 353.1 410 C352.48 404.24 353.07 392.25 353.5 385 C353.93 377.75 354.44 370.32 355.8 364.7 C357.16 359.08 359.01 355.15 362 349.9 C364.99 344.65 371.36 338.68 374.5 331.9 C377.64 325.12 379.71 313.4 381.6 307.5 Z" fill="#fff" stroke="none" stroke-width="1.5"/>
<path d="M384.25 309.05 C386.14 303.15 387.08 300.55 388.95 296.55 C390.82 292.55 393.71 287.54 395.95 284.05 C398.19 280.56 400.82 277.5 402.95 274.75 C405.08 272 407.87 268.85 409.25 266.85 C410.63 264.85 410.56 263.5 411.55 262.25 C412.54 261 413.82 259.69 415.45 259.05 C417.08 258.41 419.99 258.25 421.75 258.25 C423.51 258.25 424.95 259.42 426.45 259.05 C427.95 258.68 426.78 257.57 431.15 255.95 C435.52 254.33 449.25 250.69 453.75 248.95 C458.25 247.21 458 246.92 459.25 245.05 C460.5 243.18 460.8 239.51 461.55 237.25 C462.3 234.99 462.81 232.84 463.95 230.95 C465.09 229.06 466.78 226.7 468.65 225.45 C470.52 224.2 473.41 224.53 475.65 223.15 C477.89 221.77 480.78 218.48 482.65 216.85 C484.52 215.22 485.88 213.97 487.35 212.95 C488.82 211.93 486.28 210.19 491.85 210.45 C497.42 210.71 513.67 214.57 522.15 214.55 C530.63 214.53 539.22 210.35 544.85 210.35 C550.48 210.35 554.85 213.38 557.35 214.55 C559.85 215.72 558.45 216.53 560.45 217.65 C562.45 218.77 567.98 220.41 569.85 221.55 C571.72 222.69 572.15 222.75 572.15 224.75 C572.15 226.75 570.35 231.55 569.85 234.05 C569.35 236.55 568.55 237.84 569.05 240.35 C569.55 242.86 572.2 247.25 572.95 249.75 C573.7 252.25 573.49 253.71 573.75 255.95 C574.01 258.19 573.43 258.25 574.55 263.75 C575.67 269.25 579.73 284.8 580.75 290.35 C581.77 295.9 581.09 295.65 580.95 298.45 C580.81 301.25 579.66 305.35 579.85 307.85 C580.04 310.35 581.14 312.05 582.15 314.05 C583.16 316.05 585.64 318.09 586.15 320.35 C586.66 322.61 586.23 325.65 585.35 328.15 C584.47 330.65 582.03 333.95 580.65 335.95 C579.27 337.95 577.63 338.39 576.75 340.65 C575.87 342.91 576.16 346.05 575.15 350.05 C574.14 354.05 571.7 360.9 570.45 365.65 C569.2 370.4 568.21 375.49 567.35 379.75 C566.49 384.01 565.85 389.26 565.05 392.25 C564.25 395.24 563.53 396.46 562.35 398.45 C561.17 400.44 559.65 402.7 557.65 404.7 C555.65 406.7 551.59 408.7 549.85 410.95 C548.11 413.2 547.25 416 546.75 418.75 C546.25 421.5 547.25 424.9 546.75 428.15 C546.25 431.4 544.85 435.55 543.6 439.05 C542.35 442.55 540.95 446.55 538.95 450.05 C536.95 453.55 534.36 457.7 531.1 460.95 C527.84 464.2 523.6 467.1 518.6 470.35 C513.6 473.6 506.61 477.25 499.85 481.25 C493.09 485.25 483.1 491.48 476.35 495.35 C469.6 499.22 462.39 503.29 457.65 505.45 C452.91 507.61 450.75 507.76 446.75 508.85 C442.75 509.94 435.66 511.47 432.65 512.25 C429.64 513.03 429.69 512.89 427.95 513.75 C426.21 514.61 423.75 517.39 421.75 517.65 C419.75 517.91 417.95 516.47 415.45 515.35 C412.95 514.23 410.39 511.21 406.15 510.65 C401.91 510.09 392.71 511.59 388.95 511.85 C385.19 512.11 384.67 511.56 382.65 512.25 C380.63 512.94 377.97 515.35 376.35 516.15 C374.73 516.95 373.67 517.51 372.55 517.25 C371.43 516.99 370.23 516.36 369.35 514.55 C368.47 512.74 367.55 513.07 367.05 505.95 C366.55 498.83 366.75 477.04 366.25 470.05 C365.75 463.06 365.33 464.27 363.95 462.25 C362.57 460.23 359.03 459.45 357.65 457.45 C356.27 455.45 355.48 452.74 355.35 449.75 C355.22 446.76 356.29 442.16 356.85 438.75 C357.41 435.34 358.34 431.04 358.85 428.45 C359.36 425.86 360.55 425.25 360.05 422.55 C359.55 419.85 356.37 417.31 355.75 411.55 C355.13 405.79 355.72 393.8 356.15 386.55 C356.58 379.3 357.09 371.87 358.45 366.25 C359.81 360.63 361.66 356.7 364.65 351.45 C367.64 346.2 374.01 340.23 377.15 333.45 C380.29 326.67 382.36 314.95 384.25 309.05 Z" fill="#fff" stroke="none" stroke-width="1.5"/>
<path d="M376.3 304.4L386.9 310.6 M401.3 262.2L411.9 268.4 M407.5 254.4L418.1 260.6 M423.2 251.3L433.8 257.5 M445.8 244.3L456.4 250.5 M453.6 232.6L464.2 238.8 M467.7 218.5L478.3 224.7 M474.7 212.2L485.3 218.4 M483.9 205.8L494.5 212 M514.2 209.9L524.8 216.1 M549.4 209.9L560 216.1 M561.9 216.9L572.5 223.1 M369.2 328.8L379.8 335 M356.7 346.8L367.3 353 M350.5 361.6L361.1 367.8 M348.2 381.9L358.8 388.1 M352.1 417.9L362.7 424.1 M348.9 434.1L359.5 440.3 M347.4 445.1L358 451.3 M349.7 452.8L360.3 459 M358.3 465.4L368.9 471.6 M359.1 501.3L369.7 507.5 M361.4 509.9L372 516.1 M368.4 511.5L379 517.7" fill="none" stroke="#111" stroke-width="1.1"/>
<path d="M386.9 310.6 C388.79 304.7 389.73 302.1 391.6 298.1 C393.47 294.1 396.36 289.09 398.6 285.6 C400.84 282.11 403.47 279.05 405.6 276.3 C407.73 273.55 410.52 270.4 411.9 268.4 C413.28 266.4 413.21 265.05 414.2 263.8 C415.19 262.55 416.47 261.24 418.1 260.6 C419.73 259.96 422.64 259.8 424.4 259.8 C426.16 259.8 427.6 260.97 429.1 260.6 C430.6 260.23 429.43 259.12 433.8 257.5 C438.17 255.88 451.9 252.24 456.4 250.5 C460.9 248.76 460.65 248.47 461.9 246.6 C463.15 244.73 463.45 241.06 464.2 238.8 C464.95 236.54 465.46 234.39 466.6 232.5 C467.74 230.61 469.43 228.25 471.3 227 C473.17 225.75 476.06 226.08 478.3 224.7 C480.54 223.32 483.43 220.03 485.3 218.4 C487.17 216.77 488.53 215.52 490 214.5 C491.47 213.48 488.93 211.74 494.5 212 C500.07 212.26 516.32 216.12 524.8 216.1 C533.28 216.08 541.87 211.9 547.5 211.9 C553.13 211.9 557.5 214.93 560 216.1 C562.5 217.27 561.1 218.08 563.1 219.2 C565.1 220.32 570.63 221.96 572.5 223.1 C574.37 224.24 574.8 224.3 574.8 226.3 C574.8 228.3 573 233.1 572.5 235.6 C572 238.1 571.2 239.39 571.7 241.9 C572.2 244.41 574.85 248.8 575.6 251.3 C576.35 253.8 576.14 255.26 576.4 257.5 C576.66 259.74 576.08 259.8 577.2 265.3 C578.32 270.8 582.38 286.35 583.4 291.9 C584.42 297.45 583.74 297.2 583.6 300 C583.46 302.8 582.31 306.9 582.5 309.4 C582.69 311.9 583.79 313.6 584.8 315.6 C585.81 317.6 588.29 319.64 588.8 321.9 C589.31 324.16 588.88 327.2 588 329.7 C587.12 332.2 584.68 335.5 583.3 337.5 C581.92 339.5 580.28 339.94 579.4 342.2 C578.52 344.46 578.81 347.6 577.8 351.6 C576.79 355.6 574.35 362.45 573.1 367.2 C571.85 371.95 570.86 377.04 570 381.3 C569.14 385.56 568.5 390.81 567.7 393.8 C566.9 396.79 566.18 398.01 565 400 C563.82 401.99 562.3 404.25 560.3 406.25 C558.3 408.25 554.24 410.25 552.5 412.5 C550.76 414.75 549.9 417.55 549.4 420.3 C548.9 423.05 549.9 426.45 549.4 429.7 C548.9 432.95 547.5 437.1 546.25 440.6 C545 444.1 543.6 448.1 541.6 451.6 C539.6 455.1 537.01 459.25 533.75 462.5 C530.49 465.75 526.25 468.65 521.25 471.9 C516.25 475.15 509.26 478.8 502.5 482.8 C495.74 486.8 485.75 493.03 479 496.9 C472.25 500.77 465.04 504.84 460.3 507 C455.56 509.16 453.4 509.31 449.4 510.4 C445.4 511.49 438.31 513.02 435.3 513.8 C432.29 514.58 432.34 514.44 430.6 515.3 C428.86 516.16 426.4 518.94 424.4 519.2 C422.4 519.46 420.6 518.02 418.1 516.9 C415.6 515.78 413.04 512.76 408.8 512.2 C404.56 511.64 395.36 513.14 391.6 513.4 C387.84 513.66 387.32 513.11 385.3 513.8 C383.28 514.49 380.62 516.9 379 517.7 C377.38 518.5 376.32 519.06 375.2 518.8 C374.08 518.54 372.88 517.91 372 516.1 C371.12 514.29 370.2 514.62 369.7 507.5 C369.2 500.38 369.4 478.59 368.9 471.6 C368.4 464.61 367.98 465.82 366.6 463.8 C365.22 461.78 361.68 461 360.3 459 C358.92 457 358.13 454.29 358 451.3 C357.87 448.31 358.94 443.71 359.5 440.3 C360.06 436.89 360.99 432.59 361.5 430 C362.01 427.41 363.2 426.8 362.7 424.1 C362.2 421.4 359.02 418.86 358.4 413.1 C357.78 407.34 358.37 395.35 358.8 388.1 C359.23 380.85 359.74 373.42 361.1 367.8 C362.46 362.18 364.31 358.25 367.3 353 C370.29 347.75 376.66 341.78 379.8 335 C382.94 328.22 385.01 316.5 386.9 310.6 Z" fill="#fff" stroke="#111" stroke-width="1.5"/>
<path d="M405.79 335.69 L407.84 332.05 L409.95 328.46 L412.13 324.9 L414.37 321.39 L416.67 317.93 L419.03 314.52 L421.44 311.16 L423.9 307.87 L426.42 304.64 L428.98 301.47 L431.59 298.37 L434.24 295.35 L436.93 292.4 L439.66 289.53 L442.42 286.74 L445.22 284.03 L448.04 281.41 L450.89 278.88 L453.76 276.44 L456.65 274.09 L459.56 271.85 L462.48 269.7 L465.42 267.65 L468.36 265.71 L471.31 263.87 L474.26 262.14 L477.2 260.52 L480.15 259 L483.09 257.6 L486.02 256.32 L488.93 255.15 L491.83 254.09 L494.71 253.15 L497.57 252.33 L500.41 251.63 L503.22 251.05 L505.99 250.59 L508.74 250.25 L511.45 250.03 L514.12 249.93 L516.75 249.95 L519.34 250.09 L521.87 250.36 L524.36 250.74 L526.8 251.25 L529.19 251.88 L531.52 252.62 L533.78 253.49 L535.99 254.47 L538.14 255.57 L540.22 256.78 L542.23 258.11 L544.17 259.55 L546.04 261.1 L547.84 262.77 L549.56 264.54 L551.2 266.41 L552.77 268.4 L554.25 270.48 L555.65 272.67 L556.97 274.95 L558.21 277.33 L559.36 279.8 L560.42 282.37 L561.39 285.02 L562.27 287.76 L563.07 290.58 L563.77 293.48 L564.38 296.46 L564.9 299.51 L565.33 302.63 L565.66 305.82 L565.9 309.08 L566.05 312.4 L566.1 315.77 L566.06 319.2 L565.93 322.68 L565.7 326.21 L565.37 329.78 L564.96 333.39 L564.45 337.04 L563.85 340.72 L563.16 344.43 L562.37 348.17 L561.5 351.93 L560.54 355.7 L559.49 359.49 L558.35 363.29 L557.12 367.1 L555.81 370.91 L554.42 374.71 L552.94 378.52 L551.39 382.31 L549.75 386.09 L548.04 389.85 L546.26 393.59 L544.39 397.31 L542.46 401 L540.46 404.66 L538.39 408.28 L536.25 411.86 L534.05 415.4 L531.79 418.9 L529.47 422.34 L527.09 425.73 L524.65 429.06 L522.17 432.33 L519.64 435.54 L517.06 438.68 L514.43 441.75 L511.77 444.75 L509.06 447.67 L506.32 450.52 L503.55 453.28 L500.74 455.95 L497.91 458.54 L495.05 461.03 L492.17 463.44 L489.27 465.75 L486.36 467.96 L483.43 470.07 L480.5 472.08 L477.55 473.98 L474.6 475.78 L471.65 477.47 L468.71 479.06 L465.76 480.53 L462.83 481.88 L459.9 483.13 L456.99 484.26 L454.1 485.27 L451.23 486.16 L448.38 486.94 L445.55 487.6 L442.75 488.14 L439.99 488.55 L437.25 488.85 L434.56 489.02 L431.9 489.08 L429.29 489.01 L426.72 488.82 L424.2 488.51 L421.73 488.08 L419.31 487.53 L416.94 486.86 L414.64 486.07 L412.39 485.17 L410.21 484.14 L408.09 483 L406.03 481.74 L404.05 480.37 L402.13 478.89 L400.29 477.3 L398.52 475.59 L396.83 473.78 L395.21 471.86 L393.68 469.84 L392.22 467.72 L390.85 465.5 L389.56 463.18 L391.6 460 L386.9 453.75 L383.75 441.25 L381.4 422.5 L382.2 405.3 L385.3 388.1 L385.3 381.9 L379 378 L376.7 370.9 L379 362.3 L386.9 354.5 L397.8 350.6 L402.5 344.4 L405.6 335Z" fill="#fff" stroke="#111" stroke-width="1.5"/>
<path d="M533.54 253.33 L535.01 254.53 L536.43 255.79 L537.8 257.13 L539.13 258.52 L540.41 259.99 L541.64 261.51 L542.83 263.1 L543.96 264.75 L545.05 266.46 L546.08 268.23 L547.07 270.06 L548 271.95 L548.88 273.89 L549.71 275.89 L550.48 277.94 L551.2 280.04 L551.86 282.2 L552.47 284.4 L553.03 286.65 L553.53 288.95 L553.97 291.3 L554.36 293.69 L554.69 296.13 L554.97 298.6 L555.19 301.12 L555.35 303.67 L555.45 306.26 L555.5 308.88 L555.49 311.54 L555.42 314.23 L555.3 316.95 L555.12 319.7 L554.88 322.48 L554.59 325.28 L554.24 328.1 L553.83 330.95 L553.37 333.82 L552.85 336.7 L552.28 339.6 L551.65 342.52 L550.97 345.45 L550.23 348.38 L549.44 351.33 L548.6 354.29 L547.7 357.25 L546.75 360.21 L545.75 363.18 L544.7 366.15 L543.59 369.11 L542.44 372.07 L541.24 375.03 L539.99 377.98 L538.69 380.92 L537.35 383.85 L535.96 386.76 L534.53 389.67 L533.05 392.55 L531.53 395.42 L529.97 398.27 L528.36 401.09 L526.72 403.9 L525.03 406.67 L523.31 409.43 L521.55 412.15 L519.75 414.84 L517.92 417.5 L516.06 420.13 L514.16 422.72 L512.23 425.28 L510.27 427.8 L508.28 430.28 L506.26 432.71 L504.22 435.11 L502.15 437.46 L500.06 439.76 L497.94 442.02 L495.81 444.23 L493.65 446.39 L491.47 448.5 L489.28 450.55 L487.07 452.55 L484.84 454.5 L482.6 456.39 L480.35 458.22 L478.09 460 L475.82 461.72 L473.54 463.37 L471.25 464.96 L468.96 466.49 L466.67 467.96 L464.37 469.36 L462.07 470.7 L459.78 471.97 L457.48 473.18 L455.19 474.31 L452.9 475.38 L450.62 476.38 L448.35 477.31 L446.08 478.17 L443.83 478.96 L441.59 479.68 L439.36 480.32 L437.14 480.9 L434.94 481.4 L432.76 481.83 L430.6 482.18 L428.46 482.47 L426.33 482.68 L424.24 482.81 L422.16 482.87 L420.11 482.86 L418.08 482.78 L416.09 482.62 L414.12 482.39 L412.18 482.08 L410.28 481.7 L408.4 481.25 L406.56 480.73 L404.75 480.13 L402.98 479.46" fill="none" stroke="#111" stroke-width="1.5"/>
<path d="M421.8 264.06 L422.35 264.62 L422.63 265.47 L422.63 266.54 L422.34 267.73 L421.8 268.91 L421.05 269.98 L420.16 270.82 L419.23 271.35 L418.35 271.53 L417.6 271.34 L417.05 270.78 L416.77 269.93 L416.77 268.86 L417.06 267.67 L417.6 266.49 L418.35 265.42 L419.24 264.58 L420.17 264.05 L421.05 263.87 L421.8 264.06Z" fill="#fff" stroke="#111" stroke-width="1.2"/>
<path d="M415.5 300.76 L416.05 301.32 L416.33 302.17 L416.33 303.24 L416.04 304.43 L415.5 305.61 L414.75 306.68 L413.86 307.52 L412.93 308.05 L412.05 308.23 L411.3 308.04 L410.75 307.48 L410.47 306.63 L410.47 305.56 L410.76 304.37 L411.3 303.19 L412.05 302.12 L412.94 301.28 L413.87 300.75 L414.75 300.57 L415.5 300.76Z" fill="#fff" stroke="#111" stroke-width="1.2"/>
<path d="M396 321.06 L396.55 321.62 L396.83 322.47 L396.83 323.54 L396.54 324.73 L396 325.91 L395.25 326.98 L394.36 327.82 L393.43 328.35 L392.55 328.53 L391.8 328.34 L391.25 327.78 L390.97 326.93 L390.97 325.86 L391.26 324.67 L391.8 323.49 L392.55 322.42 L393.44 321.58 L394.37 321.05 L395.25 320.87 L396 321.06Z" fill="#fff" stroke="#111" stroke-width="1.2"/>
<path d="M406.2 321.86 L406.75 322.42 L407.03 323.27 L407.03 324.34 L406.74 325.53 L406.2 326.71 L405.45 327.78 L404.56 328.62 L403.63 329.15 L402.75 329.33 L402 329.14 L401.45 328.58 L401.17 327.73 L401.17 326.66 L401.46 325.47 L402 324.29 L402.75 323.22 L403.64 322.38 L404.57 321.85 L405.45 321.67 L406.2 321.86Z" fill="#fff" stroke="#111" stroke-width="1.2"/>
<path d="M396 330.46 L396.55 331.02 L396.83 331.87 L396.83 332.94 L396.54 334.13 L396 335.31 L395.25 336.38 L394.36 337.22 L393.43 337.75 L392.55 337.93 L391.8 337.74 L391.25 337.18 L390.97 336.33 L390.97 335.26 L391.26 334.07 L391.8 332.89 L392.55 331.82 L393.44 330.98 L394.37 330.45 L395.25 330.27 L396 330.46Z" fill="#fff" stroke="#111" stroke-width="1.2"/>
<path d="M464 257.76 L464.55 258.32 L464.83 259.17 L464.83 260.24 L464.54 261.43 L464 262.61 L463.25 263.68 L462.36 264.52 L461.43 265.05 L460.55 265.23 L459.8 265.04 L459.25 264.48 L458.97 263.63 L458.97 262.56 L459.26 261.37 L459.8 260.19 L460.55 259.12 L461.44 258.28 L462.37 257.75 L463.25 257.57 L464 257.76Z" fill="#fff" stroke="#111" stroke-width="1.2"/>
<path d="M473.4 229.66 L473.95 230.22 L474.23 231.07 L474.23 232.14 L473.94 233.33 L473.4 234.51 L472.65 235.58 L471.76 236.42 L470.83 236.95 L469.95 237.13 L469.2 236.94 L468.65 236.38 L468.37 235.53 L468.37 234.46 L468.66 233.27 L469.2 232.09 L469.95 231.02 L470.84 230.18 L471.77 229.65 L472.65 229.47 L473.4 229.66Z" fill="#fff" stroke="#111" stroke-width="1.2"/>
<path d="M492.9 219.96 L493.45 220.52 L493.73 221.37 L493.73 222.44 L493.44 223.63 L492.9 224.81 L492.15 225.88 L491.26 226.72 L490.33 227.25 L489.45 227.43 L488.7 227.24 L488.15 226.68 L487.87 225.83 L487.87 224.76 L488.16 223.57 L488.7 222.39 L489.45 221.32 L490.34 220.48 L491.27 219.95 L492.15 219.77 L492.9 219.96Z" fill="#fff" stroke="#111" stroke-width="1.2"/>
<path d="M552.3 217.96 L552.85 218.52 L553.13 219.37 L553.13 220.44 L552.84 221.63 L552.3 222.81 L551.55 223.88 L550.66 224.72 L549.73 225.25 L548.85 225.43 L548.1 225.24 L547.55 224.68 L547.27 223.83 L547.27 222.76 L547.56 221.57 L548.1 220.39 L548.85 219.32 L549.74 218.48 L550.67 217.95 L551.55 217.77 L552.3 217.96Z" fill="#fff" stroke="#111" stroke-width="1.2"/>
<path d="M569.6 226.96 L570.15 227.52 L570.43 228.37 L570.43 229.44 L570.14 230.63 L569.6 231.81 L568.85 232.88 L567.96 233.72 L567.03 234.25 L566.15 234.43 L565.4 234.24 L564.85 233.68 L564.57 232.83 L564.57 231.76 L564.86 230.57 L565.4 229.39 L566.15 228.32 L567.04 227.48 L567.97 226.95 L568.85 226.77 L569.6 226.96Z" fill="#fff" stroke="#111" stroke-width="1.2"/>
<path d="M571.2 258.86 L571.75 259.42 L572.03 260.27 L572.03 261.34 L571.74 262.53 L571.2 263.71 L570.45 264.78 L569.56 265.62 L568.63 266.15 L567.75 266.33 L567 266.14 L566.45 265.58 L566.17 264.73 L566.17 263.66 L566.46 262.47 L567 261.29 L567.75 260.22 L568.64 259.38 L569.57 258.85 L570.45 258.67 L571.2 258.86Z" fill="#fff" stroke="#111" stroke-width="1.2"/>
<path d="M578 301.56 L578.55 302.12 L578.83 302.97 L578.83 304.04 L578.54 305.23 L578 306.41 L577.25 307.48 L576.36 308.32 L575.43 308.85 L574.55 309.03 L573.8 308.84 L573.25 308.28 L572.97 307.43 L572.97 306.36 L573.26 305.17 L573.8 303.99 L574.55 302.92 L575.44 302.08 L576.37 301.55 L577.25 301.37 L578 301.56Z" fill="#fff" stroke="#111" stroke-width="1.2"/>
<path d="M569 351.36 L569.55 351.92 L569.83 352.77 L569.83 353.84 L569.54 355.03 L569 356.21 L568.25 357.28 L567.36 358.12 L566.43 358.65 L565.55 358.83 L564.8 358.64 L564.25 358.08 L563.97 357.23 L563.97 356.16 L564.26 354.97 L564.8 353.79 L565.55 352.72 L566.44 351.88 L567.37 351.35 L568.25 351.17 L569 351.36Z" fill="#fff" stroke="#111" stroke-width="1.2"/>
<path d="M392.25 339.49 L392.69 340 L392.85 340.82 L392.69 341.81 L392.25 342.84 L391.58 343.73 L390.8 344.37 L390.01 344.64 L389.35 344.51 L388.91 344 L388.75 343.18 L388.91 342.19 L389.35 341.16 L390.02 340.27 L390.8 339.63 L391.59 339.36 L392.25 339.49Z" fill="#fff" stroke="#111" stroke-width="1.1"/>
<path d="M394.55 344.99 L394.99 345.5 L395.15 346.32 L394.99 347.31 L394.55 348.34 L393.88 349.23 L393.1 349.87 L392.31 350.14 L391.65 350.01 L391.21 349.5 L391.05 348.68 L391.21 347.69 L391.65 346.66 L392.32 345.77 L393.1 345.13 L393.89 344.86 L394.55 344.99Z" fill="#fff" stroke="#111" stroke-width="1.1"/>
<path d="M401.65 485.49 L402.09 486 L402.25 486.82 L402.09 487.81 L401.65 488.84 L400.98 489.73 L400.2 490.37 L399.41 490.64 L398.75 490.51 L398.31 490 L398.15 489.18 L398.31 488.19 L398.75 487.16 L399.42 486.27 L400.2 485.63 L400.99 485.36 L401.65 485.49Z" fill="#fff" stroke="#111" stroke-width="1.1"/>
<path d="M398.45 494.79 L398.89 495.3 L399.05 496.12 L398.89 497.11 L398.45 498.14 L397.78 499.03 L397 499.67 L396.21 499.94 L395.55 499.81 L395.11 499.3 L394.95 498.48 L395.11 497.49 L395.55 496.46 L396.22 495.57 L397 494.93 L397.79 494.66 L398.45 494.79Z" fill="#fff" stroke="#111" stroke-width="1.1"/>
<path d="M403.15 497.19 L403.59 497.7 L403.75 498.52 L403.59 499.51 L403.15 500.54 L402.48 501.43 L401.7 502.07 L400.91 502.34 L400.25 502.21 L399.81 501.7 L399.65 500.88 L399.81 499.89 L400.25 498.86 L400.92 497.97 L401.7 497.33 L402.49 497.06 L403.15 497.19Z" fill="#fff" stroke="#111" stroke-width="1.1"/>
<path d="M425.05 494.09 L425.49 494.6 L425.65 495.42 L425.49 496.41 L425.05 497.44 L424.38 498.33 L423.6 498.97 L422.81 499.24 L422.15 499.11 L421.71 498.6 L421.55 497.78 L421.71 496.79 L422.15 495.76 L422.82 494.87 L423.6 494.23 L424.39 493.96 L425.05 494.09Z" fill="#fff" stroke="#111" stroke-width="1.1"/>
<path d="M433.65 493.79 L434.09 494.3 L434.25 495.12 L434.09 496.11 L433.65 497.14 L432.98 498.03 L432.2 498.67 L431.41 498.94 L430.75 498.81 L430.31 498.3 L430.15 497.48 L430.31 496.49 L430.75 495.46 L431.42 494.57 L432.2 493.93 L432.99 493.66 L433.65 493.79Z" fill="#fff" stroke="#111" stroke-width="1.1"/>
<path d="M452.7 490.19 L453.14 490.7 L453.3 491.52 L453.14 492.51 L452.7 493.54 L452.03 494.43 L451.25 495.07 L450.46 495.34 L449.8 495.21 L449.36 494.7 L449.2 493.88 L449.36 492.89 L449.8 491.86 L450.47 490.97 L451.25 490.33 L452.04 490.06 L452.7 490.19Z" fill="#fff" stroke="#111" stroke-width="1.1"/>
<path d="M460.95 497.19 L461.39 497.7 L461.55 498.52 L461.39 499.51 L460.95 500.54 L460.28 501.43 L459.5 502.07 L458.71 502.34 L458.05 502.21 L457.61 501.7 L457.45 500.88 L457.61 499.89 L458.05 498.86 L458.72 497.97 L459.5 497.33 L460.29 497.06 L460.95 497.19Z" fill="#fff" stroke="#111" stroke-width="1.1"/>
<path d="M443.75 500.59 L444.19 501.1 L444.35 501.92 L444.19 502.91 L443.75 503.94 L443.08 504.83 L442.3 505.47 L441.51 505.74 L440.85 505.61 L440.41 505.1 L440.25 504.28 L440.41 503.29 L440.85 502.26 L441.52 501.37 L442.3 500.73 L443.09 500.46 L443.75 500.59Z" fill="#fff" stroke="#111" stroke-width="1.1"/>
<path d="M527.15 432.49 L527.59 433 L527.75 433.82 L527.59 434.81 L527.15 435.84 L526.48 436.73 L525.7 437.37 L524.91 437.64 L524.25 437.51 L523.81 437 L523.65 436.18 L523.81 435.19 L524.25 434.16 L524.92 433.27 L525.7 432.63 L526.49 432.36 L527.15 432.49Z" fill="#fff" stroke="#111" stroke-width="1.1"/>
<path d="M402.1 287.81 L402.59 288.31 L402.85 289.08 L402.85 290.05 L402.59 291.13 L402.1 292.2 L401.42 293.16 L400.62 293.92 L399.78 294.41 L398.98 294.57 L398.3 294.39 L397.81 293.89 L397.55 293.12 L397.55 292.15 L397.81 291.07 L398.3 290 L398.98 289.04 L399.78 288.28 L400.62 287.79 L401.42 287.63 L402.1 287.81Z" fill="#fff" stroke="#111" stroke-width="1.8"/>
<path d="M380.7 504.56 L381.14 505 L381.37 505.69 L381.37 506.56 L381.14 507.52 L380.7 508.48 L380.09 509.34 L379.38 510.02 L378.62 510.46 L377.91 510.6 L377.3 510.44 L376.86 510 L376.63 509.31 L376.63 508.44 L376.86 507.48 L377.3 506.52 L377.91 505.66 L378.62 504.98 L379.38 504.54 L380.09 504.4 L380.7 504.56Z" fill="#fff" stroke="#111" stroke-width="1.1"/>
<path d="M381.1 384.05 L381.73 384.63 L382.12 385.51 L382.26 386.61 L382.12 387.87 L381.73 389.21 L381.1 390.52 L380.28 391.72 L379.32 392.72 L378.3 393.47 L377.27 393.91 L376.32 394 L375.5 393.75 L374.87 393.17 L374.48 392.29 L374.34 391.19 L374.48 389.93 L374.87 388.59 L375.5 387.28 L376.32 386.08 L377.28 385.08 L378.3 384.33 L379.33 383.89 L380.28 383.8 L381.1 384.05Z" fill="#fff" stroke="#111" stroke-width="1.2"/>
<path d="M379.8 385.24 L380.25 385.65 L380.53 386.28 L380.63 387.07 L380.53 387.97 L380.25 388.92 L379.8 389.85 L379.21 390.71 L378.53 391.43 L377.8 391.97 L377.07 392.28 L376.39 392.34 L375.8 392.16 L375.35 391.75 L375.07 391.12 L374.97 390.33 L375.07 389.43 L375.35 388.48 L375.8 387.55 L376.39 386.69 L377.07 385.97 L377.8 385.43 L378.53 385.12 L379.21 385.06 L379.8 385.24Z" fill="none" stroke="#111" stroke-width="0.9"/>
<path d="M378.6 386.15 L378.89 386.42 L379.08 386.83 L379.14 387.34 L379.08 387.92 L378.89 388.54 L378.6 389.15 L378.22 389.71 L377.78 390.18 L377.3 390.52 L376.82 390.73 L376.38 390.77 L376 390.65 L375.71 390.38 L375.52 389.97 L375.46 389.46 L375.52 388.88 L375.71 388.26 L376 387.65 L376.38 387.09 L376.82 386.62 L377.3 386.28 L377.78 386.07 L378.22 386.03 L378.6 386.15Z" fill="none" stroke="#111" stroke-width="0.8"/>
<path d="M543.3 407.65 L543.93 408.23 L544.32 409.11 L544.46 410.21 L544.32 411.47 L543.93 412.81 L543.3 414.12 L542.48 415.32 L541.52 416.32 L540.5 417.07 L539.47 417.51 L538.52 417.6 L537.7 417.35 L537.07 416.77 L536.68 415.89 L536.54 414.79 L536.68 413.53 L537.07 412.19 L537.7 410.88 L538.52 409.68 L539.48 408.68 L540.5 407.93 L541.53 407.49 L542.48 407.4 L543.3 407.65Z" fill="#fff" stroke="#111" stroke-width="1.2"/>
<path d="M542 408.84 L542.45 409.25 L542.73 409.88 L542.83 410.67 L542.73 411.57 L542.45 412.52 L542 413.45 L541.41 414.31 L540.73 415.03 L540 415.57 L539.27 415.88 L538.59 415.94 L538 415.76 L537.55 415.35 L537.27 414.72 L537.17 413.93 L537.27 413.03 L537.55 412.08 L538 411.15 L538.59 410.29 L539.27 409.57 L540 409.03 L540.73 408.72 L541.41 408.66 L542 408.84Z" fill="none" stroke="#111" stroke-width="0.9"/>
<path d="M540.8 409.75 L541.09 410.02 L541.28 410.43 L541.34 410.94 L541.28 411.52 L541.09 412.14 L540.8 412.75 L540.42 413.31 L539.98 413.78 L539.5 414.12 L539.02 414.33 L538.58 414.37 L538.2 414.25 L537.91 413.98 L537.72 413.57 L537.66 413.06 L537.72 412.48 L537.91 411.86 L538.2 411.25 L538.58 410.69 L539.02 410.22 L539.5 409.88 L539.98 409.67 L540.42 409.63 L540.8 409.75Z" fill="none" stroke="#111" stroke-width="0.8"/>
<path d="M372.6 406.5 L373.18 407.04 L373.55 407.85 L373.68 408.88 L373.55 410.05 L373.18 411.28 L372.6 412.5 L371.84 413.61 L370.95 414.55 L370 415.25 L369.05 415.65 L368.16 415.74 L367.4 415.5 L366.82 414.96 L366.45 414.15 L366.32 413.12 L366.45 411.95 L366.82 410.72 L367.4 409.5 L368.16 408.39 L369.05 407.45 L370 406.75 L370.95 406.35 L371.84 406.26 L372.6 406.5Z" fill="#fff" stroke="#111" stroke-width="1.2"/>
<path d="M377 404.17 L377.56 404.69 L377.91 405.47 L378.03 406.46 L377.91 407.58 L377.56 408.77 L377 409.94 L376.27 411.01 L375.41 411.91 L374.5 412.58 L373.58 412.97 L372.73 413.06 L372 412.83 L371.44 412.31 L371.09 411.53 L370.97 410.54 L371.09 409.42 L371.44 408.23 L372 407.06 L372.73 405.99 L373.59 405.09 L374.5 404.42 L375.42 404.03 L376.27 403.94 L377 404.17Z" fill="#fff" stroke="#111" stroke-width="1.2"/>
<path d="M372.5 407.7 L372.84 408.01 L373.05 408.48 L373.12 409.07 L373.05 409.75 L372.84 410.46 L372.5 411.17 L372.06 411.81 L371.55 412.35 L371 412.75 L370.45 412.98 L369.94 413.03 L369.5 412.9 L369.16 412.59 L368.95 412.12 L368.88 411.53 L368.95 410.85 L369.16 410.14 L369.5 409.43 L369.94 408.79 L370.45 408.25 L371 407.85 L371.55 407.62 L372.06 407.57 L372.5 407.7Z" fill="none" stroke="#111" stroke-width="1.0"/>
<path d="M375 407.07 L375.22 407.28 L375.37 407.59 L375.41 407.98 L375.37 408.43 L375.22 408.91 L375 409.38 L374.71 409.81 L374.37 410.17 L374 410.43 L373.63 410.59 L373.29 410.62 L373 410.53 L372.78 410.32 L372.63 410.01 L372.59 409.62 L372.63 409.17 L372.78 408.69 L373 408.22 L373.29 407.79 L373.63 407.43 L374 407.17 L374.37 407.01 L374.71 406.98 L375 407.07Z" fill="none" stroke="#111" stroke-width="0.9"/>
<path d="M556.2 387.1 L556.78 387.64 L557.15 388.45 L557.28 389.48 L557.15 390.65 L556.78 391.88 L556.2 393.1 L555.44 394.21 L554.55 395.15 L553.6 395.85 L552.65 396.25 L551.76 396.34 L551 396.1 L550.42 395.56 L550.05 394.75 L549.92 393.72 L550.05 392.55 L550.42 391.32 L551 390.1 L551.76 388.99 L552.65 388.05 L553.6 387.35 L554.55 386.95 L555.44 386.86 L556.2 387.1Z" fill="#fff" stroke="#111" stroke-width="1.2"/>
<path d="M560.6 384.77 L561.16 385.29 L561.51 386.07 L561.63 387.06 L561.51 388.18 L561.16 389.37 L560.6 390.54 L559.87 391.61 L559.01 392.51 L558.1 393.18 L557.18 393.57 L556.33 393.66 L555.6 393.43 L555.04 392.91 L554.69 392.13 L554.57 391.14 L554.69 390.02 L555.04 388.83 L555.6 387.66 L556.33 386.59 L557.19 385.69 L558.1 385.02 L559.02 384.63 L559.87 384.54 L560.6 384.77Z" fill="#fff" stroke="#111" stroke-width="1.2"/>
<path d="M556.1 388.3 L556.44 388.61 L556.65 389.08 L556.72 389.67 L556.65 390.35 L556.44 391.06 L556.1 391.77 L555.66 392.41 L555.15 392.95 L554.6 393.35 L554.05 393.58 L553.54 393.63 L553.1 393.5 L552.76 393.19 L552.55 392.72 L552.48 392.13 L552.55 391.45 L552.76 390.74 L553.1 390.03 L553.54 389.39 L554.05 388.85 L554.6 388.45 L555.15 388.22 L555.66 388.17 L556.1 388.3Z" fill="none" stroke="#111" stroke-width="1.0"/>
<path d="M558.6 387.67 L558.82 387.88 L558.97 388.19 L559.01 388.58 L558.97 389.03 L558.82 389.51 L558.6 389.98 L558.31 390.41 L557.97 390.77 L557.6 391.03 L557.23 391.19 L556.89 391.22 L556.6 391.13 L556.38 390.92 L556.23 390.61 L556.19 390.22 L556.23 389.77 L556.38 389.29 L556.6 388.82 L556.89 388.39 L557.23 388.03 L557.6 387.77 L557.97 387.61 L558.31 387.58 L558.6 387.67Z" fill="none" stroke="#111" stroke-width="0.9"/>
<path d="M442 264.27 L442.81 264.91 L443.44 265.81 L443.87 266.92 L444.08 268.22 L444.08 269.68 L443.86 271.23 L443.43 272.84 L442.81 274.46 L442 276.04 L441.03 277.53 L439.95 278.89 L438.76 280.07 L437.53 281.03 L436.27 281.76 L435.03 282.22 L433.85 282.41 L432.76 282.31 L431.8 281.93 L430.99 281.29 L430.36 280.39 L429.93 279.28 L429.72 277.98 L429.72 276.52 L429.94 274.97 L430.37 273.36 L430.99 271.74 L431.8 270.16 L432.77 268.67 L433.85 267.31 L435.04 266.13 L436.27 265.17 L437.53 264.44 L438.77 263.98 L439.95 263.79 L441.04 263.89 L442 264.27Z" fill="#fff" stroke="#111" stroke-width="1.3"/>
<path d="M437.95 264.82 L438.6 264.85 L439.2 265.01 L439.74 265.29 L440.21 265.68 L440.6 266.18 L440.91 266.77 L441.13 267.46 L441.26 268.23 L441.3 269.07 L441.24 269.96 L441.08 270.88 L440.84 271.83 L440.5 272.79 L440.09 273.74 L439.6 274.67 L439.04 275.55 L438.43 276.39 L437.76 277.15 L437.06 277.84 L436.34 278.44 L435.6 278.93 L434.86 279.32 L434.13 279.6 L433.42 279.75 L432.75 279.78 L432.12 279.69 L431.55 279.48 L431.04 279.15 L430.6 278.71 L430.25 278.16" fill="none" stroke="#111" stroke-width="0.9"/>
<path d="M437.6 265.88 L437.94 266.13 L438.24 266.44 L438.49 266.82 L438.69 267.25 L438.84 267.73 L438.93 268.27 L438.97 268.84 L438.94 269.45 L438.86 270.08 L438.73 270.74 L438.54 271.4 L438.3 272.06 L438.01 272.72 L437.67 273.37 L437.3 274 L436.89 274.59 L436.44 275.15 L435.97 275.66 L435.48 276.13 L434.97 276.54 L434.46 276.89 L433.95 277.18 L433.44 277.39 L432.93 277.54 L432.45 277.61 L431.99 277.62 L431.56 277.54 L431.16 277.4 L430.8 277.18 L430.48 276.9" fill="none" stroke="#111" stroke-width="0.9"/>
<path d="M514.3 223.67 L515.11 224.31 L515.74 225.21 L516.17 226.32 L516.38 227.62 L516.38 229.08 L516.16 230.63 L515.73 232.24 L515.11 233.86 L514.3 235.44 L513.33 236.93 L512.25 238.29 L511.06 239.47 L509.83 240.43 L508.57 241.16 L507.33 241.62 L506.15 241.81 L505.06 241.71 L504.1 241.33 L503.29 240.69 L502.66 239.79 L502.23 238.68 L502.02 237.38 L502.02 235.92 L502.24 234.37 L502.67 232.76 L503.29 231.14 L504.1 229.56 L505.07 228.07 L506.15 226.71 L507.34 225.53 L508.57 224.57 L509.83 223.84 L511.07 223.38 L512.25 223.19 L513.34 223.29 L514.3 223.67Z" fill="#fff" stroke="#111" stroke-width="1.3"/>
<path d="M510.25 224.22 L510.9 224.25 L511.5 224.41 L512.04 224.69 L512.51 225.08 L512.9 225.58 L513.21 226.17 L513.43 226.86 L513.56 227.63 L513.6 228.47 L513.54 229.36 L513.38 230.28 L513.14 231.23 L512.8 232.19 L512.39 233.14 L511.9 234.07 L511.34 234.95 L510.73 235.79 L510.06 236.55 L509.36 237.24 L508.64 237.84 L507.9 238.33 L507.16 238.72 L506.43 239 L505.72 239.15 L505.05 239.18 L504.42 239.09 L503.85 238.88 L503.34 238.55 L502.9 238.11 L502.55 237.56" fill="none" stroke="#111" stroke-width="0.9"/>
<path d="M509.9 225.28 L510.24 225.53 L510.54 225.84 L510.79 226.22 L510.99 226.65 L511.14 227.13 L511.23 227.67 L511.27 228.24 L511.24 228.85 L511.16 229.48 L511.03 230.14 L510.84 230.8 L510.6 231.46 L510.31 232.12 L509.97 232.77 L509.6 233.4 L509.19 233.99 L508.74 234.55 L508.27 235.06 L507.78 235.53 L507.27 235.94 L506.76 236.29 L506.25 236.58 L505.74 236.79 L505.23 236.94 L504.75 237.01 L504.29 237.02 L503.86 236.94 L503.46 236.8 L503.1 236.58 L502.78 236.3" fill="none" stroke="#111" stroke-width="0.9"/>
<path d="M567.4 241.67 L568.21 242.31 L568.84 243.21 L569.27 244.32 L569.48 245.62 L569.48 247.08 L569.26 248.63 L568.83 250.24 L568.21 251.86 L567.4 253.44 L566.43 254.93 L565.35 256.29 L564.16 257.47 L562.93 258.43 L561.67 259.16 L560.43 259.62 L559.25 259.81 L558.16 259.71 L557.2 259.33 L556.39 258.69 L555.76 257.79 L555.33 256.68 L555.12 255.38 L555.12 253.92 L555.34 252.37 L555.77 250.76 L556.39 249.14 L557.2 247.56 L558.17 246.07 L559.25 244.71 L560.44 243.53 L561.67 242.57 L562.93 241.84 L564.17 241.38 L565.35 241.19 L566.44 241.29 L567.4 241.67Z" fill="#fff" stroke="#111" stroke-width="1.3"/>
<path d="M563.35 242.22 L564 242.25 L564.6 242.41 L565.14 242.69 L565.61 243.08 L566 243.58 L566.31 244.17 L566.53 244.86 L566.66 245.63 L566.7 246.47 L566.64 247.36 L566.48 248.28 L566.24 249.23 L565.9 250.19 L565.49 251.14 L565 252.07 L564.44 252.95 L563.83 253.79 L563.16 254.55 L562.46 255.24 L561.74 255.84 L561 256.33 L560.26 256.72 L559.53 257 L558.82 257.15 L558.15 257.18 L557.52 257.09 L556.95 256.88 L556.44 256.55 L556 256.11 L555.65 255.56" fill="none" stroke="#111" stroke-width="0.9"/>
<path d="M563 243.28 L563.34 243.53 L563.64 243.84 L563.89 244.22 L564.09 244.65 L564.24 245.13 L564.33 245.67 L564.37 246.24 L564.34 246.85 L564.26 247.48 L564.13 248.14 L563.94 248.8 L563.7 249.46 L563.41 250.12 L563.07 250.77 L562.7 251.4 L562.29 251.99 L561.84 252.55 L561.37 253.06 L560.88 253.53 L560.37 253.94 L559.86 254.29 L559.35 254.58 L558.84 254.79 L558.33 254.94 L557.85 255.01 L557.39 255.02 L556.96 254.94 L556.56 254.8 L556.2 254.58 L555.88 254.3" fill="none" stroke="#111" stroke-width="0.9"/>
<path d="M584 319.17 L584.81 319.81 L585.44 320.71 L585.87 321.82 L586.08 323.12 L586.08 324.58 L585.86 326.13 L585.43 327.74 L584.81 329.36 L584 330.94 L583.03 332.43 L581.95 333.79 L580.76 334.97 L579.53 335.93 L578.27 336.66 L577.03 337.12 L575.85 337.31 L574.76 337.21 L573.8 336.83 L572.99 336.19 L572.36 335.29 L571.93 334.18 L571.72 332.88 L571.72 331.42 L571.94 329.87 L572.37 328.26 L572.99 326.64 L573.8 325.06 L574.77 323.57 L575.85 322.21 L577.04 321.03 L578.27 320.07 L579.53 319.34 L580.77 318.88 L581.95 318.69 L583.04 318.79 L584 319.17Z" fill="#fff" stroke="#111" stroke-width="1.3"/>
<path d="M579.95 319.72 L580.6 319.75 L581.2 319.91 L581.74 320.19 L582.21 320.58 L582.6 321.08 L582.91 321.67 L583.13 322.36 L583.26 323.13 L583.3 323.97 L583.24 324.86 L583.08 325.78 L582.84 326.73 L582.5 327.69 L582.09 328.64 L581.6 329.57 L581.04 330.45 L580.43 331.29 L579.76 332.05 L579.06 332.74 L578.34 333.34 L577.6 333.83 L576.86 334.22 L576.13 334.5 L575.42 334.65 L574.75 334.68 L574.12 334.59 L573.55 334.38 L573.04 334.05 L572.6 333.61 L572.25 333.06" fill="none" stroke="#111" stroke-width="0.9"/>
<path d="M579.6 320.78 L579.94 321.03 L580.24 321.34 L580.49 321.72 L580.69 322.15 L580.84 322.63 L580.93 323.17 L580.97 323.74 L580.94 324.35 L580.86 324.98 L580.73 325.64 L580.54 326.3 L580.3 326.96 L580.01 327.62 L579.67 328.27 L579.3 328.9 L578.89 329.49 L578.44 330.05 L577.97 330.56 L577.48 331.03 L576.97 331.44 L576.46 331.79 L575.95 332.08 L575.44 332.29 L574.93 332.44 L574.45 332.51 L573.99 332.52 L573.56 332.44 L573.16 332.3 L572.8 332.08 L572.48 331.8" fill="none" stroke="#111" stroke-width="0.9"/>
<path d="M370.9 440.17 L371.71 440.81 L372.34 441.71 L372.77 442.82 L372.98 444.12 L372.98 445.58 L372.76 447.13 L372.33 448.74 L371.71 450.36 L370.9 451.94 L369.93 453.43 L368.85 454.79 L367.66 455.97 L366.43 456.93 L365.17 457.66 L363.93 458.12 L362.75 458.31 L361.66 458.21 L360.7 457.83 L359.89 457.19 L359.26 456.29 L358.83 455.18 L358.62 453.88 L358.62 452.42 L358.84 450.87 L359.27 449.26 L359.89 447.64 L360.7 446.06 L361.67 444.57 L362.75 443.21 L363.94 442.03 L365.17 441.07 L366.43 440.34 L367.67 439.88 L368.85 439.69 L369.94 439.79 L370.9 440.17Z" fill="#fff" stroke="#111" stroke-width="1.3"/>
<path d="M366.85 440.72 L367.5 440.75 L368.1 440.91 L368.64 441.19 L369.11 441.58 L369.5 442.08 L369.81 442.67 L370.03 443.36 L370.16 444.13 L370.2 444.97 L370.14 445.86 L369.98 446.78 L369.74 447.73 L369.4 448.69 L368.99 449.64 L368.5 450.57 L367.94 451.45 L367.33 452.29 L366.66 453.05 L365.96 453.74 L365.24 454.34 L364.5 454.83 L363.76 455.22 L363.03 455.5 L362.32 455.65 L361.65 455.68 L361.02 455.59 L360.45 455.38 L359.94 455.05 L359.5 454.61 L359.15 454.06" fill="none" stroke="#111" stroke-width="0.9"/>
<path d="M366.5 441.78 L366.84 442.03 L367.14 442.34 L367.39 442.72 L367.59 443.15 L367.74 443.63 L367.83 444.17 L367.87 444.74 L367.84 445.35 L367.76 445.98 L367.63 446.64 L367.44 447.3 L367.2 447.96 L366.91 448.62 L366.57 449.27 L366.2 449.9 L365.79 450.49 L365.34 451.05 L364.87 451.56 L364.38 452.03 L363.87 452.44 L363.36 452.79 L362.85 453.08 L362.34 453.29 L361.83 453.44 L361.35 453.51 L360.89 453.52 L360.46 453.44 L360.06 453.3 L359.7 453.08 L359.38 452.8" fill="none" stroke="#111" stroke-width="0.9"/>
<path d="M431.1 496.37 L431.91 497.01 L432.54 497.91 L432.97 499.02 L433.18 500.32 L433.18 501.78 L432.96 503.33 L432.53 504.94 L431.91 506.56 L431.1 508.14 L430.13 509.63 L429.05 510.99 L427.86 512.17 L426.63 513.13 L425.37 513.86 L424.13 514.32 L422.95 514.51 L421.86 514.41 L420.9 514.03 L420.09 513.39 L419.46 512.49 L419.03 511.38 L418.82 510.08 L418.82 508.62 L419.04 507.07 L419.47 505.46 L420.09 503.84 L420.9 502.26 L421.87 500.77 L422.95 499.41 L424.14 498.23 L425.37 497.27 L426.63 496.54 L427.87 496.08 L429.05 495.89 L430.14 495.99 L431.1 496.37Z" fill="#fff" stroke="#111" stroke-width="1.3"/>
<path d="M427.05 496.92 L427.7 496.95 L428.3 497.11 L428.84 497.39 L429.31 497.78 L429.7 498.28 L430.01 498.87 L430.23 499.56 L430.36 500.33 L430.4 501.17 L430.34 502.06 L430.18 502.98 L429.94 503.93 L429.6 504.89 L429.19 505.84 L428.7 506.77 L428.14 507.65 L427.53 508.49 L426.86 509.25 L426.16 509.94 L425.44 510.54 L424.7 511.03 L423.96 511.42 L423.23 511.7 L422.52 511.85 L421.85 511.88 L421.22 511.79 L420.65 511.58 L420.14 511.25 L419.7 510.81 L419.35 510.26" fill="none" stroke="#111" stroke-width="0.9"/>
<path d="M426.7 497.98 L427.04 498.23 L427.34 498.54 L427.59 498.92 L427.79 499.35 L427.94 499.83 L428.03 500.37 L428.07 500.94 L428.04 501.55 L427.96 502.18 L427.83 502.84 L427.64 503.5 L427.4 504.16 L427.11 504.82 L426.77 505.47 L426.4 506.1 L425.99 506.69 L425.54 507.25 L425.07 507.76 L424.58 508.23 L424.07 508.64 L423.56 508.99 L423.05 509.28 L422.54 509.49 L422.03 509.64 L421.55 509.71 L421.09 509.72 L420.66 509.64 L420.26 509.5 L419.9 509.28 L419.58 509" fill="none" stroke="#111" stroke-width="0.9"/>
<path d="M522 447.42 L522.81 448.06 L523.44 448.96 L523.87 450.07 L524.08 451.37 L524.08 452.83 L523.86 454.38 L523.43 455.99 L522.81 457.61 L522 459.19 L521.03 460.68 L519.95 462.04 L518.76 463.22 L517.53 464.18 L516.27 464.91 L515.03 465.37 L513.85 465.56 L512.76 465.46 L511.8 465.08 L510.99 464.44 L510.36 463.54 L509.93 462.43 L509.72 461.13 L509.72 459.67 L509.94 458.12 L510.37 456.51 L510.99 454.89 L511.8 453.31 L512.77 451.82 L513.85 450.46 L515.04 449.28 L516.27 448.32 L517.53 447.59 L518.77 447.13 L519.95 446.94 L521.04 447.04 L522 447.42Z" fill="#fff" stroke="#111" stroke-width="1.3"/>
<path d="M517.95 447.97 L518.6 448 L519.2 448.16 L519.74 448.44 L520.21 448.83 L520.6 449.33 L520.91 449.92 L521.13 450.61 L521.26 451.38 L521.3 452.22 L521.24 453.11 L521.08 454.03 L520.84 454.98 L520.5 455.94 L520.09 456.89 L519.6 457.82 L519.04 458.7 L518.43 459.54 L517.76 460.3 L517.06 460.99 L516.34 461.59 L515.6 462.08 L514.86 462.47 L514.13 462.75 L513.42 462.9 L512.75 462.93 L512.12 462.84 L511.55 462.63 L511.04 462.3 L510.6 461.86 L510.25 461.31" fill="none" stroke="#111" stroke-width="0.9"/>
<path d="M517.6 449.03 L517.94 449.28 L518.24 449.59 L518.49 449.97 L518.69 450.4 L518.84 450.88 L518.93 451.42 L518.97 451.99 L518.94 452.6 L518.86 453.23 L518.73 453.89 L518.54 454.55 L518.3 455.21 L518.01 455.87 L517.67 456.52 L517.3 457.15 L516.89 457.74 L516.44 458.3 L515.97 458.81 L515.48 459.28 L514.97 459.69 L514.46 460.04 L513.95 460.33 L513.44 460.54 L512.93 460.69 L512.45 460.76 L511.99 460.77 L511.56 460.69 L511.16 460.55 L510.8 460.33 L510.48 460.05" fill="none" stroke="#111" stroke-width="0.9"/>
<path d="M438.58 270.58 L438.39 270.5 L438.17 270.48 L437.94 270.5 L437.7 270.57 L437.45 270.69 L437.2 270.85 L436.96 271.05 L436.74 271.29 L436.53 271.56 L436.35 271.85 L436.19 272.16 L436.07 272.48 L435.99 272.79 L435.94 273.1 L435.92 273.4 L435.95 273.67 L436.02 273.91 L436.12 274.12 L436.25 274.29 L436.42 274.42 L444.42 278.92 L444.61 279 L444.83 279.02 L445.06 279 L445.3 278.93 L445.55 278.81 L445.8 278.65 L446.04 278.45 L446.26 278.21 L446.47 277.94 L446.65 277.65 L446.81 277.34 L446.93 277.02 L447.01 276.71 L447.06 276.4 L447.08 276.1 L447.05 275.83 L446.98 275.59 L446.88 275.38 L446.75 275.21 L446.58 275.08Z" fill="#fff" stroke="#111" stroke-width="1.5"/>
<path d="M444.42 278.92 L444.61 279 L444.83 279.02 L445.06 279 L445.3 278.93 L445.55 278.81 L445.8 278.65 L446.04 278.45 L446.26 278.21 L446.47 277.94 L446.65 277.65 L446.81 277.34 L446.93 277.02 L447.01 276.71 L447.06 276.4 L447.08 276.1 L447.05 275.83 L446.98 275.59 L446.88 275.38 L446.75 275.21 L446.58 275.08 L446.39 275 L446.17 274.98 L445.94 275 L445.7 275.07 L445.45 275.19 L445.2 275.35 L444.96 275.55 L444.74 275.79 L444.53 276.06 L444.35 276.35 L444.19 276.66 L444.07 276.98 L443.99 277.29 L443.94 277.6 L443.92 277.9 L443.95 278.17 L444.02 278.41 L444.12 278.62 L444.25 278.79 L444.42 278.92Z" fill="#fff" stroke="#111" stroke-width="1.5"/>
<path d="M373.48 437.05 L373.3 436.98 L373.11 436.96 L372.9 436.98 L372.68 437.04 L372.45 437.15 L372.23 437.3 L372.01 437.49 L371.81 437.7 L371.62 437.95 L371.45 438.21 L371.31 438.49 L371.2 438.78 L371.12 439.07 L371.08 439.35 L371.07 439.62 L371.09 439.87 L371.15 440.09 L371.25 440.28 L371.37 440.43 L371.52 440.55 L374.02 441.95 L374.2 442.02 L374.39 442.04 L374.6 442.02 L374.82 441.96 L375.05 441.85 L375.27 441.7 L375.49 441.51 L375.69 441.3 L375.88 441.05 L376.05 440.79 L376.19 440.51 L376.3 440.22 L376.38 439.93 L376.42 439.65 L376.43 439.38 L376.41 439.13 L376.35 438.91 L376.25 438.72 L376.13 438.57 L375.98 438.45Z" fill="#fff" stroke="#111" stroke-width="1.5"/>
<path d="M374.02 441.95 L374.2 442.02 L374.39 442.04 L374.6 442.02 L374.82 441.96 L375.05 441.85 L375.27 441.7 L375.49 441.51 L375.69 441.3 L375.88 441.05 L376.05 440.79 L376.19 440.51 L376.3 440.22 L376.38 439.93 L376.42 439.65 L376.43 439.38 L376.41 439.13 L376.35 438.91 L376.25 438.72 L376.13 438.57 L375.98 438.45 L375.8 438.38 L375.61 438.36 L375.4 438.38 L375.18 438.44 L374.95 438.55 L374.73 438.7 L374.51 438.89 L374.31 439.1 L374.12 439.35 L373.95 439.61 L373.81 439.89 L373.7 440.18 L373.62 440.47 L373.58 440.75 L373.57 441.02 L373.59 441.27 L373.65 441.49 L373.75 441.68 L373.87 441.83 L374.02 441.95Z" fill="#fff" stroke="#111" stroke-width="1.5"/>
<clipPath id="opF"><path d="M405.79 335.69 L407.84 332.05 L409.95 328.46 L412.13 324.9 L414.37 321.39 L416.67 317.93 L419.03 314.52 L421.44 311.16 L423.9 307.87 L426.42 304.64 L428.98 301.47 L431.59 298.37 L434.24 295.35 L436.93 292.4 L439.66 289.53 L442.42 286.74 L445.22 284.03 L448.04 281.41 L450.89 278.88 L453.76 276.44 L456.65 274.09 L459.56 271.85 L462.48 269.7 L465.42 267.65 L468.36 265.71 L471.31 263.87 L474.26 262.14 L477.2 260.52 L480.15 259 L483.09 257.6 L486.02 256.32 L488.93 255.15 L491.83 254.09 L494.71 253.15 L497.57 252.33 L500.41 251.63 L503.22 251.05 L505.99 250.59 L508.74 250.25 L511.45 250.03 L514.12 249.93 L516.75 249.95 L519.34 250.09 L521.87 250.36 L524.36 250.74 L526.8 251.25 L529.19 251.88 L531.52 252.62 L533.78 253.49 L535.99 254.47 L538.14 255.57 L540.22 256.78 L542.23 258.11 L544.17 259.55 L546.04 261.1 L547.84 262.77 L549.56 264.54 L551.2 266.41 L552.77 268.4 L554.25 270.48 L555.65 272.67 L556.97 274.95 L558.21 277.33 L559.36 279.8 L560.42 282.37 L561.39 285.02 L562.27 287.76 L563.07 290.58 L563.77 293.48 L564.38 296.46 L564.9 299.51 L565.33 302.63 L565.66 305.82 L565.9 309.08 L566.05 312.4 L566.1 315.77 L566.06 319.2 L565.93 322.68 L565.7 326.21 L565.37 329.78 L564.96 333.39 L564.45 337.04 L563.85 340.72 L563.16 344.43 L562.37 348.17 L561.5 351.93 L560.54 355.7 L559.49 359.49 L558.35 363.29 L557.12 367.1 L555.81 370.91 L554.42 374.71 L552.94 378.52 L551.39 382.31 L549.75 386.09 L548.04 389.85 L546.26 393.59 L544.39 397.31 L542.46 401 L540.46 404.66 L538.39 408.28 L536.25 411.86 L534.05 415.4 L531.79 418.9 L529.47 422.34 L527.09 425.73 L524.65 429.06 L522.17 432.33 L519.64 435.54 L517.06 438.68 L514.43 441.75 L511.77 444.75 L509.06 447.67 L506.32 450.52 L503.55 453.28 L500.74 455.95 L497.91 458.54 L495.05 461.03 L492.17 463.44 L489.27 465.75 L486.36 467.96 L483.43 470.07 L480.5 472.08 L477.55 473.98 L474.6 475.78 L471.65 477.47 L468.71 479.06 L465.76 480.53 L462.83 481.88 L459.9 483.13 L456.99 484.26 L454.1 485.27 L451.23 486.16 L448.38 486.94 L445.55 487.6 L442.75 488.14 L439.99 488.55 L437.25 488.85 L434.56 489.02 L431.9 489.08 L429.29 489.01 L426.72 488.82 L424.2 488.51 L421.73 488.08 L419.31 487.53 L416.94 486.86 L414.64 486.07 L412.39 485.17 L410.21 484.14 L408.09 483 L406.03 481.74 L404.05 480.37 L402.13 478.89 L400.29 477.3 L398.52 475.59 L396.83 473.78 L395.21 471.86 L393.68 469.84 L392.22 467.72 L390.85 465.5 L389.56 463.18 L391.6 460 L386.9 453.75 L383.75 441.25 L381.4 422.5 L382.2 405.3 L385.3 388.1 L385.3 381.9 L379 378 L376.7 370.9 L379 362.3 L386.9 354.5 L397.8 350.6 L402.5 344.4 L405.6 335Z"/></clipPath>
<clipPath id="opB"><path d="M395.19 329.49 L397.24 325.85 L399.35 322.26 L401.53 318.7 L403.77 315.19 L406.07 311.73 L408.43 308.32 L410.84 304.96 L413.3 301.67 L415.82 298.44 L418.38 295.27 L420.99 292.17 L423.64 289.15 L426.33 286.2 L429.06 283.33 L431.82 280.54 L434.62 277.83 L437.44 275.21 L440.29 272.68 L443.16 270.24 L446.05 267.89 L448.96 265.65 L451.88 263.5 L454.82 261.45 L457.76 259.51 L460.71 257.67 L463.66 255.94 L466.6 254.32 L469.55 252.8 L472.49 251.4 L475.42 250.12 L478.33 248.95 L481.23 247.89 L484.11 246.95 L486.97 246.13 L489.81 245.43 L492.62 244.85 L495.39 244.39 L498.14 244.05 L500.85 243.83 L503.52 243.73 L506.15 243.75 L508.74 243.89 L511.27 244.16 L513.76 244.54 L516.2 245.05 L518.59 245.68 L520.92 246.42 L523.18 247.29 L525.39 248.27 L527.54 249.37 L529.62 250.58 L531.63 251.91 L533.57 253.35 L535.44 254.9 L537.24 256.57 L538.96 258.34 L540.6 260.21 L542.17 262.2 L543.65 264.28 L545.05 266.47 L546.37 268.75 L547.61 271.13 L548.76 273.6 L549.82 276.17 L550.79 278.82 L551.67 281.56 L552.47 284.38 L553.17 287.28 L553.78 290.26 L554.3 293.31 L554.73 296.43 L555.06 299.62 L555.3 302.88 L555.45 306.2 L555.5 309.57 L555.46 313 L555.33 316.48 L555.1 320.01 L554.77 323.58 L554.36 327.19 L553.85 330.84 L553.25 334.52 L552.56 338.23 L551.77 341.97 L550.9 345.73 L549.94 349.5 L548.89 353.29 L547.75 357.09 L546.52 360.9 L545.21 364.71 L543.82 368.51 L542.34 372.32 L540.79 376.11 L539.15 379.89 L537.44 383.65 L535.66 387.39 L533.79 391.11 L531.86 394.8 L529.86 398.46 L527.79 402.08 L525.65 405.66 L523.45 409.2 L521.19 412.7 L518.87 416.14 L516.49 419.53 L514.05 422.86 L511.57 426.13 L509.04 429.34 L506.46 432.48 L503.83 435.55 L501.17 438.55 L498.46 441.47 L495.72 444.32 L492.95 447.08 L490.14 449.75 L487.31 452.34 L484.45 454.83 L481.57 457.24 L478.67 459.55 L475.76 461.76 L472.83 463.87 L469.9 465.88 L466.95 467.78 L464 469.58 L461.05 471.27 L458.11 472.86 L455.16 474.33 L452.23 475.68 L449.3 476.93 L446.39 478.06 L443.5 479.07 L440.63 479.96 L437.78 480.74 L434.95 481.4 L432.15 481.94 L429.39 482.35 L426.65 482.65 L423.96 482.82 L421.3 482.88 L418.69 482.81 L416.12 482.62 L413.6 482.31 L411.13 481.88 L408.71 481.33 L406.34 480.66 L404.04 479.87 L401.79 478.97 L399.61 477.94 L397.49 476.8 L395.43 475.54 L393.45 474.17 L391.53 472.69 L389.69 471.1 L387.92 469.39 L386.23 467.58 L384.61 465.66 L383.08 463.64 L381.62 461.52 L380.25 459.3 L378.96 456.98 L381 453.8 L376.3 447.55 L373.15 435.05 L370.8 416.3 L371.6 399.1 L374.7 381.9 L374.7 375.7 L368.4 371.8 L366.1 364.7 L368.4 356.1 L376.3 348.3 L387.2 344.4 L391.9 338.2 L395 328.8Z"/></clipPath>
<g clip-path="url(#opF)"><g clip-path="url(#opB)">
<path d="M242 162L436.9 273.1" stroke="#333" stroke-width="0.8" stroke-dasharray="7 3.5" fill="none"/>
<path d="M315.3 120.7L509.2 232.5" stroke="#333" stroke-width="0.8" stroke-dasharray="7 3.5" fill="none"/>
<path d="M368.3 138.7L562.3 250.5" stroke="#333" stroke-width="0.8" stroke-dasharray="7 3.5" fill="none"/>
<path d="M384 216L578.9 328" stroke="#333" stroke-width="0.8" stroke-dasharray="7 3.5" fill="none"/>
<path d="M173.8 339L365.8 449" stroke="#333" stroke-width="0.8" stroke-dasharray="7 3.5" fill="none"/>
<path d="M232 394.5L426 505.2" stroke="#333" stroke-width="0.8" stroke-dasharray="7 3.5" fill="none"/>
<path d="M322.5 344.3L516.9 456.25" stroke="#333" stroke-width="0.8" stroke-dasharray="7 3.5" fill="none"/>
<path d="M199.2 212.2L400 327" stroke="#333" stroke-width="0.8" stroke-dasharray="7 3.5" fill="none"/>
<path d="M170.8 299.3L372 410" stroke="#333" stroke-width="0.8" stroke-dasharray="7 3.5" fill="none"/>
<path d="M185 395L379 507.5" stroke="#333" stroke-width="0.8" stroke-dasharray="7 3.5" fill="none"/>
</g></g>
<path d="M436.9 273.1L452.5 284" stroke="#333" stroke-width="0.8" stroke-dasharray="7 3.5" fill="none"/>
<path d="M481 300.5L704.5 425" stroke="#333" stroke-width="0.8" stroke-dasharray="7 3.5" fill="none"/>
<path d="M509.2 232.5L526 240.2" stroke="#333" stroke-width="0.8" stroke-dasharray="7 3.5" fill="none"/>
<path d="M562.3 250.5L578.8 259" stroke="#333" stroke-width="0.8" stroke-dasharray="7 3.5" fill="none"/>
<path d="M578.9 328L594 337" stroke="#333" stroke-width="0.8" stroke-dasharray="7 3.5" fill="none"/>
<path d="M365.8 449L383.8 459.8" stroke="#333" stroke-width="0.8" stroke-dasharray="7 3.5" fill="none"/>
<path d="M426 505.2L442.3 517" stroke="#333" stroke-width="0.8" stroke-dasharray="7 3.5" fill="none"/>
<path d="M516.9 456.25L533 466.4" stroke="#333" stroke-width="0.8" stroke-dasharray="7 3.5" fill="none"/>
<path d="M372 410L580.5 528.8" stroke="#333" stroke-width="0.8" stroke-dasharray="7 3.5" fill="none"/>
<path d="M550.2 221.6L668.8 290" stroke="#333" stroke-width="0.8" stroke-dasharray="7 3.5" fill="none"/>
<path d="M471.3 233.3L590 302.5" stroke="#333" stroke-width="0.8" stroke-dasharray="7 3.5" fill="none"/>
<path d="M555.6 390.6L757 508.8" stroke="#333" stroke-width="0.8" stroke-dasharray="7 3.5" fill="none"/>
<path d="M392.5 346.6L652 497.3" stroke="#333" stroke-width="0.8" stroke-dasharray="7 3.5" fill="none"/>
<path d="M525.7 435L715.8 545.3" stroke="#333" stroke-width="0.8" stroke-dasharray="7 3.5" fill="none"/>
<path d="M451.25 492.7L642 602.5" stroke="#333" stroke-width="0.8" stroke-dasharray="7 3.5" fill="none"/>
<path d="M400.2 488L590 597.5" stroke="#333" stroke-width="0.8" stroke-dasharray="7 3.5" fill="none"/>
<path d="M704.5 425L721.3 435" stroke="#333" stroke-width="0.8" stroke-dasharray="7 3.5" fill="none"/>
<path d="M652 497.3L668.8 507" stroke="#333" stroke-width="0.8" stroke-dasharray="7 3.5" fill="none"/>
<path d="M668.8 290L676 293" stroke="#333" stroke-width="0.8" stroke-dasharray="7 3.5" fill="none"/>
<path d="M454.67 280.29 L454.31 280.14 L453.9 280.08 L453.46 280.12 L452.99 280.26 L452.52 280.49 L452.04 280.8 L451.57 281.19 L451.13 281.65 L450.71 282.17 L450.35 282.74 L450.03 283.34 L449.78 283.95 L449.6 284.56 L449.48 285.16 L449.44 285.73 L449.48 286.26 L449.59 286.73 L449.77 287.14 L450.02 287.47 L450.33 287.71 L470.87 299.75 L471.23 299.9 L471.64 299.95 L472.08 299.91 L472.55 299.78 L473.03 299.55 L473.51 299.24 L473.97 298.84 L474.42 298.38 L474.83 297.86 L475.19 297.3 L475.51 296.7 L475.76 296.09 L475.95 295.48 L476.06 294.88 L476.1 294.3 L476.07 293.78 L475.96 293.3 L475.78 292.9 L475.53 292.57 L475.22 292.33Z" fill="#fff" stroke="#111" stroke-width="1.4"/>
<path d="M470.87 299.75 L471.23 299.9 L471.64 299.95 L472.08 299.91 L472.55 299.78 L473.03 299.55 L473.51 299.24 L473.97 298.84 L474.42 298.38 L474.83 297.86 L475.19 297.3 L475.51 296.7 L475.76 296.09 L475.95 295.48 L476.06 294.88 L476.1 294.3 L476.07 293.78 L475.96 293.3 L475.78 292.9 L475.53 292.57 L475.22 292.33 L474.85 292.17 L474.45 292.12 L474 292.16 L473.54 292.29 L473.06 292.52 L472.58 292.84 L472.11 293.23 L471.67 293.69 L471.26 294.21 L470.89 294.78 L470.58 295.37 L470.32 295.98 L470.14 296.6 L470.02 297.2 L469.98 297.77 L470.02 298.3 L470.13 298.77 L470.31 299.18 L470.56 299.5 L470.87 299.75Z" fill="#fff" stroke="#111" stroke-width="1.4"/>
<path d="M469.77 302.84 L475.13 300.56 L478.41 293.76 L476.32 289.23 L470.96 291.51 L467.68 298.32Z" fill="#fff" stroke="#111" stroke-width="1.4"/>
<path d="M469.77 302.84 L475.13 300.56 L479.44 303.09 L474.08 305.37Z" fill="#fff" stroke="#111" stroke-width="1.3"/>
<path d="M475.13 300.56 L478.41 293.76 L482.72 296.28 L479.44 303.09Z" fill="#fff" stroke="#111" stroke-width="1.3"/>
<path d="M478.41 293.76 L476.32 289.23 L480.63 291.76 L482.72 296.28Z" fill="#fff" stroke="#111" stroke-width="1.3"/>
<path d="M476.32 289.23 L470.96 291.51 L475.27 294.04 L480.63 291.76Z" fill="#fff" stroke="#111" stroke-width="1.3"/>
<path d="M470.96 291.51 L467.68 298.32 L471.99 300.84 L475.27 294.04Z" fill="#fff" stroke="#111" stroke-width="1.3"/>
<path d="M467.68 298.32 L469.77 302.84 L474.08 305.37 L471.99 300.84Z" fill="#fff" stroke="#111" stroke-width="1.3"/>
<path d="M474.08 305.37 L479.44 303.09 L482.72 296.28 L480.63 291.76 L475.27 294.04 L471.99 300.84Z" fill="#fff" stroke="#111" stroke-width="1.5"/>
<path d="M474.05 304.2 L475.01 304.51 L476.13 304.41 L477.33 303.91 L478.54 303.04 L479.66 301.87 L480.63 300.48 L481.37 298.96 L481.84 297.4 L482.01 295.93 L481.85 294.64 L481.4 293.61 L480.66 292.92 L479.7 292.62 L478.58 292.72 L477.38 293.22 L476.18 294.08 L475.05 295.25 L474.09 296.65 L473.34 298.17 L472.87 299.72 L472.71 301.2 L472.86 302.49 L473.32 303.52 L474.05 304.2Z" fill="none" stroke="#111" stroke-width="0.8"/>
<path d="M528.39 236.62 L528.03 236.45 L527.63 236.37 L527.18 236.38 L526.71 236.49 L526.22 236.69 L525.72 236.98 L525.23 237.34 L524.76 237.78 L524.32 238.27 L523.92 238.82 L523.58 239.39 L523.29 239.99 L523.07 240.59 L522.92 241.18 L522.85 241.75 L522.85 242.28 L522.93 242.76 L523.09 243.18 L523.32 243.52 L523.61 243.78 L543.73 257.19 L544.09 257.36 L544.49 257.44 L544.94 257.43 L545.41 257.32 L545.9 257.12 L546.4 256.84 L546.89 256.47 L547.36 256.03 L547.8 255.54 L548.2 255 L548.54 254.42 L548.83 253.82 L549.05 253.22 L549.2 252.63 L549.27 252.06 L549.27 251.53 L549.19 251.05 L549.03 250.64 L548.8 250.3 L548.51 250.04Z" fill="#fff" stroke="#111" stroke-width="1.4"/>
<path d="M543.73 257.19 L544.09 257.36 L544.49 257.44 L544.94 257.43 L545.41 257.32 L545.9 257.12 L546.4 256.84 L546.89 256.47 L547.36 256.03 L547.8 255.54 L548.2 255 L548.54 254.42 L548.83 253.82 L549.05 253.22 L549.2 252.63 L549.27 252.06 L549.27 251.53 L549.19 251.05 L549.03 250.64 L548.8 250.3 L548.51 250.04 L548.15 249.86 L547.75 249.78 L547.3 249.8 L546.83 249.91 L546.34 250.11 L545.84 250.39 L545.35 250.76 L544.88 251.19 L544.44 251.69 L544.04 252.23 L543.7 252.81 L543.41 253.4 L543.19 254 L543.04 254.6 L542.97 255.16 L542.97 255.69 L543.05 256.17 L543.21 256.59 L543.44 256.93 L543.73 257.19Z" fill="#fff" stroke="#111" stroke-width="1.4"/>
<path d="M542.46 260.22 L547.94 258.25 L551.61 251.65 L549.78 247.01 L544.3 248.98 L540.63 255.58Z" fill="#fff" stroke="#111" stroke-width="1.4"/>
<path d="M542.46 260.22 L547.94 258.25 L552.1 261.02 L546.62 262.99Z" fill="#fff" stroke="#111" stroke-width="1.3"/>
<path d="M547.94 258.25 L551.61 251.65 L555.77 254.42 L552.1 261.02Z" fill="#fff" stroke="#111" stroke-width="1.3"/>
<path d="M551.61 251.65 L549.78 247.01 L553.94 249.78 L555.77 254.42Z" fill="#fff" stroke="#111" stroke-width="1.3"/>
<path d="M549.78 247.01 L544.3 248.98 L548.46 251.75 L553.94 249.78Z" fill="#fff" stroke="#111" stroke-width="1.3"/>
<path d="M544.3 248.98 L540.63 255.58 L544.79 258.35 L548.46 251.75Z" fill="#fff" stroke="#111" stroke-width="1.3"/>
<path d="M540.63 255.58 L542.46 260.22 L546.62 262.99 L544.79 258.35Z" fill="#fff" stroke="#111" stroke-width="1.3"/>
<path d="M546.62 262.99 L552.1 261.02 L555.77 254.42 L553.94 249.78 L548.46 251.75 L544.79 258.35Z" fill="#fff" stroke="#111" stroke-width="1.5"/>
<path d="M546.65 261.83 L547.59 262.18 L548.72 262.15 L549.95 261.72 L551.2 260.93 L552.39 259.83 L553.43 258.49 L554.27 257.01 L554.82 255.49 L555.07 254.03 L555 252.73 L554.6 251.68 L553.91 250.95 L552.97 250.59 L551.84 250.63 L550.61 251.05 L549.36 251.85 L548.17 252.95 L547.13 254.28 L546.3 255.76 L545.74 257.28 L545.49 258.75 L545.56 260.05 L545.96 261.1 L546.65 261.83Z" fill="none" stroke="#111" stroke-width="0.8"/>
<path d="M581.06 255.34 L580.7 255.18 L580.3 255.12 L579.86 255.15 L579.39 255.27 L578.9 255.49 L578.42 255.79 L577.94 256.17 L577.48 256.62 L577.06 257.13 L576.68 257.69 L576.35 258.27 L576.08 258.88 L575.88 259.49 L575.75 260.09 L575.7 260.66 L575.72 261.19 L575.82 261.66 L575.99 262.07 L576.23 262.4 L576.54 262.66 L597.01 275.34 L597.37 275.5 L597.78 275.57 L598.22 275.54 L598.69 275.41 L599.17 275.2 L599.66 274.89 L600.14 274.51 L600.59 274.06 L601.01 273.55 L601.39 273 L601.72 272.41 L601.99 271.8 L602.19 271.19 L602.32 270.6 L602.38 270.03 L602.35 269.5 L602.25 269.02 L602.08 268.61 L601.84 268.28 L601.54 268.03Z" fill="#fff" stroke="#111" stroke-width="1.4"/>
<path d="M597.01 275.34 L597.37 275.5 L597.78 275.57 L598.22 275.54 L598.69 275.41 L599.17 275.2 L599.66 274.89 L600.14 274.51 L600.59 274.06 L601.01 273.55 L601.39 273 L601.72 272.41 L601.99 271.8 L602.19 271.19 L602.32 270.6 L602.38 270.03 L602.35 269.5 L602.25 269.02 L602.08 268.61 L601.84 268.28 L601.54 268.03 L601.18 267.87 L600.77 267.8 L600.33 267.83 L599.86 267.95 L599.38 268.17 L598.89 268.47 L598.41 268.85 L597.96 269.3 L597.53 269.81 L597.15 270.37 L596.83 270.96 L596.56 271.56 L596.36 272.17 L596.23 272.77 L596.17 273.34 L596.2 273.87 L596.29 274.34 L596.47 274.75 L596.71 275.09 L597.01 275.34Z" fill="#fff" stroke="#111" stroke-width="1.4"/>
<path d="M595.74 278.58 L601.3 276.38 L604.83 269.48 L602.81 264.79 L597.25 266.99 L593.72 273.89Z" fill="#fff" stroke="#111" stroke-width="1.4"/>
<path d="M595.74 278.58 L601.3 276.38 L605.55 279.01 L599.99 281.21Z" fill="#fff" stroke="#111" stroke-width="1.3"/>
<path d="M601.3 276.38 L604.83 269.48 L609.08 272.11 L605.55 279.01Z" fill="#fff" stroke="#111" stroke-width="1.3"/>
<path d="M604.83 269.48 L602.81 264.79 L607.06 267.42 L609.08 272.11Z" fill="#fff" stroke="#111" stroke-width="1.3"/>
<path d="M602.81 264.79 L597.25 266.99 L601.5 269.62 L607.06 267.42Z" fill="#fff" stroke="#111" stroke-width="1.3"/>
<path d="M597.25 266.99 L593.72 273.89 L597.97 276.52 L601.5 269.62Z" fill="#fff" stroke="#111" stroke-width="1.3"/>
<path d="M593.72 273.89 L595.74 278.58 L599.99 281.21 L597.97 276.52Z" fill="#fff" stroke="#111" stroke-width="1.3"/>
<path d="M599.99 281.21 L605.55 279.01 L609.08 272.11 L607.06 267.42 L601.5 269.62 L597.97 276.52Z" fill="#fff" stroke="#111" stroke-width="1.5"/>
<path d="M599.99 280.02 L600.97 280.36 L602.12 280.28 L603.37 279.8 L604.62 278.94 L605.81 277.77 L606.83 276.37 L607.63 274.82 L608.16 273.24 L608.36 271.73 L608.24 270.4 L607.79 269.34 L607.06 268.61 L606.08 268.28 L604.93 268.35 L603.68 268.84 L602.43 269.69 L601.24 270.86 L600.22 272.27 L599.42 273.81 L598.89 275.39 L598.69 276.9 L598.81 278.23 L599.26 279.29 L599.99 280.02Z" fill="none" stroke="#111" stroke-width="0.8"/>
<path d="M596.24 333.33 L595.87 333.17 L595.47 333.11 L595.02 333.14 L594.56 333.27 L594.07 333.49 L593.59 333.79 L593.12 334.18 L592.66 334.63 L592.25 335.14 L591.87 335.7 L591.55 336.29 L591.28 336.9 L591.09 337.51 L590.96 338.11 L590.91 338.68 L590.94 339.21 L591.04 339.68 L591.22 340.09 L591.46 340.42 L591.76 340.67 L612.63 353.37 L612.99 353.53 L613.4 353.59 L613.84 353.56 L614.31 353.43 L614.79 353.21 L615.27 352.91 L615.75 352.52 L616.2 352.07 L616.62 351.56 L616.99 351 L617.32 350.41 L617.58 349.8 L617.78 349.19 L617.9 348.59 L617.95 348.02 L617.93 347.49 L617.82 347.02 L617.65 346.61 L617.41 346.28 L617.1 346.03Z" fill="#fff" stroke="#111" stroke-width="1.4"/>
<path d="M612.63 353.37 L612.99 353.53 L613.4 353.59 L613.84 353.56 L614.31 353.43 L614.79 353.21 L615.27 352.91 L615.75 352.52 L616.2 352.07 L616.62 351.56 L616.99 351 L617.32 350.41 L617.58 349.8 L617.78 349.19 L617.9 348.59 L617.95 348.02 L617.93 347.49 L617.82 347.02 L617.65 346.61 L617.41 346.28 L617.1 346.03 L616.74 345.87 L616.33 345.81 L615.89 345.84 L615.42 345.97 L614.94 346.19 L614.46 346.49 L613.98 346.88 L613.53 347.33 L613.11 347.84 L612.73 348.4 L612.41 348.99 L612.15 349.6 L611.95 350.21 L611.83 350.81 L611.78 351.38 L611.8 351.91 L611.91 352.38 L612.08 352.79 L612.32 353.13 L612.63 353.37Z" fill="#fff" stroke="#111" stroke-width="1.4"/>
<path d="M611.39 356.63 L616.93 354.38 L620.41 347.45 L618.34 342.77 L612.8 345.02 L609.32 351.95Z" fill="#fff" stroke="#111" stroke-width="1.4"/>
<path d="M611.39 356.63 L616.93 354.38 L621.2 356.98 L615.66 359.23Z" fill="#fff" stroke="#111" stroke-width="1.3"/>
<path d="M616.93 354.38 L620.41 347.45 L624.68 350.05 L621.2 356.98Z" fill="#fff" stroke="#111" stroke-width="1.3"/>
<path d="M620.41 347.45 L618.34 342.77 L622.61 345.37 L624.68 350.05Z" fill="#fff" stroke="#111" stroke-width="1.3"/>
<path d="M618.34 342.77 L612.8 345.02 L617.07 347.62 L622.61 345.37Z" fill="#fff" stroke="#111" stroke-width="1.3"/>
<path d="M612.8 345.02 L609.32 351.95 L613.59 354.55 L617.07 347.62Z" fill="#fff" stroke="#111" stroke-width="1.3"/>
<path d="M609.32 351.95 L611.39 356.63 L615.66 359.23 L613.59 354.55Z" fill="#fff" stroke="#111" stroke-width="1.3"/>
<path d="M615.66 359.23 L621.2 356.98 L624.68 350.05 L622.61 345.37 L617.07 347.62 L613.59 354.55Z" fill="#fff" stroke="#111" stroke-width="1.5"/>
<path d="M615.65 358.03 L616.63 358.36 L617.78 358.27 L619.02 357.78 L620.27 356.92 L621.44 355.74 L622.46 354.32 L623.25 352.77 L623.76 351.19 L623.95 349.68 L623.82 348.35 L623.36 347.29 L622.62 346.57 L621.64 346.24 L620.49 346.33 L619.25 346.82 L618 347.68 L616.83 348.86 L615.81 350.28 L615.02 351.83 L614.51 353.41 L614.32 354.92 L614.45 356.25 L614.91 357.31 L615.65 358.03Z" fill="none" stroke="#111" stroke-width="0.8"/>
<path d="M385.88 456.04 L385.51 455.89 L385.1 455.85 L384.66 455.9 L384.2 456.05 L383.73 456.29 L383.26 456.61 L382.8 457.02 L382.37 457.49 L381.97 458.02 L381.62 458.59 L381.32 459.2 L381.08 459.81 L380.91 460.43 L380.81 461.04 L380.79 461.61 L380.83 462.13 L380.95 462.6 L381.15 463.01 L381.4 463.33 L381.72 463.56 L402.13 474.85 L402.5 475 L402.91 475.04 L403.35 474.99 L403.81 474.84 L404.28 474.6 L404.75 474.28 L405.21 473.87 L405.64 473.4 L406.04 472.87 L406.39 472.3 L406.69 471.69 L406.93 471.08 L407.1 470.46 L407.2 469.85 L407.23 469.28 L407.18 468.76 L407.06 468.29 L406.87 467.88 L406.61 467.56 L406.29 467.33Z" fill="#fff" stroke="#111" stroke-width="1.4"/>
<path d="M402.13 474.85 L402.5 475 L402.91 475.04 L403.35 474.99 L403.81 474.84 L404.28 474.6 L404.75 474.28 L405.21 473.87 L405.64 473.4 L406.04 472.87 L406.39 472.3 L406.69 471.69 L406.93 471.08 L407.1 470.46 L407.2 469.85 L407.23 469.28 L407.18 468.76 L407.06 468.29 L406.87 467.88 L406.61 467.56 L406.29 467.33 L405.93 467.18 L405.52 467.14 L405.08 467.19 L404.61 467.34 L404.14 467.58 L403.67 467.9 L403.21 468.31 L402.78 468.78 L402.38 469.31 L402.03 469.88 L401.73 470.49 L401.49 471.1 L401.32 471.72 L401.22 472.33 L401.2 472.9 L401.25 473.42 L401.37 473.89 L401.56 474.3 L401.82 474.62 L402.13 474.85Z" fill="#fff" stroke="#111" stroke-width="1.4"/>
<path d="M401.11 477.97 L406.41 475.56 L409.52 468.68 L407.32 464.21 L402.01 466.62 L398.91 473.5Z" fill="#fff" stroke="#111" stroke-width="1.4"/>
<path d="M401.11 477.97 L406.41 475.56 L410.79 477.98 L405.48 480.39Z" fill="#fff" stroke="#111" stroke-width="1.3"/>
<path d="M406.41 475.56 L409.52 468.68 L413.89 471.1 L410.79 477.98Z" fill="#fff" stroke="#111" stroke-width="1.3"/>
<path d="M409.52 468.68 L407.32 464.21 L411.69 466.63 L413.89 471.1Z" fill="#fff" stroke="#111" stroke-width="1.3"/>
<path d="M407.32 464.21 L402.01 466.62 L406.39 469.04 L411.69 466.63Z" fill="#fff" stroke="#111" stroke-width="1.3"/>
<path d="M402.01 466.62 L398.91 473.5 L403.28 475.92 L406.39 469.04Z" fill="#fff" stroke="#111" stroke-width="1.3"/>
<path d="M398.91 473.5 L401.11 477.97 L405.48 480.39 L403.28 475.92Z" fill="#fff" stroke="#111" stroke-width="1.3"/>
<path d="M405.48 480.39 L410.79 477.98 L413.89 471.1 L411.69 466.63 L406.39 469.04 L403.28 475.92Z" fill="#fff" stroke="#111" stroke-width="1.5"/>
<path d="M405.42 479.23 L406.39 479.51 L407.51 479.38 L408.7 478.85 L409.88 477.96 L410.97 476.76 L411.9 475.34 L412.61 473.8 L413.04 472.24 L413.17 470.76 L412.99 469.47 L412.5 468.46 L411.75 467.79 L410.78 467.51 L409.67 467.64 L408.48 468.17 L407.3 469.06 L406.2 470.26 L405.27 471.68 L404.56 473.22 L404.13 474.78 L404.01 476.26 L404.19 477.55 L404.67 478.56 L405.42 479.23Z" fill="none" stroke="#111" stroke-width="0.8"/>
<path d="M534.76 463.26 L534.45 463.14 L534.11 463.1 L533.74 463.14 L533.35 463.26 L532.96 463.46 L532.56 463.73 L532.18 464.06 L531.81 464.46 L531.48 464.9 L531.18 465.38 L530.93 465.88 L530.72 466.4 L530.58 466.92 L530.49 467.42 L530.47 467.9 L530.51 468.34 L530.6 468.73 L530.76 469.07 L530.98 469.34 L531.24 469.54 L551.36 480.82 L551.67 480.94 L552.01 480.98 L552.38 480.94 L552.77 480.82 L553.16 480.62 L553.56 480.35 L553.94 480.01 L554.31 479.62 L554.64 479.18 L554.94 478.7 L555.19 478.19 L555.4 477.68 L555.54 477.16 L555.63 476.66 L555.65 476.18 L555.61 475.74 L555.51 475.34 L555.36 475.01 L555.14 474.74 L554.88 474.54Z" fill="#fff" stroke="#111" stroke-width="1.4"/>
<path d="M551.36 480.82 L551.67 480.94 L552.01 480.98 L552.38 480.94 L552.77 480.82 L553.16 480.62 L553.56 480.35 L553.94 480.01 L554.31 479.62 L554.64 479.18 L554.94 478.7 L555.19 478.19 L555.4 477.68 L555.54 477.16 L555.63 476.66 L555.65 476.18 L555.61 475.74 L555.51 475.34 L555.36 475.01 L555.14 474.74 L554.88 474.54 L554.57 474.42 L554.23 474.38 L553.86 474.42 L553.47 474.54 L553.08 474.74 L552.68 475.01 L552.3 475.34 L551.93 475.74 L551.6 476.18 L551.3 476.66 L551.04 477.16 L550.84 477.68 L550.7 478.19 L550.61 478.7 L550.59 479.18 L550.62 479.62 L550.72 480.01 L550.88 480.35 L551.1 480.62 L551.36 480.82Z" fill="#fff" stroke="#111" stroke-width="1.4"/>
<path d="M550.39 483.64 L555.01 481.57 L557.74 475.61 L555.85 471.72 L551.23 473.79 L548.5 479.75Z" fill="#fff" stroke="#111" stroke-width="1.4"/>
<path d="M550.39 483.64 L555.01 481.57 L559.37 484.01 L554.75 486.08Z" fill="#fff" stroke="#111" stroke-width="1.3"/>
<path d="M555.01 481.57 L557.74 475.61 L562.1 478.05 L559.37 484.01Z" fill="#fff" stroke="#111" stroke-width="1.3"/>
<path d="M557.74 475.61 L555.85 471.72 L560.21 474.16 L562.1 478.05Z" fill="#fff" stroke="#111" stroke-width="1.3"/>
<path d="M555.85 471.72 L551.23 473.79 L555.59 476.23 L560.21 474.16Z" fill="#fff" stroke="#111" stroke-width="1.3"/>
<path d="M551.23 473.79 L548.5 479.75 L552.86 482.19 L555.59 476.23Z" fill="#fff" stroke="#111" stroke-width="1.3"/>
<path d="M548.5 479.75 L550.39 483.64 L554.75 486.08 L552.86 482.19Z" fill="#fff" stroke="#111" stroke-width="1.3"/>
<path d="M554.75 486.08 L559.37 484.01 L562.1 478.05 L560.21 474.16 L555.59 476.23 L552.86 482.19Z" fill="#fff" stroke="#111" stroke-width="1.5"/>
<path d="M554.71 485.07 L555.54 485.32 L556.51 485.22 L557.55 484.76 L558.58 483.99 L559.54 482.96 L560.35 481.73 L560.97 480.4 L561.36 479.04 L561.47 477.76 L561.32 476.64 L560.9 475.76 L560.26 475.17 L559.42 474.92 L558.45 475.03 L557.41 475.48 L556.38 476.25 L555.43 477.29 L554.61 478.51 L553.99 479.85 L553.61 481.2 L553.49 482.49 L553.64 483.61 L554.06 484.49 L554.71 485.07Z" fill="none" stroke="#111" stroke-width="0.8"/>
<path d="M444.06 513.86 L443.75 513.74 L443.41 513.7 L443.04 513.74 L442.65 513.86 L442.26 514.06 L441.86 514.33 L441.48 514.66 L441.11 515.06 L440.78 515.5 L440.48 515.98 L440.23 516.48 L440.02 517 L439.88 517.52 L439.79 518.02 L439.77 518.5 L439.81 518.94 L439.91 519.34 L440.06 519.67 L440.28 519.94 L440.54 520.14 L460.86 531.52 L461.17 531.64 L461.51 531.68 L461.88 531.64 L462.27 531.52 L462.66 531.32 L463.06 531.05 L463.44 530.71 L463.81 530.32 L464.14 529.88 L464.44 529.4 L464.69 528.89 L464.89 528.38 L465.04 527.86 L465.13 527.36 L465.15 526.88 L465.11 526.44 L465.01 526.04 L464.85 525.71 L464.64 525.44 L464.38 525.24Z" fill="#fff" stroke="#111" stroke-width="1.4"/>
<path d="M460.86 531.52 L461.17 531.64 L461.51 531.68 L461.88 531.64 L462.27 531.52 L462.66 531.32 L463.06 531.05 L463.44 530.71 L463.81 530.32 L464.14 529.88 L464.44 529.4 L464.69 528.89 L464.89 528.38 L465.04 527.86 L465.13 527.36 L465.15 526.88 L465.11 526.44 L465.01 526.04 L464.85 525.71 L464.64 525.44 L464.38 525.24 L464.07 525.12 L463.73 525.08 L463.36 525.12 L462.97 525.24 L462.57 525.44 L462.18 525.71 L461.79 526.04 L461.43 526.44 L461.09 526.88 L460.8 527.36 L460.54 527.86 L460.34 528.38 L460.2 528.9 L460.11 529.4 L460.09 529.88 L460.12 530.32 L460.22 530.71 L460.38 531.05 L460.6 531.32 L460.86 531.52Z" fill="#fff" stroke="#111" stroke-width="1.4"/>
<path d="M459.89 534.34 L464.51 532.27 L467.24 526.31 L465.35 522.42 L460.73 524.49 L458 530.45Z" fill="#fff" stroke="#111" stroke-width="1.4"/>
<path d="M459.89 534.34 L464.51 532.27 L468.87 534.71 L464.25 536.78Z" fill="#fff" stroke="#111" stroke-width="1.3"/>
<path d="M464.51 532.27 L467.24 526.31 L471.6 528.75 L468.87 534.71Z" fill="#fff" stroke="#111" stroke-width="1.3"/>
<path d="M467.24 526.31 L465.35 522.42 L469.71 524.86 L471.6 528.75Z" fill="#fff" stroke="#111" stroke-width="1.3"/>
<path d="M465.35 522.42 L460.73 524.49 L465.09 526.93 L469.71 524.86Z" fill="#fff" stroke="#111" stroke-width="1.3"/>
<path d="M460.73 524.49 L458 530.45 L462.36 532.89 L465.09 526.93Z" fill="#fff" stroke="#111" stroke-width="1.3"/>
<path d="M458 530.45 L459.89 534.34 L464.25 536.78 L462.36 532.89Z" fill="#fff" stroke="#111" stroke-width="1.3"/>
<path d="M464.25 536.78 L468.87 534.71 L471.6 528.75 L469.71 524.86 L465.09 526.93 L462.36 532.89Z" fill="#fff" stroke="#111" stroke-width="1.5"/>
<path d="M464.21 535.77 L465.05 536.02 L466.02 535.91 L467.05 535.46 L468.08 534.69 L469.04 533.66 L469.85 532.43 L470.47 531.09 L470.86 529.74 L470.97 528.46 L470.82 527.34 L470.4 526.45 L469.75 525.87 L468.92 525.62 L467.95 525.73 L466.91 526.18 L465.88 526.95 L464.92 527.99 L464.11 529.21 L463.49 530.55 L463.11 531.9 L462.99 533.19 L463.14 534.31 L463.56 535.19 L464.21 535.77Z" fill="none" stroke="#111" stroke-width="0.8"/>
<path d="M405.41 421.38 L404.92 421.18 L404.37 421.11 L403.77 421.16 L403.15 421.35 L402.5 421.66 L401.86 422.09 L401.23 422.62 L400.63 423.24 L400.08 423.95 L399.59 424.71 L399.17 425.52 L398.83 426.34 L398.59 427.17 L398.43 427.98 L398.38 428.75 L398.43 429.46 L398.58 430.1 L398.83 430.65 L399.17 431.09 L399.59 431.42 L405.79 435.02 L406.28 435.22 L406.83 435.29 L407.43 435.24 L408.05 435.05 L408.7 434.74 L409.34 434.31 L409.97 433.78 L410.57 433.16 L411.12 432.45 L411.61 431.69 L412.03 430.88 L412.37 430.06 L412.61 429.23 L412.77 428.42 L412.82 427.65 L412.77 426.94 L412.62 426.3 L412.37 425.75 L412.03 425.31 L411.61 424.98Z" fill="#fff" stroke="#111" stroke-width="1.6"/>
<path d="M405.79 435.02 L406.28 435.22 L406.83 435.29 L407.43 435.24 L408.05 435.05 L408.7 434.74 L409.34 434.31 L409.97 433.78 L410.57 433.16 L411.12 432.45 L411.61 431.69 L412.03 430.88 L412.37 430.06 L412.61 429.23 L412.77 428.42 L412.82 427.65 L412.77 426.94 L412.62 426.3 L412.37 425.75 L412.03 425.31 L411.61 424.98 L411.12 424.78 L410.57 424.71 L409.97 424.76 L409.35 424.95 L408.7 425.26 L408.06 425.69 L407.43 426.22 L406.83 426.84 L406.28 427.55 L405.79 428.31 L405.37 429.12 L405.03 429.94 L404.79 430.77 L404.63 431.58 L404.58 432.35 L404.63 433.06 L404.78 433.7 L405.03 434.25 L405.37 434.69 L405.79 435.02Z" fill="#fff" stroke="#111" stroke-width="1.6"/>
<path d="M406.72 433.41 L407.43 433.6 L408.26 433.43 L409.14 432.93 L409.97 432.15 L410.68 431.15 L411.19 430.04 L411.46 428.92 L411.46 427.92 L411.19 427.11 L410.68 426.59 L409.97 426.4 L409.14 426.57 L408.26 427.07 L407.43 427.85 L406.72 428.85 L406.21 429.96 L405.94 431.08 L405.94 432.08 L406.21 432.89 L406.72 433.41Z" fill="none" stroke="#111" stroke-width="2.0"/>
<path d="M582.36 402.01 L581.87 401.8 L581.32 401.72 L580.72 401.78 L580.09 401.96 L579.44 402.26 L578.8 402.68 L578.16 403.21 L577.56 403.83 L577 404.53 L576.51 405.29 L576.08 406.09 L575.73 406.91 L575.48 407.74 L575.32 408.55 L575.26 409.32 L575.31 410.03 L575.45 410.67 L575.69 411.22 L576.03 411.66 L576.44 411.99 L581.84 415.19 L582.33 415.4 L582.88 415.48 L583.48 415.42 L584.11 415.24 L584.76 414.94 L585.4 414.52 L586.04 413.99 L586.64 413.37 L587.2 412.67 L587.69 411.91 L588.12 411.11 L588.47 410.29 L588.72 409.46 L588.88 408.65 L588.94 407.88 L588.89 407.17 L588.75 406.53 L588.51 405.98 L588.17 405.54 L587.76 405.21Z" fill="#fff" stroke="#111" stroke-width="1.6"/>
<path d="M581.84 415.19 L582.33 415.4 L582.88 415.48 L583.48 415.42 L584.11 415.24 L584.76 414.94 L585.4 414.52 L586.04 413.99 L586.64 413.37 L587.2 412.67 L587.69 411.91 L588.12 411.11 L588.47 410.29 L588.72 409.46 L588.88 408.65 L588.94 407.88 L588.89 407.17 L588.75 406.53 L588.51 405.98 L588.17 405.54 L587.76 405.21 L587.27 405 L586.72 404.92 L586.12 404.98 L585.49 405.16 L584.84 405.46 L584.2 405.88 L583.56 406.41 L582.96 407.03 L582.4 407.73 L581.91 408.49 L581.48 409.29 L581.13 410.11 L580.88 410.94 L580.72 411.75 L580.66 412.52 L580.71 413.23 L580.85 413.87 L581.09 414.42 L581.43 414.86 L581.84 415.19Z" fill="#fff" stroke="#111" stroke-width="1.6"/>
<path d="M582.79 413.59 L583.5 413.79 L584.33 413.63 L585.21 413.14 L586.05 412.36 L586.77 411.37 L587.29 410.26 L587.57 409.15 L587.58 408.14 L587.32 407.33 L586.81 406.81 L586.1 406.61 L585.27 406.77 L584.39 407.26 L583.55 408.04 L582.83 409.03 L582.31 410.14 L582.03 411.25 L582.02 412.26 L582.28 413.07 L582.79 413.59Z" fill="none" stroke="#111" stroke-width="2.0"/>
<ellipse cx="590" cy="302.5" rx="4.26" ry="7.6" fill="#fff" stroke="#111" stroke-width="2.6" transform="rotate(28 590 302.5)"/>
<ellipse cx="590.6" cy="302.8" rx="2.13" ry="3.8" fill="#fff" stroke="#111" stroke-width="1.2" transform="rotate(28 590.6 302.8)"/>
<path d="M599.37 302.46 L599.02 302.34 L598.64 302.3 L598.23 302.36 L597.8 302.5 L597.37 302.73 L596.94 303.04 L596.52 303.43 L596.12 303.88 L595.76 304.38 L595.45 304.92 L595.18 305.48 L594.97 306.06 L594.82 306.64 L594.74 307.2 L594.73 307.74 L594.78 308.23 L594.91 308.66 L595.09 309.03 L595.34 309.33 L595.63 309.54 L618.53 321.61 L618.87 321.73 L619.26 321.77 L619.67 321.71 L620.09 321.57 L620.53 321.34 L620.96 321.02 L621.38 320.64 L621.77 320.19 L622.13 319.69 L622.45 319.15 L622.72 318.58 L622.92 318.01 L623.07 317.43 L623.15 316.87 L623.17 316.33 L623.11 315.84 L622.99 315.41 L622.8 315.04 L622.56 314.74 L622.26 314.53Z" fill="#fff" stroke="#111" stroke-width="1.5"/>
<path d="M618.53 321.61 L618.87 321.73 L619.26 321.77 L619.67 321.71 L620.09 321.57 L620.53 321.34 L620.96 321.02 L621.38 320.64 L621.77 320.19 L622.13 319.69 L622.45 319.15 L622.72 318.58 L622.92 318.01 L623.07 317.43 L623.15 316.87 L623.17 316.33 L623.11 315.84 L622.99 315.41 L622.8 315.04 L622.56 314.74 L622.26 314.53 L621.92 314.41 L621.54 314.37 L621.13 314.43 L620.7 314.57 L620.26 314.8 L619.83 315.11 L619.41 315.5 L619.02 315.95 L618.66 316.45 L618.34 316.99 L618.08 317.55 L617.87 318.13 L617.72 318.71 L617.64 319.27 L617.63 319.81 L617.68 320.3 L617.8 320.73 L617.99 321.1 L618.23 321.4 L618.53 321.61Z" fill="#fff" stroke="#111" stroke-width="1.5"/>
<path d="M623.33 312.5 L622.79 312.3 L622.19 312.24 L621.55 312.33 L620.87 312.56 L620.19 312.92 L619.51 313.42 L618.85 314.02 L618.23 314.73 L617.66 315.52 L617.16 316.37 L616.74 317.26 L616.41 318.17 L616.18 319.08 L616.05 319.97 L616.03 320.81 L616.12 321.58 L616.31 322.26 L616.6 322.84 L616.99 323.31 L617.46 323.64 L625.86 328.07 L626.4 328.27 L627 328.33 L627.65 328.24 L628.32 328.01 L629.01 327.65 L629.69 327.15 L630.35 326.55 L630.97 325.84 L631.53 325.05 L632.03 324.2 L632.45 323.31 L632.78 322.4 L633.01 321.49 L633.14 320.6 L633.16 319.76 L633.08 318.99 L632.89 318.31 L632.59 317.73 L632.21 317.26 L631.74 316.93Z" fill="#fff" stroke="#111" stroke-width="1.6"/>
<path d="M625.86 328.07 L626.4 328.27 L627 328.33 L627.65 328.24 L628.32 328.01 L629.01 327.65 L629.69 327.15 L630.35 326.55 L630.97 325.84 L631.53 325.05 L632.03 324.2 L632.45 323.31 L632.78 322.4 L633.01 321.49 L633.14 320.6 L633.16 319.76 L633.08 318.99 L632.89 318.31 L632.59 317.73 L632.21 317.26 L631.74 316.93 L631.2 316.73 L630.6 316.67 L629.95 316.76 L629.28 316.99 L628.59 317.35 L627.91 317.85 L627.25 318.45 L626.63 319.16 L626.07 319.95 L625.57 320.8 L625.15 321.69 L624.82 322.6 L624.59 323.51 L624.46 324.4 L624.44 325.24 L624.52 326.01 L624.71 326.69 L625.01 327.27 L625.39 327.74 L625.86 328.07Z" fill="#fff" stroke="#111" stroke-width="1.6"/>
<path d="M626.51 326.85 L627.24 327.04 L628.08 326.93 L628.96 326.51 L629.84 325.82 L630.64 324.91 L631.32 323.83 L631.83 322.66 L632.13 321.48 L632.2 320.37 L632.05 319.4 L631.67 318.65 L631.09 318.15 L630.36 317.96 L629.52 318.07 L628.64 318.49 L627.76 319.18 L626.96 320.09 L626.28 321.17 L625.77 322.34 L625.47 323.52 L625.4 324.63 L625.55 325.6 L625.93 326.35 L626.51 326.85Z" fill="none" stroke="#111" stroke-width="0.8"/>
<path d="M628.32 325.45 L630.48 323.39 L630.96 320.43 L629.28 319.55 L627.12 321.61 L626.64 324.57Z" fill="#fff" stroke="#111" stroke-width="1.2"/>
<path d="M627.03 323.71 L627.64 323.74 L628.31 323.31 L628.89 322.54 L629.2 321.64 L629.16 320.84 L628.8 320.36 L628.19 320.33 L627.52 320.76 L626.95 321.52 L626.63 322.43 L626.67 323.23 L627.03 323.71Z" fill="none" stroke="#111" stroke-width="0.8"/>
<ellipse cx="668.8" cy="290" rx="4.26" ry="7.6" fill="#fff" stroke="#111" stroke-width="2.6" transform="rotate(28 668.8 290)"/>
<ellipse cx="669.4" cy="290.3" rx="2.13" ry="3.8" fill="#fff" stroke="#111" stroke-width="1.2" transform="rotate(28 669.4 290.3)"/>
<path d="M678.06 289.57 L677.72 289.43 L677.34 289.37 L676.93 289.4 L676.5 289.52 L676.05 289.73 L675.6 290.02 L675.16 290.38 L674.74 290.8 L674.36 291.28 L674.01 291.81 L673.71 292.36 L673.47 292.92 L673.29 293.49 L673.18 294.05 L673.14 294.58 L673.17 295.07 L673.26 295.51 L673.43 295.89 L673.66 296.2 L673.94 296.43 L695.8 309.54 L696.13 309.69 L696.51 309.74 L696.92 309.71 L697.36 309.59 L697.81 309.38 L698.25 309.09 L698.69 308.73 L699.11 308.31 L699.5 307.83 L699.84 307.31 L700.14 306.75 L700.38 306.19 L700.56 305.62 L700.67 305.06 L700.72 304.53 L700.69 304.04 L700.59 303.6 L700.43 303.22 L700.2 302.91 L699.91 302.68Z" fill="#fff" stroke="#111" stroke-width="1.5"/>
<path d="M695.8 309.54 L696.13 309.69 L696.51 309.74 L696.92 309.71 L697.36 309.59 L697.81 309.38 L698.25 309.09 L698.69 308.73 L699.11 308.31 L699.5 307.83 L699.84 307.31 L700.14 306.75 L700.38 306.19 L700.56 305.62 L700.67 305.06 L700.72 304.53 L700.69 304.04 L700.59 303.6 L700.43 303.22 L700.2 302.91 L699.91 302.68 L699.58 302.54 L699.2 302.48 L698.78 302.51 L698.35 302.64 L697.9 302.84 L697.45 303.13 L697.02 303.49 L696.6 303.92 L696.21 304.4 L695.86 304.92 L695.57 305.47 L695.33 306.04 L695.15 306.61 L695.03 307.16 L694.99 307.69 L695.02 308.19 L695.12 308.63 L695.28 309.01 L695.51 309.31 L695.8 309.54Z" fill="#fff" stroke="#111" stroke-width="1.5"/>
<path d="M701.1 300.71 L700.57 300.48 L699.97 300.39 L699.32 300.45 L698.63 300.64 L697.93 300.96 L697.22 301.42 L696.53 301.98 L695.88 302.65 L695.27 303.41 L694.72 304.23 L694.25 305.1 L693.87 305.99 L693.59 306.89 L693.41 307.77 L693.35 308.6 L693.39 309.38 L693.54 310.07 L693.8 310.67 L694.16 311.15 L694.61 311.51 L702.76 316.4 L703.29 316.63 L703.89 316.72 L704.53 316.67 L705.22 316.48 L705.92 316.15 L706.63 315.7 L707.32 315.13 L707.98 314.46 L708.59 313.7 L709.13 312.88 L709.6 312.01 L709.98 311.12 L710.26 310.22 L710.44 309.35 L710.51 308.51 L710.46 307.73 L710.31 307.04 L710.05 306.44 L709.69 305.96 L709.24 305.6Z" fill="#fff" stroke="#111" stroke-width="1.6"/>
<path d="M702.76 316.4 L703.29 316.63 L703.89 316.72 L704.53 316.67 L705.22 316.48 L705.92 316.15 L706.63 315.7 L707.32 315.13 L707.98 314.46 L708.59 313.7 L709.13 312.88 L709.6 312.01 L709.98 311.12 L710.26 310.22 L710.44 309.35 L710.51 308.51 L710.46 307.73 L710.31 307.04 L710.05 306.44 L709.69 305.96 L709.24 305.6 L708.71 305.37 L708.11 305.28 L707.47 305.33 L706.78 305.52 L706.08 305.85 L705.37 306.3 L704.68 306.87 L704.02 307.54 L703.41 308.3 L702.87 309.12 L702.4 309.99 L702.02 310.88 L701.74 311.78 L701.56 312.65 L701.49 313.49 L701.54 314.27 L701.69 314.96 L701.95 315.56 L702.31 316.04 L702.76 316.4Z" fill="#fff" stroke="#111" stroke-width="1.6"/>
<path d="M703.47 315.21 L704.19 315.45 L705.03 315.38 L705.94 315.02 L706.85 314.38 L707.71 313.51 L708.44 312.47 L709.02 311.33 L709.38 310.16 L709.52 309.06 L709.41 308.08 L709.07 307.31 L708.53 306.79 L707.81 306.55 L706.97 306.62 L706.06 306.98 L705.15 307.62 L704.29 308.49 L703.56 309.53 L702.98 310.67 L702.62 311.84 L702.48 312.94 L702.59 313.92 L702.93 314.69 L703.47 315.21Z" fill="none" stroke="#111" stroke-width="0.8"/>
<path d="M705.35 313.92 L707.63 311.98 L708.27 309.06 L706.65 308.08 L704.37 310.02 L703.73 312.94Z" fill="#fff" stroke="#111" stroke-width="1.2"/>
<path d="M704.17 312.11 L704.77 312.17 L705.47 311.78 L706.08 311.05 L706.44 310.16 L706.45 309.36 L706.11 308.86 L705.51 308.8 L704.81 309.19 L704.2 309.92 L703.84 310.81 L703.83 311.61 L704.17 312.11Z" fill="none" stroke="#111" stroke-width="0.8"/>
<ellipse cx="704.5" cy="425" rx="4.26" ry="7.6" fill="#fff" stroke="#111" stroke-width="2.6" transform="rotate(28 704.5 425)"/>
<ellipse cx="705.1" cy="425.3" rx="2.13" ry="3.8" fill="#fff" stroke="#111" stroke-width="1.2" transform="rotate(28 705.1 425.3)"/>
<path d="M723.2 431.48 L722.86 431.35 L722.48 431.31 L722.07 431.36 L721.64 431.5 L721.2 431.73 L720.77 432.04 L720.35 432.42 L719.95 432.86 L719.58 433.36 L719.26 433.9 L718.99 434.46 L718.77 435.04 L718.62 435.61 L718.53 436.17 L718.51 436.71 L718.56 437.2 L718.68 437.63 L718.86 438 L719.1 438.3 L719.4 438.52 L753.54 457 L753.88 457.13 L754.26 457.17 L754.68 457.11 L755.1 456.97 L755.54 456.75 L755.98 456.44 L756.4 456.06 L756.8 455.62 L757.16 455.12 L757.49 454.58 L757.76 454.02 L757.97 453.44 L758.13 452.87 L758.21 452.3 L758.23 451.77 L758.18 451.28 L758.07 450.85 L757.89 450.47 L757.64 450.18 L757.35 449.96Z" fill="#fff" stroke="#111" stroke-width="1.5"/>
<path d="M753.54 457 L753.88 457.13 L754.26 457.17 L754.68 457.11 L755.1 456.97 L755.54 456.75 L755.98 456.44 L756.4 456.06 L756.8 455.62 L757.16 455.12 L757.49 454.58 L757.76 454.02 L757.97 453.44 L758.13 452.87 L758.21 452.3 L758.23 451.77 L758.18 451.28 L758.07 450.85 L757.89 450.47 L757.64 450.18 L757.35 449.96 L757.01 449.83 L756.63 449.79 L756.21 449.84 L755.79 449.98 L755.35 450.21 L754.91 450.52 L754.49 450.9 L754.09 451.34 L753.73 451.84 L753.4 452.37 L753.13 452.94 L752.92 453.52 L752.76 454.09 L752.68 454.65 L752.66 455.19 L752.71 455.68 L752.82 456.11 L753 456.48 L753.25 456.78 L753.54 457Z" fill="#fff" stroke="#111" stroke-width="1.5"/>
<path d="M758.44 447.94 L757.9 447.73 L757.3 447.67 L756.66 447.75 L755.98 447.97 L755.29 448.33 L754.61 448.81 L753.94 449.41 L753.32 450.11 L752.74 450.89 L752.23 451.74 L751.8 452.63 L751.46 453.54 L751.22 454.44 L751.08 455.33 L751.05 456.17 L751.13 456.94 L751.31 457.63 L751.6 458.21 L751.98 458.68 L752.45 459.02 L760.8 463.54 L761.34 463.74 L761.94 463.81 L762.59 463.73 L763.26 463.5 L763.95 463.15 L764.64 462.66 L765.3 462.06 L765.93 461.37 L766.5 460.58 L767.01 459.74 L767.44 458.85 L767.78 457.94 L768.02 457.03 L768.16 456.15 L768.19 455.31 L768.11 454.54 L767.93 453.85 L767.64 453.27 L767.26 452.8 L766.8 452.46Z" fill="#fff" stroke="#111" stroke-width="1.6"/>
<path d="M760.8 463.54 L761.34 463.74 L761.94 463.81 L762.59 463.73 L763.26 463.5 L763.95 463.15 L764.64 462.66 L765.3 462.06 L765.93 461.37 L766.5 460.58 L767.01 459.74 L767.44 458.85 L767.78 457.94 L768.02 457.03 L768.16 456.15 L768.19 455.31 L768.11 454.54 L767.93 453.85 L767.64 453.27 L767.26 452.8 L766.8 452.46 L766.26 452.26 L765.66 452.19 L765.01 452.27 L764.34 452.5 L763.65 452.85 L762.96 453.34 L762.3 453.94 L761.67 454.63 L761.1 455.42 L760.59 456.26 L760.16 457.15 L759.82 458.06 L759.58 458.97 L759.44 459.85 L759.41 460.69 L759.49 461.46 L759.67 462.15 L759.96 462.73 L760.34 463.2 L760.8 463.54Z" fill="#fff" stroke="#111" stroke-width="1.6"/>
<path d="M761.46 462.32 L762.19 462.53 L763.03 462.42 L763.92 462.02 L764.8 461.34 L765.62 460.43 L766.31 459.36 L766.83 458.19 L767.14 457.01 L767.23 455.9 L767.08 454.94 L766.71 454.18 L766.14 453.68 L765.41 453.47 L764.57 453.58 L763.68 453.98 L762.8 454.66 L761.98 455.57 L761.29 456.64 L760.77 457.81 L760.46 458.99 L760.37 460.1 L760.52 461.06 L760.89 461.82 L761.46 462.32Z" fill="none" stroke="#111" stroke-width="0.8"/>
<path d="M763.29 460.95 L765.47 458.9 L765.99 455.96 L764.31 455.05 L762.13 457.1 L761.61 460.04Z" fill="#fff" stroke="#111" stroke-width="1.2"/>
<path d="M762.02 459.19 L762.62 459.22 L763.31 458.81 L763.88 458.05 L764.21 457.14 L764.18 456.35 L763.82 455.86 L763.22 455.82 L762.54 456.24 L761.96 457 L761.64 457.9 L761.66 458.7 L762.02 459.19Z" fill="none" stroke="#111" stroke-width="0.8"/>
<ellipse cx="652" cy="497.3" rx="4.26" ry="7.6" fill="#fff" stroke="#111" stroke-width="2.6" transform="rotate(28 652 497.3)"/>
<ellipse cx="652.6" cy="497.6" rx="2.13" ry="3.8" fill="#fff" stroke="#111" stroke-width="1.2" transform="rotate(28 652.6 497.6)"/>
<path d="M670.75 503.51 L670.41 503.38 L670.03 503.33 L669.62 503.38 L669.19 503.51 L668.75 503.73 L668.31 504.03 L667.88 504.41 L667.48 504.84 L667.11 505.33 L666.78 505.87 L666.49 506.43 L666.27 507 L666.11 507.57 L666.01 508.13 L665.99 508.67 L666.03 509.16 L666.14 509.6 L666.32 509.97 L666.55 510.27 L666.85 510.49 L701.06 529.65 L701.4 529.78 L701.78 529.83 L702.19 529.78 L702.62 529.65 L703.06 529.43 L703.5 529.13 L703.93 528.75 L704.33 528.31 L704.7 527.82 L705.04 527.29 L705.32 526.73 L705.54 526.16 L705.7 525.58 L705.8 525.02 L705.82 524.49 L705.78 524 L705.67 523.56 L705.5 523.19 L705.26 522.89 L704.97 522.67Z" fill="#fff" stroke="#111" stroke-width="1.5"/>
<path d="M701.06 529.65 L701.4 529.78 L701.78 529.83 L702.19 529.78 L702.62 529.65 L703.06 529.43 L703.5 529.13 L703.93 528.75 L704.33 528.31 L704.7 527.82 L705.04 527.29 L705.32 526.73 L705.54 526.16 L705.7 525.58 L705.8 525.02 L705.82 524.49 L705.78 524 L705.67 523.56 L705.5 523.19 L705.26 522.89 L704.97 522.67 L704.62 522.53 L704.24 522.49 L703.83 522.53 L703.4 522.67 L702.96 522.89 L702.52 523.19 L702.09 523.56 L701.69 524 L701.32 524.49 L700.99 525.02 L700.71 525.58 L700.48 526.16 L700.32 526.73 L700.22 527.29 L700.2 527.82 L700.24 528.32 L700.35 528.75 L700.53 529.13 L700.76 529.43 L701.06 529.65Z" fill="#fff" stroke="#111" stroke-width="1.5"/>
<path d="M706.09 520.66 L705.55 520.45 L704.95 520.38 L704.31 520.45 L703.63 520.66 L702.93 521.01 L702.24 521.48 L701.57 522.07 L700.93 522.76 L700.34 523.54 L699.82 524.37 L699.38 525.25 L699.03 526.16 L698.77 527.06 L698.62 527.94 L698.58 528.78 L698.65 529.56 L698.82 530.25 L699.1 530.83 L699.47 531.31 L699.93 531.66 L708.22 536.3 L708.76 536.51 L709.36 536.58 L710 536.51 L710.68 536.3 L711.38 535.95 L712.07 535.48 L712.74 534.89 L713.38 534.2 L713.97 533.42 L714.49 532.59 L714.93 531.7 L715.28 530.8 L715.54 529.9 L715.69 529.01 L715.73 528.18 L715.66 527.4 L715.49 526.71 L715.21 526.12 L714.84 525.65 L714.38 525.3Z" fill="#fff" stroke="#111" stroke-width="1.6"/>
<path d="M708.22 536.3 L708.76 536.51 L709.36 536.58 L710 536.51 L710.68 536.3 L711.38 535.95 L712.07 535.48 L712.74 534.89 L713.38 534.2 L713.97 533.42 L714.49 532.59 L714.93 531.7 L715.28 530.8 L715.54 529.9 L715.69 529.01 L715.73 528.18 L715.66 527.4 L715.49 526.71 L715.21 526.12 L714.84 525.65 L714.38 525.3 L713.84 525.09 L713.24 525.02 L712.6 525.09 L711.92 525.3 L711.22 525.65 L710.53 526.12 L709.86 526.71 L709.22 527.4 L708.63 528.18 L708.11 529.01 L707.67 529.9 L707.32 530.8 L707.06 531.7 L706.91 532.59 L706.87 533.42 L706.94 534.2 L707.11 534.89 L707.39 535.48 L707.76 535.95 L708.22 536.3Z" fill="#fff" stroke="#111" stroke-width="1.6"/>
<path d="M708.9 535.09 L709.62 535.3 L710.46 535.21 L711.36 534.82 L712.25 534.15 L713.08 533.25 L713.79 532.19 L714.32 531.04 L714.65 529.86 L714.76 528.75 L714.62 527.78 L714.26 527.02 L713.7 526.51 L712.98 526.3 L712.14 526.39 L711.24 526.78 L710.35 527.45 L709.52 528.35 L708.81 529.41 L708.28 530.56 L707.95 531.74 L707.84 532.85 L707.98 533.82 L708.34 534.58 L708.9 535.09Z" fill="none" stroke="#111" stroke-width="0.8"/>
<path d="M710.74 533.74 L712.96 531.73 L713.52 528.79 L711.86 527.86 L709.64 529.87 L709.08 532.81Z" fill="#fff" stroke="#111" stroke-width="1.2"/>
<path d="M709.5 531.96 L710.11 532.01 L710.79 531.6 L711.38 530.85 L711.72 529.95 L711.71 529.15 L711.35 528.66 L710.75 528.62 L710.06 529.02 L709.47 529.78 L709.14 530.67 L709.15 531.47 L709.5 531.96Z" fill="none" stroke="#111" stroke-width="0.8"/>
<ellipse cx="757" cy="508.8" rx="4.59" ry="8.2" fill="#fff" stroke="#111" stroke-width="2.6" transform="rotate(28 757 508.8)"/>
<ellipse cx="757.6" cy="509.1" rx="2.3" ry="4.1" fill="#fff" stroke="#111" stroke-width="1.2" transform="rotate(28 757.6 509.1)"/>
<path d="M764.42 508.99 L764.08 508.86 L763.7 508.82 L763.29 508.87 L762.86 509.01 L762.42 509.23 L761.99 509.54 L761.56 509.91 L761.16 510.36 L760.79 510.85 L760.47 511.38 L760.19 511.95 L759.97 512.52 L759.81 513.1 L759.72 513.66 L759.7 514.19 L759.75 514.68 L759.86 515.12 L760.04 515.49 L760.28 515.79 L760.58 516.01 L804.75 540.24 L805.09 540.37 L805.47 540.41 L805.88 540.36 L806.31 540.22 L806.75 540 L807.19 539.69 L807.61 539.32 L808.01 538.88 L808.38 538.38 L808.7 537.85 L808.98 537.28 L809.2 536.71 L809.36 536.13 L809.45 535.57 L809.47 535.04 L809.42 534.55 L809.31 534.11 L809.13 533.74 L808.89 533.44 L808.59 533.22Z" fill="#fff" stroke="#111" stroke-width="1.5"/>
<path d="M804.75 540.24 L805.09 540.37 L805.47 540.41 L805.88 540.36 L806.31 540.22 L806.75 540 L807.19 539.69 L807.61 539.32 L808.01 538.88 L808.38 538.38 L808.7 537.85 L808.98 537.28 L809.2 536.71 L809.36 536.13 L809.45 535.57 L809.47 535.04 L809.42 534.55 L809.31 534.11 L809.13 533.74 L808.89 533.44 L808.59 533.22 L808.25 533.09 L807.87 533.05 L807.46 533.1 L807.03 533.24 L806.59 533.46 L806.16 533.77 L805.73 534.14 L805.33 534.59 L804.96 535.08 L804.64 535.62 L804.36 536.18 L804.14 536.75 L803.99 537.33 L803.89 537.89 L803.87 538.42 L803.92 538.91 L804.03 539.35 L804.21 539.72 L804.45 540.02 L804.75 540.24Z" fill="#fff" stroke="#111" stroke-width="1.5"/>
<path d="M809.7 531.21 L809.16 531 L808.56 530.93 L807.92 531.01 L807.24 531.23 L806.55 531.58 L805.86 532.06 L805.19 532.66 L804.56 533.35 L803.98 534.13 L803.47 534.97 L803.03 535.86 L802.69 536.77 L802.44 537.67 L802.3 538.56 L802.26 539.39 L802.34 540.17 L802.52 540.85 L802.8 541.44 L803.18 541.91 L803.64 542.25 L811.97 546.82 L812.51 547.03 L813.11 547.1 L813.75 547.02 L814.43 546.8 L815.12 546.45 L815.81 545.97 L816.48 545.37 L817.11 544.68 L817.69 543.9 L818.2 543.06 L818.64 542.17 L818.98 541.26 L819.23 540.36 L819.37 539.48 L819.41 538.64 L819.33 537.86 L819.15 537.18 L818.87 536.59 L818.49 536.12 L818.03 535.78Z" fill="#fff" stroke="#111" stroke-width="1.6"/>
<path d="M811.97 546.82 L812.51 547.03 L813.11 547.1 L813.75 547.02 L814.43 546.8 L815.12 546.45 L815.81 545.97 L816.48 545.37 L817.11 544.68 L817.69 543.9 L818.2 543.06 L818.64 542.17 L818.98 541.26 L819.23 540.36 L819.37 539.48 L819.41 538.64 L819.33 537.86 L819.15 537.18 L818.87 536.59 L818.49 536.12 L818.03 535.78 L817.49 535.57 L816.89 535.5 L816.25 535.58 L815.57 535.8 L814.88 536.15 L814.19 536.63 L813.52 537.23 L812.89 537.92 L812.31 538.7 L811.8 539.54 L811.36 540.43 L811.02 541.34 L810.77 542.24 L810.63 543.12 L810.59 543.96 L810.67 544.74 L810.85 545.42 L811.13 546.01 L811.51 546.48 L811.97 546.82Z" fill="#fff" stroke="#111" stroke-width="1.6"/>
<path d="M812.64 545.61 L813.36 545.82 L814.2 545.72 L815.1 545.32 L815.98 544.64 L816.8 543.74 L817.5 542.67 L818.03 541.51 L818.35 540.33 L818.44 539.22 L818.3 538.25 L817.93 537.49 L817.36 536.99 L816.64 536.78 L815.8 536.88 L814.9 537.28 L814.02 537.96 L813.2 538.86 L812.5 539.93 L811.97 541.09 L811.65 542.27 L811.56 543.38 L811.7 544.35 L812.07 545.11 L812.64 545.61Z" fill="none" stroke="#111" stroke-width="0.8"/>
<path d="M814.47 544.24 L816.67 542.21 L817.2 539.27 L815.53 538.36 L813.33 540.39 L812.8 543.33Z" fill="#fff" stroke="#111" stroke-width="1.2"/>
<path d="M813.21 542.48 L813.82 542.52 L814.5 542.1 L815.08 541.35 L815.41 540.45 L815.39 539.65 L815.03 539.16 L814.43 539.12 L813.75 539.53 L813.16 540.29 L812.84 541.19 L812.86 541.99 L813.21 542.48Z" fill="none" stroke="#111" stroke-width="0.8"/>
<ellipse cx="580.5" cy="528.8" rx="4.59" ry="8.2" fill="#fff" stroke="#111" stroke-width="2.6" transform="rotate(28 580.5 528.8)"/>
<ellipse cx="581.1" cy="529.1" rx="2.3" ry="4.1" fill="#fff" stroke="#111" stroke-width="1.2" transform="rotate(28 581.1 529.1)"/>
<path d="M588.31 527.84 L587.97 527.7 L587.59 527.65 L587.18 527.69 L586.74 527.82 L586.3 528.03 L585.86 528.32 L585.42 528.69 L585.01 529.12 L584.63 529.61 L584.29 530.14 L584 530.69 L583.77 531.26 L583.6 531.83 L583.5 532.39 L583.46 532.92 L583.5 533.41 L583.6 533.85 L583.77 534.23 L584 534.53 L584.29 534.76 L627.78 559.99 L628.11 560.13 L628.49 560.18 L628.91 560.14 L629.34 560.02 L629.78 559.8 L630.23 559.51 L630.66 559.14 L631.07 558.71 L631.45 558.22 L631.79 557.7 L632.08 557.14 L632.31 556.57 L632.48 556 L632.59 555.44 L632.62 554.91 L632.59 554.42 L632.48 553.98 L632.31 553.6 L632.08 553.3 L631.79 553.07Z" fill="#fff" stroke="#111" stroke-width="1.5"/>
<path d="M627.78 559.99 L628.11 560.13 L628.49 560.18 L628.91 560.14 L629.34 560.02 L629.78 559.8 L630.23 559.51 L630.66 559.14 L631.07 558.71 L631.45 558.22 L631.79 557.7 L632.08 557.14 L632.31 556.57 L632.48 556 L632.59 555.44 L632.62 554.91 L632.59 554.42 L632.48 553.98 L632.31 553.6 L632.08 553.3 L631.79 553.07 L631.45 552.93 L631.07 552.88 L630.66 552.92 L630.23 553.05 L629.78 553.26 L629.34 553.56 L628.91 553.92 L628.5 554.36 L628.12 554.84 L627.78 555.37 L627.49 555.92 L627.25 556.49 L627.08 557.07 L626.98 557.62 L626.94 558.16 L626.98 558.65 L627.08 559.09 L627.25 559.46 L627.49 559.77 L627.78 559.99Z" fill="#fff" stroke="#111" stroke-width="1.5"/>
<path d="M632.95 551.08 L632.41 550.86 L631.81 550.78 L631.17 550.84 L630.48 551.05 L629.78 551.38 L629.08 551.85 L628.4 552.42 L627.75 553.1 L627.16 553.87 L626.62 554.7 L626.17 555.57 L625.8 556.47 L625.53 557.37 L625.37 558.25 L625.31 559.09 L625.37 559.86 L625.53 560.55 L625.8 561.15 L626.17 561.63 L626.62 561.98 L634.84 566.75 L635.37 566.97 L635.97 567.05 L636.62 566.99 L637.3 566.79 L638 566.45 L638.7 565.99 L639.38 565.41 L640.03 564.73 L640.63 563.96 L641.16 563.13 L641.62 562.26 L641.98 561.36 L642.25 560.46 L642.42 559.58 L642.47 558.74 L642.42 557.97 L642.25 557.28 L641.98 556.68 L641.62 556.2 L641.16 555.85Z" fill="#fff" stroke="#111" stroke-width="1.6"/>
<path d="M634.84 566.75 L635.37 566.97 L635.97 567.05 L636.62 566.99 L637.3 566.79 L638 566.45 L638.7 565.99 L639.38 565.41 L640.03 564.73 L640.63 563.96 L641.16 563.13 L641.62 562.26 L641.98 561.36 L642.25 560.46 L642.42 559.58 L642.47 558.74 L642.42 557.97 L642.25 557.28 L641.98 556.68 L641.62 556.2 L641.16 555.85 L640.63 555.63 L640.03 555.55 L639.38 555.61 L638.7 555.81 L638 556.15 L637.3 556.61 L636.62 557.19 L635.97 557.87 L635.37 558.64 L634.84 559.47 L634.38 560.34 L634.02 561.24 L633.75 562.14 L633.58 563.02 L633.53 563.86 L633.58 564.63 L633.75 565.32 L634.02 565.92 L634.38 566.4 L634.84 566.75Z" fill="#fff" stroke="#111" stroke-width="1.6"/>
<path d="M635.53 565.55 L636.26 565.78 L637.1 565.7 L638 565.32 L638.9 564.66 L639.74 563.78 L640.47 562.73 L641.02 561.58 L641.37 560.41 L641.49 559.31 L641.37 558.33 L641.02 557.56 L640.47 557.05 L639.74 556.82 L638.9 556.9 L638 557.28 L637.1 557.94 L636.26 558.82 L635.53 559.87 L634.98 561.02 L634.63 562.19 L634.51 563.29 L634.63 564.27 L634.98 565.04 L635.53 565.55Z" fill="none" stroke="#111" stroke-width="0.8"/>
<path d="M637.4 564.23 L639.64 562.25 L640.25 559.32 L638.6 558.37 L636.36 560.35 L635.75 563.28Z" fill="#fff" stroke="#111" stroke-width="1.2"/>
<path d="M636.19 562.43 L636.79 562.49 L637.48 562.09 L638.08 561.35 L638.43 560.46 L638.43 559.66 L638.08 559.16 L637.48 559.11 L636.79 559.5 L636.19 560.25 L635.84 561.14 L635.84 561.94 L636.19 562.43Z" fill="none" stroke="#111" stroke-width="0.8"/>
<ellipse cx="715.8" cy="545.3" rx="3.58" ry="6.4" fill="#fff" stroke="#111" stroke-width="2.6" transform="rotate(28 715.8 545.3)"/>
<ellipse cx="716.4" cy="545.6" rx="1.79" ry="3.2" fill="#fff" stroke="#111" stroke-width="1.2" transform="rotate(28 716.4 545.6)"/>
<path d="M724.83 547.19 L724.56 547.09 L724.25 547.05 L723.92 547.09 L723.58 547.2 L723.23 547.39 L722.88 547.63 L722.54 547.93 L722.22 548.29 L721.93 548.68 L721.67 549.11 L721.45 549.56 L721.28 550.02 L721.15 550.48 L721.08 550.93 L721.06 551.36 L721.1 551.75 L721.2 552.1 L721.34 552.4 L721.53 552.64 L721.77 552.81 L751.44 568.98 L751.72 569.09 L752.02 569.12 L752.35 569.08 L752.69 568.97 L753.04 568.79 L753.39 568.54 L753.73 568.24 L754.05 567.88 L754.35 567.49 L754.61 567.06 L754.82 566.61 L755 566.15 L755.12 565.69 L755.19 565.24 L755.21 564.81 L755.17 564.42 L755.08 564.07 L754.94 563.77 L754.74 563.54 L754.51 563.36Z" fill="#fff" stroke="#111" stroke-width="1.5"/>
<path d="M751.44 568.98 L751.72 569.09 L752.02 569.12 L752.35 569.08 L752.69 568.97 L753.04 568.79 L753.39 568.54 L753.73 568.24 L754.05 567.88 L754.35 567.49 L754.61 567.06 L754.82 566.61 L755 566.15 L755.12 565.69 L755.19 565.24 L755.21 564.81 L755.17 564.42 L755.08 564.07 L754.94 563.77 L754.74 563.54 L754.51 563.36 L754.23 563.26 L753.93 563.23 L753.6 563.27 L753.26 563.38 L752.91 563.56 L752.56 563.8 L752.22 564.1 L751.9 564.46 L751.61 564.86 L751.35 565.28 L751.13 565.73 L750.95 566.2 L750.83 566.66 L750.76 567.1 L750.74 567.53 L750.78 567.92 L750.87 568.27 L751.02 568.57 L751.21 568.81 L751.44 568.98Z" fill="#fff" stroke="#111" stroke-width="1.5"/>
<path d="M755.46 561.61 L755.02 561.44 L754.52 561.38 L753.99 561.45 L753.43 561.63 L752.86 561.92 L752.3 562.32 L751.75 562.81 L751.23 563.39 L750.75 564.03 L750.33 564.73 L749.97 565.46 L749.69 566.21 L749.49 566.96 L749.37 567.69 L749.34 568.38 L749.41 569.02 L749.56 569.59 L749.79 570.07 L750.1 570.46 L750.49 570.74 L757.51 574.57 L757.96 574.74 L758.45 574.79 L758.99 574.72 L759.54 574.54 L760.11 574.25 L760.68 573.85 L761.23 573.36 L761.75 572.78 L762.23 572.14 L762.65 571.44 L763 570.71 L763.29 569.96 L763.49 569.21 L763.61 568.48 L763.63 567.79 L763.57 567.15 L763.42 566.59 L763.18 566.1 L762.87 565.72 L762.49 565.43Z" fill="#fff" stroke="#111" stroke-width="1.6"/>
<path d="M757.51 574.57 L757.96 574.74 L758.45 574.79 L758.99 574.72 L759.54 574.54 L760.11 574.25 L760.68 573.85 L761.23 573.36 L761.75 572.78 L762.23 572.14 L762.65 571.44 L763 570.71 L763.29 569.96 L763.49 569.21 L763.61 568.48 L763.63 567.79 L763.57 567.15 L763.42 566.59 L763.18 566.1 L762.87 565.72 L762.49 565.43 L762.04 565.26 L761.55 565.21 L761.01 565.28 L760.46 565.46 L759.89 565.75 L759.32 566.15 L758.77 566.64 L758.25 567.22 L757.77 567.86 L757.35 568.56 L757 569.29 L756.71 570.04 L756.51 570.79 L756.39 571.52 L756.37 572.21 L756.43 572.85 L756.58 573.41 L756.82 573.9 L757.13 574.28 L757.51 574.57Z" fill="#fff" stroke="#111" stroke-width="1.6"/>
<path d="M758.06 573.56 L758.66 573.73 L759.35 573.65 L760.09 573.31 L760.82 572.76 L761.49 572.01 L762.07 571.13 L762.5 570.17 L762.76 569.19 L762.83 568.28 L762.71 567.48 L762.41 566.85 L761.94 566.44 L761.34 566.27 L760.65 566.35 L759.91 566.69 L759.18 567.24 L758.51 567.99 L757.93 568.87 L757.5 569.83 L757.24 570.81 L757.17 571.72 L757.29 572.52 L757.59 573.15 L758.06 573.56Z" fill="none" stroke="#111" stroke-width="0.8"/>
<path d="M759.57 572.43 L761.38 570.75 L761.81 568.32 L760.43 567.57 L758.62 569.25 L758.19 571.68Z" fill="#fff" stroke="#111" stroke-width="1.2"/>
<path d="M758.38 570.89 L758.87 570.92 L759.44 570.58 L759.92 569.95 L760.18 569.21 L760.17 568.55 L759.87 568.15 L759.37 568.12 L758.81 568.46 L758.33 569.09 L758.06 569.83 L758.08 570.49 L758.38 570.89Z" fill="none" stroke="#111" stroke-width="0.8"/>
<ellipse cx="590" cy="597.5" rx="3.58" ry="6.4" fill="#fff" stroke="#111" stroke-width="2.6" transform="rotate(28 590 597.5)"/>
<ellipse cx="590.6" cy="597.8" rx="1.79" ry="3.2" fill="#fff" stroke="#111" stroke-width="1.2" transform="rotate(28 590.6 597.8)"/>
<path d="M599.09 599.72 L598.82 599.61 L598.51 599.57 L598.18 599.61 L597.84 599.71 L597.48 599.88 L597.13 600.12 L596.78 600.42 L596.46 600.77 L596.16 601.16 L595.89 601.58 L595.66 602.03 L595.48 602.48 L595.34 602.94 L595.26 603.39 L595.24 603.81 L595.27 604.21 L595.35 604.56 L595.49 604.86 L595.68 605.1 L595.91 605.28 L623.97 621.31 L624.24 621.42 L624.54 621.46 L624.87 621.42 L625.22 621.32 L625.57 621.15 L625.92 620.91 L626.27 620.61 L626.6 620.27 L626.9 619.88 L627.17 619.45 L627.39 619.01 L627.58 618.55 L627.71 618.09 L627.79 617.64 L627.82 617.22 L627.79 616.82 L627.7 616.47 L627.56 616.17 L627.37 615.93 L627.14 615.75Z" fill="#fff" stroke="#111" stroke-width="1.5"/>
<path d="M623.97 621.31 L624.24 621.42 L624.54 621.46 L624.87 621.42 L625.22 621.32 L625.57 621.15 L625.92 620.91 L626.27 620.61 L626.6 620.27 L626.9 619.88 L627.17 619.45 L627.39 619.01 L627.58 618.55 L627.71 618.09 L627.79 617.64 L627.82 617.22 L627.79 616.82 L627.7 616.47 L627.56 616.17 L627.37 615.93 L627.14 615.75 L626.87 615.64 L626.57 615.6 L626.24 615.64 L625.89 615.74 L625.54 615.92 L625.18 616.15 L624.84 616.45 L624.51 616.8 L624.21 617.19 L623.94 617.61 L623.71 618.06 L623.53 618.51 L623.4 618.97 L623.32 619.42 L623.29 619.84 L623.32 620.24 L623.41 620.59 L623.55 620.89 L623.73 621.13 L623.97 621.31Z" fill="#fff" stroke="#111" stroke-width="1.5"/>
<path d="M628.13 614.02 L627.69 613.84 L627.2 613.77 L626.66 613.83 L626.1 614 L625.53 614.28 L624.95 614.67 L624.39 615.15 L623.86 615.71 L623.37 616.35 L622.94 617.03 L622.56 617.76 L622.27 618.5 L622.05 619.25 L621.92 619.97 L621.88 620.67 L621.93 621.3 L622.07 621.87 L622.29 622.36 L622.6 622.76 L622.97 623.05 L629.92 627.01 L630.36 627.19 L630.86 627.26 L631.39 627.2 L631.95 627.03 L632.53 626.75 L633.1 626.36 L633.66 625.88 L634.19 625.32 L634.68 624.68 L635.12 624 L635.49 623.27 L635.79 622.53 L636 621.78 L636.13 621.06 L636.18 620.37 L636.13 619.73 L635.99 619.16 L635.76 618.67 L635.46 618.27 L635.08 617.99Z" fill="#fff" stroke="#111" stroke-width="1.6"/>
<path d="M629.92 627.01 L630.36 627.19 L630.86 627.26 L631.39 627.2 L631.95 627.03 L632.53 626.75 L633.1 626.36 L633.66 625.88 L634.19 625.32 L634.68 624.68 L635.12 624 L635.49 623.27 L635.79 622.53 L636 621.78 L636.13 621.06 L636.18 620.37 L636.13 619.73 L635.99 619.16 L635.76 618.67 L635.46 618.27 L635.08 617.99 L634.64 617.81 L634.14 617.74 L633.61 617.8 L633.05 617.97 L632.47 618.25 L631.9 618.64 L631.34 619.12 L630.81 619.68 L630.32 620.32 L629.88 621 L629.51 621.73 L629.21 622.47 L629 623.22 L628.87 623.94 L628.82 624.63 L628.87 625.27 L629.01 625.84 L629.24 626.33 L629.54 626.73 L629.92 627.01Z" fill="#fff" stroke="#111" stroke-width="1.6"/>
<path d="M630.49 626.02 L631.08 626.2 L631.78 626.13 L632.52 625.82 L633.26 625.27 L633.95 624.54 L634.54 623.67 L634.99 622.72 L635.28 621.75 L635.37 620.84 L635.26 620.03 L634.97 619.4 L634.51 618.98 L633.92 618.8 L633.22 618.87 L632.48 619.18 L631.74 619.73 L631.05 620.46 L630.46 621.33 L630.01 622.28 L629.72 623.25 L629.63 624.16 L629.74 624.97 L630.03 625.6 L630.49 626.02Z" fill="none" stroke="#111" stroke-width="0.8"/>
<path d="M632.02 624.92 L633.86 623.28 L634.34 620.86 L632.98 620.08 L631.14 621.72 L630.66 624.14Z" fill="#fff" stroke="#111" stroke-width="1.2"/>
<path d="M630.86 623.36 L631.35 623.4 L631.93 623.07 L632.42 622.45 L632.7 621.72 L632.69 621.06 L632.41 620.65 L631.91 620.61 L631.34 620.94 L630.85 621.55 L630.56 622.29 L630.57 622.95 L630.86 623.36Z" fill="none" stroke="#111" stroke-width="0.8"/>
<ellipse cx="642" cy="602.5" rx="3.58" ry="6.4" fill="#fff" stroke="#111" stroke-width="2.6" transform="rotate(28 642 602.5)"/>
<ellipse cx="642.6" cy="602.8" rx="1.79" ry="3.2" fill="#fff" stroke="#111" stroke-width="1.2" transform="rotate(28 642.6 602.8)"/>
<path d="M650.31 604.18 L650.03 604.07 L649.73 604.04 L649.4 604.09 L649.06 604.2 L648.71 604.39 L648.36 604.63 L648.02 604.94 L647.71 605.3 L647.42 605.7 L647.16 606.13 L646.95 606.58 L646.78 607.04 L646.66 607.5 L646.59 607.95 L646.58 608.38 L646.62 608.77 L646.72 609.12 L646.86 609.42 L647.06 609.65 L647.29 609.82 L676.44 625.36 L676.71 625.46 L677.01 625.49 L677.34 625.45 L677.69 625.33 L678.03 625.15 L678.38 624.9 L678.72 624.6 L679.03 624.24 L679.32 623.84 L679.58 623.41 L679.79 622.96 L679.96 622.49 L680.08 622.03 L680.15 621.58 L680.16 621.16 L680.12 620.77 L680.03 620.42 L679.88 620.12 L679.68 619.88 L679.45 619.71Z" fill="#fff" stroke="#111" stroke-width="1.5"/>
<path d="M676.44 625.36 L676.71 625.46 L677.01 625.49 L677.34 625.45 L677.69 625.33 L678.03 625.15 L678.38 624.9 L678.72 624.6 L679.03 624.24 L679.32 623.84 L679.58 623.41 L679.79 622.96 L679.96 622.49 L680.08 622.03 L680.15 621.58 L680.16 621.16 L680.12 620.77 L680.03 620.42 L679.88 620.12 L679.68 619.88 L679.45 619.71 L679.17 619.61 L678.87 619.58 L678.54 619.62 L678.2 619.74 L677.85 619.92 L677.5 620.17 L677.16 620.48 L676.85 620.83 L676.56 621.23 L676.3 621.66 L676.09 622.12 L675.92 622.58 L675.8 623.04 L675.73 623.49 L675.72 623.92 L675.76 624.31 L675.86 624.66 L676 624.95 L676.2 625.19 L676.44 625.36Z" fill="#fff" stroke="#111" stroke-width="1.5"/>
<path d="M680.39 617.95 L679.94 617.78 L679.44 617.73 L678.91 617.8 L678.36 617.99 L677.79 618.29 L677.23 618.69 L676.68 619.19 L676.17 619.77 L675.69 620.42 L675.28 621.12 L674.93 621.85 L674.65 622.6 L674.46 623.36 L674.35 624.09 L674.33 624.78 L674.4 625.41 L674.55 625.98 L674.79 626.46 L675.11 626.85 L675.49 627.12 L682.55 630.89 L683 631.05 L683.5 631.1 L684.03 631.03 L684.59 630.85 L685.15 630.55 L685.72 630.15 L686.26 629.65 L686.78 629.07 L687.25 628.42 L687.66 627.72 L688.01 626.98 L688.29 626.23 L688.48 625.48 L688.59 624.75 L688.61 624.06 L688.54 623.42 L688.39 622.86 L688.15 622.37 L687.83 621.99 L687.45 621.71Z" fill="#fff" stroke="#111" stroke-width="1.6"/>
<path d="M682.55 630.89 L683 631.05 L683.5 631.1 L684.03 631.03 L684.59 630.85 L685.15 630.55 L685.72 630.15 L686.26 629.65 L686.78 629.07 L687.25 628.42 L687.66 627.72 L688.01 626.98 L688.29 626.23 L688.48 625.48 L688.59 624.75 L688.61 624.06 L688.54 623.42 L688.39 622.86 L688.15 622.37 L687.83 621.99 L687.45 621.71 L687 621.55 L686.5 621.5 L685.97 621.57 L685.41 621.75 L684.85 622.05 L684.28 622.45 L683.74 622.95 L683.22 623.53 L682.75 624.18 L682.34 624.88 L681.99 625.62 L681.71 626.37 L681.52 627.12 L681.41 627.85 L681.39 628.54 L681.46 629.18 L681.61 629.74 L681.85 630.23 L682.17 630.61 L682.55 630.89Z" fill="#fff" stroke="#111" stroke-width="1.6"/>
<path d="M683.09 629.88 L683.69 630.04 L684.39 629.95 L685.12 629.61 L685.84 629.05 L686.51 628.3 L687.08 627.41 L687.5 626.44 L687.75 625.47 L687.82 624.55 L687.69 623.75 L687.38 623.13 L686.91 622.72 L686.31 622.56 L685.61 622.65 L684.88 622.99 L684.16 623.55 L683.49 624.3 L682.92 625.19 L682.5 626.16 L682.25 627.13 L682.18 628.05 L682.31 628.85 L682.62 629.47 L683.09 629.88Z" fill="none" stroke="#111" stroke-width="0.8"/>
<path d="M684.59 628.74 L686.38 627.04 L686.79 624.6 L685.41 623.86 L683.62 625.56 L683.21 628Z" fill="#fff" stroke="#111" stroke-width="1.2"/>
<path d="M683.38 627.21 L683.88 627.23 L684.44 626.89 L684.92 626.26 L685.18 625.51 L685.15 624.85 L684.85 624.45 L684.35 624.42 L683.79 624.77 L683.32 625.4 L683.06 626.15 L683.08 626.81 L683.38 627.21Z" fill="none" stroke="#111" stroke-width="0.8"/>
<path d="M63.11 129.45 L62.59 129.25 L62.02 129.19 L61.41 129.26 L60.76 129.46 L60.1 129.8 L59.44 130.25 L58.81 130.82 L58.2 131.47 L57.65 132.21 L57.16 133.01 L56.74 133.86 L56.41 134.72 L56.17 135.58 L56.03 136.42 L55.99 137.22 L56.06 137.96 L56.23 138.61 L56.5 139.17 L56.85 139.62 L57.29 139.95 L62.89 143.05 L63.41 143.25 L63.98 143.31 L64.59 143.24 L65.24 143.04 L65.9 142.7 L66.56 142.25 L67.19 141.68 L67.8 141.03 L68.35 140.29 L68.84 139.49 L69.26 138.64 L69.59 137.78 L69.83 136.92 L69.97 136.08 L70.01 135.28 L69.94 134.54 L69.77 133.89 L69.5 133.33 L69.15 132.88 L68.71 132.55Z" fill="#fff" stroke="#111" stroke-width="1.4"/>
<path d="M62.89 143.05 L63.41 143.25 L63.98 143.31 L64.59 143.24 L65.24 143.04 L65.9 142.7 L66.56 142.25 L67.19 141.68 L67.8 141.03 L68.35 140.29 L68.84 139.49 L69.26 138.64 L69.59 137.78 L69.83 136.92 L69.97 136.08 L70.01 135.28 L69.94 134.54 L69.77 133.89 L69.5 133.33 L69.15 132.88 L68.71 132.55 L68.19 132.35 L67.62 132.29 L67.01 132.36 L66.36 132.56 L65.7 132.9 L65.04 133.35 L64.41 133.92 L63.8 134.57 L63.25 135.31 L62.76 136.11 L62.34 136.96 L62.01 137.82 L61.77 138.68 L61.63 139.52 L61.59 140.32 L61.66 141.06 L61.83 141.71 L62.1 142.27 L62.45 142.72 L62.89 143.05Z" fill="#fff" stroke="#111" stroke-width="1.4"/>
<path d="M67.46 134.49 L67.14 134.38 L66.79 134.36 L66.41 134.42 L66.02 134.56 L65.62 134.78 L65.22 135.08 L64.85 135.44 L64.49 135.86 L64.17 136.33 L63.88 136.84 L63.65 137.37 L63.46 137.91 L63.34 138.44 L63.27 138.96 L63.27 139.46 L63.33 139.91 L63.45 140.31 L63.63 140.65 L63.86 140.91 L64.14 141.11 L107.74 163.01 L108.06 163.12 L108.41 163.14 L108.79 163.08 L109.18 162.94 L109.58 162.72 L109.98 162.42 L110.35 162.06 L110.71 161.64 L111.03 161.17 L111.32 160.66 L111.55 160.13 L111.74 159.59 L111.86 159.06 L111.93 158.54 L111.93 158.04 L111.87 157.59 L111.75 157.19 L111.57 156.85 L111.34 156.59 L111.06 156.39Z" fill="#fff" stroke="#111" stroke-width="1.4"/>
<path d="M107.74 163.01 L108.06 163.12 L108.41 163.14 L108.79 163.08 L109.18 162.94 L109.58 162.72 L109.98 162.42 L110.35 162.06 L110.71 161.64 L111.03 161.17 L111.32 160.66 L111.55 160.13 L111.74 159.59 L111.86 159.06 L111.93 158.54 L111.93 158.04 L111.87 157.59 L111.75 157.19 L111.57 156.85 L111.34 156.59 L111.06 156.39 L110.74 156.28 L110.39 156.26 L110.01 156.32 L109.62 156.46 L109.22 156.68 L108.82 156.98 L108.45 157.34 L108.09 157.76 L107.77 158.23 L107.48 158.74 L107.25 159.27 L107.06 159.81 L106.94 160.34 L106.87 160.86 L106.87 161.36 L106.93 161.81 L107.05 162.21 L107.23 162.55 L107.46 162.81 L107.74 163.01Z" fill="#fff" stroke="#111" stroke-width="1.4"/>
<path d="M108.37 161.75 L108.9 161.82 L109.51 161.57 L110.1 161.04 L110.59 160.3 L110.89 159.47 L110.97 158.67 L110.81 158.03 L110.43 157.65 L109.9 157.58 L109.29 157.83 L108.7 158.36 L108.21 159.1 L107.91 159.93 L107.83 160.73 L107.99 161.37 L108.37 161.75Z" fill="none" stroke="#111" stroke-width="0.8"/>
<ellipse cx="121.9" cy="167.5" rx="4.26" ry="7.6" fill="#fff" stroke="#111" stroke-width="2.6" transform="rotate(28 121.9 167.5)"/>
<ellipse cx="122.5" cy="167.8" rx="2.13" ry="3.8" fill="#fff" stroke="#111" stroke-width="1.2" transform="rotate(28 122.5 167.8)"/>
<path d="M48.01 252.61 L47.5 252.4 L46.94 252.33 L46.32 252.38 L45.67 252.58 L45 252.9 L44.34 253.34 L43.69 253.89 L43.07 254.53 L42.5 255.26 L41.99 256.05 L41.56 256.89 L41.21 257.74 L40.95 258.6 L40.79 259.44 L40.74 260.23 L40.79 260.97 L40.95 261.63 L41.2 262.19 L41.55 262.65 L41.99 262.99 L48.19 266.59 L48.7 266.8 L49.26 266.87 L49.88 266.82 L50.53 266.62 L51.2 266.3 L51.86 265.86 L52.51 265.31 L53.13 264.67 L53.7 263.94 L54.21 263.15 L54.64 262.31 L54.99 261.46 L55.25 260.6 L55.41 259.76 L55.46 258.97 L55.41 258.23 L55.25 257.57 L55 257.01 L54.65 256.55 L54.21 256.21Z" fill="#fff" stroke="#111" stroke-width="1.4"/>
<path d="M48.19 266.59 L48.7 266.8 L49.26 266.87 L49.88 266.82 L50.53 266.62 L51.2 266.3 L51.86 265.86 L52.51 265.31 L53.13 264.67 L53.7 263.94 L54.21 263.15 L54.64 262.31 L54.99 261.46 L55.25 260.6 L55.41 259.76 L55.46 258.97 L55.41 258.23 L55.25 257.57 L55 257.01 L54.65 256.55 L54.21 256.21 L53.7 256 L53.14 255.93 L52.52 255.98 L51.87 256.18 L51.2 256.5 L50.54 256.94 L49.89 257.49 L49.27 258.13 L48.7 258.86 L48.19 259.65 L47.76 260.49 L47.41 261.34 L47.15 262.2 L46.99 263.04 L46.94 263.83 L46.99 264.57 L47.15 265.23 L47.4 265.79 L47.75 266.25 L48.19 266.59Z" fill="#fff" stroke="#111" stroke-width="1.4"/>
<path d="M52.98 258.15 L52.66 258.03 L52.31 257.99 L51.93 258.04 L51.53 258.17 L51.13 258.38 L50.72 258.66 L50.33 259.01 L49.96 259.42 L49.62 259.87 L49.32 260.37 L49.06 260.89 L48.86 261.42 L48.72 261.96 L48.63 262.47 L48.61 262.97 L48.66 263.42 L48.76 263.82 L48.93 264.17 L49.15 264.44 L49.42 264.65 L75.72 279.05 L76.04 279.17 L76.39 279.21 L76.77 279.16 L77.17 279.03 L77.57 278.82 L77.98 278.54 L78.37 278.19 L78.74 277.78 L79.08 277.33 L79.38 276.83 L79.64 276.31 L79.84 275.78 L79.98 275.24 L80.07 274.73 L80.09 274.23 L80.04 273.78 L79.94 273.38 L79.77 273.03 L79.55 272.76 L79.28 272.55Z" fill="#fff" stroke="#111" stroke-width="1.4"/>
<path d="M75.72 279.05 L76.04 279.17 L76.39 279.21 L76.77 279.16 L77.17 279.03 L77.57 278.82 L77.98 278.54 L78.37 278.19 L78.74 277.78 L79.08 277.33 L79.38 276.83 L79.64 276.31 L79.84 275.78 L79.98 275.24 L80.07 274.73 L80.09 274.23 L80.04 273.78 L79.94 273.38 L79.77 273.03 L79.55 272.76 L79.28 272.55 L78.96 272.43 L78.61 272.39 L78.23 272.44 L77.83 272.57 L77.43 272.78 L77.02 273.06 L76.63 273.41 L76.26 273.82 L75.92 274.27 L75.62 274.77 L75.36 275.29 L75.16 275.82 L75.02 276.36 L74.93 276.87 L74.91 277.37 L74.96 277.82 L75.06 278.22 L75.23 278.57 L75.45 278.84 L75.72 279.05Z" fill="#fff" stroke="#111" stroke-width="1.4"/>
<path d="M76.4 277.81 L76.93 277.9 L77.55 277.67 L78.16 277.16 L78.67 276.44 L79 275.62 L79.1 274.83 L78.96 274.19 L78.6 273.79 L78.07 273.7 L77.45 273.93 L76.84 274.44 L76.33 275.16 L76 275.98 L75.9 276.77 L76.04 277.41 L76.4 277.81Z" fill="none" stroke="#111" stroke-width="0.8"/>
<ellipse cx="93.8" cy="285.8" rx="4.26" ry="7.6" fill="#fff" stroke="#111" stroke-width="2.6" transform="rotate(28 93.8 285.8)"/>
<ellipse cx="94.4" cy="286.1" rx="2.13" ry="3.8" fill="#fff" stroke="#111" stroke-width="1.2" transform="rotate(28 94.4 286.1)"/>
<path d="M109.91 288.42 L109.49 288.26 L109.01 288.2 L108.5 288.26 L107.96 288.43 L107.41 288.71 L106.86 289.09 L106.33 289.56 L105.83 290.12 L105.37 290.73 L104.96 291.4 L104.61 292.1 L104.34 292.82 L104.14 293.54 L104.03 294.24 L104 294.91 L104.05 295.52 L104.2 296.07 L104.42 296.53 L104.72 296.91 L105.09 297.18 L115.79 303.08 L116.21 303.24 L116.69 303.3 L117.2 303.24 L117.74 303.07 L118.29 302.79 L118.84 302.41 L119.37 301.94 L119.87 301.38 L120.33 300.77 L120.74 300.1 L121.09 299.4 L121.36 298.68 L121.56 297.96 L121.67 297.26 L121.7 296.59 L121.65 295.98 L121.5 295.43 L121.28 294.97 L120.98 294.59 L120.61 294.32Z" fill="#fff" stroke="#111" stroke-width="1.6"/>
<path d="M115.79 303.08 L116.21 303.24 L116.69 303.3 L117.2 303.24 L117.74 303.07 L118.29 302.79 L118.84 302.41 L119.37 301.94 L119.87 301.38 L120.33 300.77 L120.74 300.1 L121.09 299.4 L121.36 298.68 L121.56 297.96 L121.67 297.26 L121.7 296.59 L121.65 295.98 L121.5 295.43 L121.28 294.97 L120.98 294.59 L120.61 294.32 L120.19 294.16 L119.71 294.1 L119.2 294.16 L118.66 294.33 L118.11 294.61 L117.56 294.99 L117.03 295.46 L116.53 296.02 L116.07 296.63 L115.66 297.3 L115.31 298 L115.04 298.72 L114.84 299.44 L114.73 300.14 L114.7 300.81 L114.75 301.42 L114.9 301.97 L115.12 302.43 L115.42 302.81 L115.79 303.08Z" fill="#fff" stroke="#111" stroke-width="1.6"/>
<path d="M116.56 301.68 L117.17 301.83 L117.89 301.67 L118.63 301.22 L119.34 300.53 L119.93 299.65 L120.35 298.69 L120.56 297.72 L120.54 296.85 L120.3 296.16 L119.84 295.72 L119.23 295.57 L118.51 295.73 L117.77 296.18 L117.06 296.87 L116.47 297.75 L116.05 298.71 L115.84 299.68 L115.86 300.55 L116.1 301.24 L116.56 301.68Z" fill="none" stroke="#111" stroke-width="2.0"/>
<path d="M109.04 344.96 L108.52 344.78 L107.95 344.73 L107.34 344.82 L106.7 345.05 L106.05 345.4 L105.41 345.88 L104.79 346.46 L104.2 347.14 L103.67 347.89 L103.2 348.71 L102.81 349.56 L102.51 350.44 L102.3 351.31 L102.18 352.15 L102.17 352.95 L102.26 353.68 L102.45 354.33 L102.74 354.88 L103.11 355.32 L103.56 355.64 L110.76 359.34 L111.28 359.52 L111.85 359.57 L112.46 359.48 L113.1 359.25 L113.75 358.9 L114.39 358.42 L115.01 357.84 L115.6 357.16 L116.13 356.41 L116.6 355.59 L116.99 354.74 L117.29 353.86 L117.5 352.99 L117.62 352.15 L117.63 351.35 L117.54 350.62 L117.35 349.97 L117.06 349.42 L116.69 348.98 L116.24 348.66Z" fill="#fff" stroke="#111" stroke-width="1.4"/>
<path d="M110.76 359.34 L111.28 359.52 L111.85 359.57 L112.46 359.48 L113.1 359.25 L113.75 358.9 L114.39 358.42 L115.01 357.84 L115.6 357.16 L116.13 356.41 L116.6 355.59 L116.99 354.74 L117.29 353.86 L117.5 352.99 L117.62 352.15 L117.63 351.35 L117.54 350.62 L117.35 349.97 L117.06 349.42 L116.69 348.98 L116.24 348.66 L115.72 348.48 L115.15 348.43 L114.54 348.52 L113.9 348.75 L113.25 349.1 L112.61 349.58 L111.99 350.16 L111.4 350.84 L110.87 351.59 L110.4 352.41 L110.01 353.26 L109.71 354.14 L109.5 355.01 L109.38 355.85 L109.37 356.65 L109.46 357.38 L109.65 358.03 L109.94 358.58 L110.31 359.02 L110.76 359.34Z" fill="#fff" stroke="#111" stroke-width="1.4"/>
<path d="M115.3 350.77 L114.99 350.65 L114.64 350.6 L114.26 350.65 L113.86 350.77 L113.45 350.98 L113.04 351.25 L112.65 351.6 L112.28 352.01 L111.93 352.46 L111.63 352.95 L111.37 353.47 L111.16 354 L111.01 354.53 L110.92 355.05 L110.9 355.54 L110.94 356 L111.04 356.4 L111.21 356.75 L111.43 357.03 L111.7 357.23 L133.2 369.23 L133.51 369.35 L133.86 369.4 L134.24 369.35 L134.64 369.23 L135.05 369.02 L135.46 368.75 L135.85 368.4 L136.22 367.99 L136.57 367.54 L136.87 367.05 L137.13 366.53 L137.34 366 L137.49 365.47 L137.58 364.95 L137.6 364.46 L137.56 364 L137.46 363.6 L137.29 363.25 L137.07 362.97 L136.8 362.77Z" fill="#fff" stroke="#111" stroke-width="1.4"/>
<path d="M133.2 369.23 L133.51 369.35 L133.86 369.4 L134.24 369.35 L134.64 369.23 L135.05 369.02 L135.46 368.75 L135.85 368.4 L136.22 367.99 L136.57 367.54 L136.87 367.05 L137.13 366.53 L137.34 366 L137.49 365.47 L137.58 364.95 L137.6 364.46 L137.56 364 L137.46 363.6 L137.29 363.25 L137.07 362.97 L136.8 362.77 L136.49 362.65 L136.14 362.6 L135.76 362.65 L135.36 362.77 L134.95 362.98 L134.54 363.25 L134.15 363.6 L133.78 364.01 L133.43 364.46 L133.13 364.95 L132.87 365.47 L132.66 366 L132.51 366.53 L132.42 367.05 L132.4 367.54 L132.44 368 L132.54 368.4 L132.71 368.75 L132.93 369.03 L133.2 369.23Z" fill="#fff" stroke="#111" stroke-width="1.4"/>
<path d="M133.88 368 L134.41 368.1 L135.03 367.87 L135.65 367.37 L136.16 366.65 L136.5 365.83 L136.61 365.04 L136.48 364.4 L136.12 364 L135.59 363.9 L134.97 364.13 L134.35 364.63 L133.84 365.35 L133.5 366.17 L133.39 366.96 L133.52 367.6 L133.88 368Z" fill="none" stroke="#111" stroke-width="0.8"/>
<ellipse cx="149.3" cy="374.5" rx="4.26" ry="7.6" fill="#fff" stroke="#111" stroke-width="2.6" transform="rotate(28 149.3 374.5)"/>
<ellipse cx="149.9" cy="374.8" rx="2.13" ry="3.8" fill="#fff" stroke="#111" stroke-width="1.2" transform="rotate(28 149.9 374.8)"/>
<path d="M95 120L86.3 138.8" stroke="#777" stroke-width="0.8" fill="none"/>
<path d="M86.3 138.8 L87.49 132.19 L90.57 133.61Z" fill="#5a5a5a" stroke="none"/>
<path d="M138 145L128.8 160" stroke="#777" stroke-width="0.8" fill="none"/>
<path d="M128.8 160 L130.75 153.57 L133.65 155.35Z" fill="#5a5a5a" stroke="none"/>
<path d="M43.75 291L61.25 274" stroke="#777" stroke-width="0.8" fill="none"/>
<path d="M61.25 274 L57.77 279.75 L55.4 277.31Z" fill="#5a5a5a" stroke="none"/>
<path d="M71.25 308.5L86.25 294" stroke="#777" stroke-width="0.8" fill="none"/>
<path d="M86.25 294 L82.76 299.74 L80.4 297.3Z" fill="#5a5a5a" stroke="none"/>
<path d="M93 319.75L110 303.5" stroke="#777" stroke-width="0.8" fill="none"/>
<path d="M110 303.5 L106.48 309.22 L104.13 306.76Z" fill="#5a5a5a" stroke="none"/>
<path d="M103 380.25L117.5 364.5" stroke="#777" stroke-width="0.8" fill="none"/>
<path d="M117.5 364.5 L114.35 370.43 L111.85 368.13Z" fill="#5a5a5a" stroke="none"/>
<path d="M131.25 397.25L143.75 384" stroke="#777" stroke-width="0.8" fill="none"/>
<path d="M143.75 384 L140.53 389.89 L138.05 387.56Z" fill="#5a5a5a" stroke="none"/>
<path d="M562 179L470 281" stroke="#777" stroke-width="0.8" fill="none"/>
<path d="M470 281 L473.09 275.03 L475.62 277.31Z" fill="#5a5a5a" stroke="none"/>
<path d="M596.5 199L555 255" stroke="#777" stroke-width="0.8" fill="none"/>
<path d="M555 255 L557.5 248.77 L560.24 250.79Z" fill="#5a5a5a" stroke="none"/>
<path d="M631 219L597 263" stroke="#777" stroke-width="0.8" fill="none"/>
<path d="M597 263 L599.63 256.82 L602.32 258.9Z" fill="#5a5a5a" stroke="none"/>
<path d="M655 232.5L596.25 298" stroke="#777" stroke-width="0.8" fill="none"/>
<path d="M596.25 298 L599.32 292.03 L601.86 294.3Z" fill="#5a5a5a" stroke="none"/>
<path d="M673.5 243L618.75 312" stroke="#777" stroke-width="0.8" fill="none"/>
<path d="M618.75 312 L621.46 305.85 L624.12 307.96Z" fill="#5a5a5a" stroke="none"/>
<path d="M690.5 253L671.25 280.5" stroke="#777" stroke-width="0.8" fill="none"/>
<path d="M671.25 280.5 L673.58 274.2 L676.37 276.15Z" fill="#5a5a5a" stroke="none"/>
<path d="M708 263L685 292.5" stroke="#777" stroke-width="0.8" fill="none"/>
<path d="M685 292.5 L687.66 286.33 L690.34 288.42Z" fill="#5a5a5a" stroke="none"/>
<path d="M399 440.2L404 434.5" stroke="#777" stroke-width="0.8" fill="none"/>
<path d="M404 434.5 L400.99 440.51 L398.44 438.27Z" fill="#5a5a5a" stroke="none"/>
<path d="M420 460.5L415.5 466.5" stroke="#777" stroke-width="0.8" fill="none"/>
<path d="M415.5 466.5 L418.04 460.28 L420.76 462.32Z" fill="#5a5a5a" stroke="none"/>
<path d="M398 536.6L419.7 521.3" stroke="#777" stroke-width="0.8" fill="none"/>
<path d="M419.7 521.3 L415.37 526.43 L413.41 523.66Z" fill="#5a5a5a" stroke="none"/>
<path d="M435 557.5L459.5 537.2" stroke="#777" stroke-width="0.8" fill="none"/>
<path d="M459.5 537.2 L455.58 542.66 L453.41 540.04Z" fill="#5a5a5a" stroke="none"/>
<path d="M587 368L602.8 350.8" stroke="#777" stroke-width="0.8" fill="none"/>
<path d="M602.8 350.8 L599.65 356.74 L597.15 354.44Z" fill="#5a5a5a" stroke="none"/>
<path d="M596 393.5L588.5 402" stroke="#777" stroke-width="0.8" fill="none"/>
<path d="M588.5 402 L591.53 396 L594.08 398.25Z" fill="#5a5a5a" stroke="none"/>
<path d="M619.5 407L563.4 470.3" stroke="#777" stroke-width="0.8" fill="none"/>
<path d="M563.4 470.3 L566.44 464.31 L568.98 466.56Z" fill="#5a5a5a" stroke="none"/>
<path d="M687 429.3L698 427.8" stroke="#777" stroke-width="0.8" fill="none"/>
<path d="M698 427.8 L691.79 430.36 L691.33 426.99Z" fill="#5a5a5a" stroke="none"/>
<path d="M757.5 469L753.8 461.3" stroke="#777" stroke-width="0.8" fill="none"/>
<path d="M753.8 461.3 L758.15 466.42 L755.08 467.9Z" fill="#5a5a5a" stroke="none"/>
<path d="M700.3 453.8L661.3 491.3" stroke="#777" stroke-width="0.8" fill="none"/>
<path d="M661.3 491.3 L664.81 485.57 L667.16 488.02Z" fill="#5a5a5a" stroke="none"/>
<path d="M726.5 469.5L688.8 510" stroke="#777" stroke-width="0.8" fill="none"/>
<path d="M688.8 510 L691.98 504.08 L694.47 506.4Z" fill="#5a5a5a" stroke="none"/>
<path d="M774.5 495L763.8 501.3" stroke="#777" stroke-width="0.8" fill="none"/>
<path d="M763.8 501.3 L768.54 496.54 L770.26 499.47Z" fill="#5a5a5a" stroke="none"/>
<path d="M840.3 557.5L820 546.3" stroke="#777" stroke-width="0.8" fill="none"/>
<path d="M820 546.3 L826.51 547.95 L824.87 550.93Z" fill="#5a5a5a" stroke="none"/>
<path d="M692 575.5L710.5 553.8" stroke="#777" stroke-width="0.8" fill="none"/>
<path d="M710.5 553.8 L707.58 559.85 L704.99 557.64Z" fill="#5a5a5a" stroke="none"/>
<path d="M805.5 600.2L760 573.8" stroke="#777" stroke-width="0.8" fill="none"/>
<path d="M760 573.8 L766.48 575.59 L764.77 578.53Z" fill="#5a5a5a" stroke="none"/>
<path d="M664.5 579.5L648 596.3" stroke="#777" stroke-width="0.8" fill="none"/>
<path d="M648 596.3 L651.34 590.47 L653.77 592.85Z" fill="#5a5a5a" stroke="none"/>
<path d="M511 601.3L575 538" stroke="#777" stroke-width="0.8" fill="none"/>
<path d="M575 538 L571.57 543.78 L569.18 541.36Z" fill="#5a5a5a" stroke="none"/>
<path d="M534.8 615.3L598.8 545.5" stroke="#777" stroke-width="0.8" fill="none"/>
<path d="M598.8 545.5 L595.66 551.44 L593.15 549.14Z" fill="#5a5a5a" stroke="none"/>
<path d="M562.5 631.5L585 604.5" stroke="#777" stroke-width="0.8" fill="none"/>
<path d="M585 604.5 L582.14 610.58 L579.53 608.41Z" fill="#5a5a5a" stroke="none"/>
<path d="M601.5 653.3L625 628" stroke="#777" stroke-width="0.8" fill="none"/>
<path d="M625 628 L621.82 633.92 L619.33 631.61Z" fill="#5a5a5a" stroke="none"/>
<path d="M638.5 674.2L676.3 630" stroke="#777" stroke-width="0.8" fill="none"/>
<path d="M676.3 630 L673.37 636.04 L670.78 633.83Z" fill="#5a5a5a" stroke="none"/>
<circle cx="98.8" cy="111.8" r="8.9" fill="#fff" stroke="#8a8a8a" stroke-width="0.9"/>
<text x="98.8" y="115.2" font-size="10" fill="#666" text-anchor="middle" textLength="9.2" lengthAdjust="spacingAndGlyphs">10</text>
<circle cx="143" cy="137.5" r="8.9" fill="#fff" stroke="#8a8a8a" stroke-width="0.9"/>
<text x="143" y="140.9" font-size="10" fill="#666" text-anchor="middle" textLength="9.2" lengthAdjust="spacingAndGlyphs">13</text>
<circle cx="38.75" cy="297.25" r="8.9" fill="#fff" stroke="#8a8a8a" stroke-width="0.9"/>
<text x="38.75" y="300.65" font-size="10" fill="#666" text-anchor="middle" textLength="4.6" lengthAdjust="spacingAndGlyphs">8</text>
<circle cx="65.5" cy="315.25" r="8.9" fill="#fff" stroke="#8a8a8a" stroke-width="0.9"/>
<text x="65.5" y="318.65" font-size="10" fill="#666" text-anchor="middle" textLength="9.2" lengthAdjust="spacingAndGlyphs">13</text>
<circle cx="87" cy="326.5" r="8.9" fill="#fff" stroke="#8a8a8a" stroke-width="0.9"/>
<text x="87" y="329.9" font-size="10" fill="#666" text-anchor="middle" textLength="9.2" lengthAdjust="spacingAndGlyphs">14</text>
<circle cx="97.5" cy="387.25" r="8.9" fill="#fff" stroke="#8a8a8a" stroke-width="0.9"/>
<text x="97.5" y="390.65" font-size="10" fill="#666" text-anchor="middle" textLength="4.6" lengthAdjust="spacingAndGlyphs">6</text>
<circle cx="125.75" cy="404" r="8.9" fill="#fff" stroke="#8a8a8a" stroke-width="0.9"/>
<text x="125.75" y="407.4" font-size="10" fill="#666" text-anchor="middle" textLength="9.2" lengthAdjust="spacingAndGlyphs">13</text>
<circle cx="567.5" cy="172" r="8.9" fill="#fff" stroke="#8a8a8a" stroke-width="0.9"/>
<text x="567.5" y="175.4" font-size="10" fill="#666" text-anchor="middle" textLength="4.6" lengthAdjust="spacingAndGlyphs">4</text>
<circle cx="601.75" cy="192" r="8.9" fill="#fff" stroke="#8a8a8a" stroke-width="0.9"/>
<text x="601.75" y="195.4" font-size="10" fill="#666" text-anchor="middle" textLength="4.6" lengthAdjust="spacingAndGlyphs">4</text>
<circle cx="636.25" cy="211.75" r="8.9" fill="#fff" stroke="#8a8a8a" stroke-width="0.9"/>
<text x="636.25" y="215.15" font-size="10" fill="#666" text-anchor="middle" textLength="4.6" lengthAdjust="spacingAndGlyphs">4</text>
<circle cx="660.5" cy="225.75" r="8.9" fill="#fff" stroke="#8a8a8a" stroke-width="0.9"/>
<text x="660.5" y="229.15" font-size="10" fill="#666" text-anchor="middle" textLength="9.2" lengthAdjust="spacingAndGlyphs">13</text>
<circle cx="678.75" cy="235.75" r="8.9" fill="#fff" stroke="#8a8a8a" stroke-width="0.9"/>
<text x="678.75" y="239.15" font-size="10" fill="#666" text-anchor="middle" textLength="4.6" lengthAdjust="spacingAndGlyphs">7</text>
<circle cx="695.5" cy="245.5" r="8.9" fill="#fff" stroke="#8a8a8a" stroke-width="0.9"/>
<text x="695.5" y="248.9" font-size="10" fill="#666" text-anchor="middle" textLength="9.2" lengthAdjust="spacingAndGlyphs">13</text>
<circle cx="713" cy="255.5" r="8.9" fill="#fff" stroke="#8a8a8a" stroke-width="0.9"/>
<text x="713" y="258.9" font-size="10" fill="#666" text-anchor="middle" textLength="4.6" lengthAdjust="spacingAndGlyphs">7</text>
<circle cx="395.5" cy="448.3" r="8.9" fill="#fff" stroke="#8a8a8a" stroke-width="0.9"/>
<text x="395.5" y="451.7" font-size="10" fill="#666" text-anchor="middle" textLength="4.6" lengthAdjust="spacingAndGlyphs">2</text>
<circle cx="426.4" cy="454.2" r="8.9" fill="#fff" stroke="#8a8a8a" stroke-width="0.9"/>
<text x="426.4" y="457.6" font-size="10" fill="#666" text-anchor="middle" textLength="4.6" lengthAdjust="spacingAndGlyphs">4</text>
<circle cx="390.3" cy="541.6" r="8.9" fill="#fff" stroke="#8a8a8a" stroke-width="0.9"/>
<text x="390.3" y="545" font-size="10" fill="#666" text-anchor="middle" textLength="4.6" lengthAdjust="spacingAndGlyphs">1</text>
<circle cx="428" cy="563" r="8.9" fill="#fff" stroke="#8a8a8a" stroke-width="0.9"/>
<text x="428" y="566.4" font-size="10" fill="#666" text-anchor="middle" textLength="4.6" lengthAdjust="spacingAndGlyphs">3</text>
<circle cx="581.25" cy="374.7" r="8.9" fill="#fff" stroke="#8a8a8a" stroke-width="0.9"/>
<text x="581.25" y="378.1" font-size="10" fill="#666" text-anchor="middle" textLength="4.6" lengthAdjust="spacingAndGlyphs">4</text>
<circle cx="601" cy="386.25" r="8.9" fill="#fff" stroke="#8a8a8a" stroke-width="0.9"/>
<text x="601" y="389.65" font-size="10" fill="#666" text-anchor="middle" textLength="4.6" lengthAdjust="spacingAndGlyphs">2</text>
<circle cx="625" cy="400" r="8.9" fill="#fff" stroke="#8a8a8a" stroke-width="0.9"/>
<text x="625" y="403.4" font-size="10" fill="#666" text-anchor="middle" textLength="4.6" lengthAdjust="spacingAndGlyphs">3</text>
<circle cx="678" cy="430" r="8.9" fill="#fff" stroke="#8a8a8a" stroke-width="0.9"/>
<text x="678" y="433.4" font-size="10" fill="#666" text-anchor="middle" textLength="9.2" lengthAdjust="spacingAndGlyphs">13</text>
<circle cx="760" cy="477.5" r="8.9" fill="#fff" stroke="#8a8a8a" stroke-width="0.9"/>
<text x="760" y="480.9" font-size="10" fill="#666" text-anchor="middle" textLength="4.6" lengthAdjust="spacingAndGlyphs">9</text>
<circle cx="705" cy="446.25" r="8.9" fill="#fff" stroke="#8a8a8a" stroke-width="0.9"/>
<text x="705" y="449.65" font-size="10" fill="#666" text-anchor="middle" textLength="9.2" lengthAdjust="spacingAndGlyphs">13</text>
<circle cx="730.75" cy="461.75" r="8.9" fill="#fff" stroke="#8a8a8a" stroke-width="0.9"/>
<text x="730.75" y="465.15" font-size="10" fill="#666" text-anchor="middle" textLength="4.6" lengthAdjust="spacingAndGlyphs">9</text>
<circle cx="782" cy="490.75" r="8.9" fill="#fff" stroke="#8a8a8a" stroke-width="0.9"/>
<text x="782" y="494.15" font-size="10" fill="#666" text-anchor="middle" textLength="9.2" lengthAdjust="spacingAndGlyphs">13</text>
<circle cx="848.25" cy="561.75" r="8.9" fill="#fff" stroke="#8a8a8a" stroke-width="0.9"/>
<text x="848.25" y="565.15" font-size="10" fill="#666" text-anchor="middle" textLength="9.2" lengthAdjust="spacingAndGlyphs">11</text>
<circle cx="686.4" cy="582.3" r="8.9" fill="#fff" stroke="#8a8a8a" stroke-width="0.9"/>
<text x="686.4" y="585.7" font-size="10" fill="#666" text-anchor="middle" textLength="9.2" lengthAdjust="spacingAndGlyphs">12</text>
<circle cx="813" cy="605" r="8.9" fill="#fff" stroke="#8a8a8a" stroke-width="0.9"/>
<text x="813" y="608.4" font-size="10" fill="#666" text-anchor="middle" textLength="4.6" lengthAdjust="spacingAndGlyphs">5</text>
<circle cx="669.7" cy="572.5" r="8.9" fill="#fff" stroke="#8a8a8a" stroke-width="0.9"/>
<text x="669.7" y="575.9" font-size="10" fill="#666" text-anchor="middle" textLength="9.2" lengthAdjust="spacingAndGlyphs">12</text>
<circle cx="505" cy="608" r="8.9" fill="#fff" stroke="#8a8a8a" stroke-width="0.9"/>
<text x="505" y="611.4" font-size="10" fill="#666" text-anchor="middle" textLength="9.2" lengthAdjust="spacingAndGlyphs">13</text>
<circle cx="529.25" cy="622.5" r="8.9" fill="#fff" stroke="#8a8a8a" stroke-width="0.9"/>
<text x="529.25" y="625.9" font-size="10" fill="#666" text-anchor="middle" textLength="9.2" lengthAdjust="spacingAndGlyphs">11</text>
<circle cx="556.75" cy="638.25" r="8.9" fill="#fff" stroke="#8a8a8a" stroke-width="0.9"/>
<text x="556.75" y="641.65" font-size="10" fill="#666" text-anchor="middle" textLength="9.2" lengthAdjust="spacingAndGlyphs">12</text>
<circle cx="596.25" cy="660.5" r="8.9" fill="#fff" stroke="#8a8a8a" stroke-width="0.9"/>
<text x="596.25" y="663.9" font-size="10" fill="#666" text-anchor="middle" textLength="4.6" lengthAdjust="spacingAndGlyphs">5</text>
<circle cx="633" cy="681.25" r="8.9" fill="#fff" stroke="#8a8a8a" stroke-width="0.9"/>
<text x="633" y="684.65" font-size="10" fill="#666" text-anchor="middle" textLength="4.6" lengthAdjust="spacingAndGlyphs">5</text>
</g>
<g stroke="#555" stroke-width="0.9" fill="none">
<rect x="733.6" y="22.3" width="263.79999999999995" height="346.10"/>
<path d="M733.6 37.3H997.4"/>
<path d="M733.6 60.95H997.4"/>
<path d="M733.6 84.60H997.4"/>
<path d="M733.6 108.25H997.4"/>
<path d="M733.6 131.90H997.4"/>
<path d="M733.6 155.55H997.4"/>
<path d="M733.6 179.20H997.4"/>
<path d="M733.6 202.85H997.4"/>
<path d="M733.6 226.50H997.4"/>
<path d="M733.6 250.15H997.4"/>
<path d="M733.6 273.80H997.4"/>
<path d="M733.6 297.45H997.4"/>
<path d="M733.6 321.10H997.4"/>
<path d="M733.6 344.75H997.4"/>
<path d="M756.8 22.3V368.4"/>
<path d="M905.8 22.3V368.4"/>
<path d="M939.2 22.3V368.4"/>
</g>
<g font-family="Liberation Sans, sans-serif">
<text x="745.20" y="34.30" font-size="10.0" fill="#555" text-anchor="middle" textLength="11.50" lengthAdjust="spacingAndGlyphs">NR</text>
<text x="831.30" y="34.30" font-size="10.0" fill="#555" text-anchor="middle" textLength="17.30" lengthAdjust="spacingAndGlyphs">PART</text>
<text x="922.50" y="34.30" font-size="10.0" fill="#555" text-anchor="middle" textLength="23.00" lengthAdjust="spacingAndGlyphs">PIECE</text>
<text x="968.30" y="34.30" font-size="10.0" fill="#555" text-anchor="middle" textLength="52.80" lengthAdjust="spacingAndGlyphs">TORQUE [Nm]</text>
<text x="744.90" y="52.33" font-size="9" fill="#555" text-anchor="middle" textLength="3.50" lengthAdjust="spacingAndGlyphs">1</text>
<text x="758.20" y="52.33" font-size="9" fill="#555" text-anchor="start" textLength="115.64" lengthAdjust="spacingAndGlyphs">Gearbox adapter XXX-BMW N57-8HP</text>
<text x="922.50" y="52.73" font-size="10.0" fill="#555" text-anchor="middle" textLength="4.34" lengthAdjust="spacingAndGlyphs">1</text>
<text x="744.90" y="75.97" font-size="9" fill="#555" text-anchor="middle" textLength="3.50" lengthAdjust="spacingAndGlyphs">2</text>
<text x="758.20" y="75.97" font-size="9" fill="#555" text-anchor="start" textLength="45.51" lengthAdjust="spacingAndGlyphs">Adapter sleeve</text>
<text x="922.50" y="76.37" font-size="10.0" fill="#555" text-anchor="middle" textLength="4.34" lengthAdjust="spacingAndGlyphs">2</text>
<text x="744.90" y="99.62" font-size="9" fill="#555" text-anchor="middle" textLength="3.50" lengthAdjust="spacingAndGlyphs">3</text>
<text x="758.20" y="99.62" font-size="9" fill="#555" text-anchor="start" textLength="72.05" lengthAdjust="spacingAndGlyphs">ISO 8676-M10x1.25x30</text>
<text x="922.50" y="100.02" font-size="10.0" fill="#555" text-anchor="middle" textLength="4.34" lengthAdjust="spacingAndGlyphs">2</text>
<text x="968.30" y="100.02" font-size="10.0" fill="#555" text-anchor="middle" textLength="8.56" lengthAdjust="spacingAndGlyphs">46</text>
<text x="744.90" y="123.27" font-size="9" fill="#555" text-anchor="middle" textLength="3.50" lengthAdjust="spacingAndGlyphs">4</text>
<text x="758.20" y="123.27" font-size="9" fill="#555" text-anchor="start" textLength="72.05" lengthAdjust="spacingAndGlyphs">ISO 8676-M12x1.25x30</text>
<text x="922.50" y="123.67" font-size="10.0" fill="#555" text-anchor="middle" textLength="4.34" lengthAdjust="spacingAndGlyphs">5</text>
<text x="968.30" y="123.67" font-size="10.0" fill="#555" text-anchor="middle" textLength="8.56" lengthAdjust="spacingAndGlyphs">80</text>
<text x="744.90" y="146.92" font-size="9" fill="#555" text-anchor="middle" textLength="3.50" lengthAdjust="spacingAndGlyphs">5</text>
<text x="758.20" y="146.92" font-size="9" fill="#555" text-anchor="start" textLength="55.74" lengthAdjust="spacingAndGlyphs">ISO 4762 M8x50P</text>
<text x="922.50" y="147.32" font-size="10.0" fill="#555" text-anchor="middle" textLength="4.34" lengthAdjust="spacingAndGlyphs">3</text>
<text x="968.30" y="147.32" font-size="10.0" fill="#555" text-anchor="middle" textLength="8.56" lengthAdjust="spacingAndGlyphs">23</text>
<text x="744.90" y="170.57" font-size="9" fill="#555" text-anchor="middle" textLength="3.50" lengthAdjust="spacingAndGlyphs">6</text>
<text x="758.20" y="170.57" font-size="9" fill="#555" text-anchor="start" textLength="54.99" lengthAdjust="spacingAndGlyphs">ISO 4762 M10x35</text>
<text x="922.50" y="170.97" font-size="10.0" fill="#555" text-anchor="middle" textLength="4.34" lengthAdjust="spacingAndGlyphs">1</text>
<text x="968.30" y="170.97" font-size="10.0" fill="#555" text-anchor="middle" textLength="8.56" lengthAdjust="spacingAndGlyphs">46</text>
<text x="744.90" y="194.22" font-size="9" fill="#555" text-anchor="middle" textLength="3.50" lengthAdjust="spacingAndGlyphs">7</text>
<text x="758.20" y="194.22" font-size="9" fill="#555" text-anchor="start" textLength="54.99" lengthAdjust="spacingAndGlyphs">ISO 4762 M10x40</text>
<text x="922.50" y="194.62" font-size="10.0" fill="#555" text-anchor="middle" textLength="4.34" lengthAdjust="spacingAndGlyphs">2</text>
<text x="968.30" y="194.62" font-size="10.0" fill="#555" text-anchor="middle" textLength="8.56" lengthAdjust="spacingAndGlyphs">46</text>
<text x="744.90" y="217.88" font-size="9" fill="#555" text-anchor="middle" textLength="3.50" lengthAdjust="spacingAndGlyphs">8</text>
<text x="758.20" y="217.88" font-size="9" fill="#555" text-anchor="start" textLength="59.54" lengthAdjust="spacingAndGlyphs">ISO 4762 M10x45P</text>
<text x="922.50" y="218.28" font-size="10.0" fill="#555" text-anchor="middle" textLength="4.34" lengthAdjust="spacingAndGlyphs">1</text>
<text x="968.30" y="218.28" font-size="10.0" fill="#555" text-anchor="middle" textLength="8.56" lengthAdjust="spacingAndGlyphs">46</text>
<text x="744.90" y="241.52" font-size="9" fill="#555" text-anchor="middle" textLength="3.50" lengthAdjust="spacingAndGlyphs">9</text>
<text x="758.20" y="241.52" font-size="9" fill="#555" text-anchor="start" textLength="59.54" lengthAdjust="spacingAndGlyphs">ISO 4762 M10x60P</text>
<text x="922.50" y="241.92" font-size="10.0" fill="#555" text-anchor="middle" textLength="4.34" lengthAdjust="spacingAndGlyphs">2</text>
<text x="968.30" y="241.92" font-size="10.0" fill="#555" text-anchor="middle" textLength="8.56" lengthAdjust="spacingAndGlyphs">46</text>
<text x="744.90" y="265.17" font-size="9" fill="#555" text-anchor="middle" textLength="7.01" lengthAdjust="spacingAndGlyphs">10</text>
<text x="758.20" y="265.17" font-size="9" fill="#555" text-anchor="start" textLength="59.54" lengthAdjust="spacingAndGlyphs">ISO 4762 M10x70P</text>
<text x="922.50" y="265.57" font-size="10.0" fill="#555" text-anchor="middle" textLength="4.34" lengthAdjust="spacingAndGlyphs">1</text>
<text x="968.30" y="265.57" font-size="10.0" fill="#555" text-anchor="middle" textLength="8.56" lengthAdjust="spacingAndGlyphs">46</text>
<text x="744.90" y="288.82" font-size="9" fill="#555" text-anchor="middle" textLength="6.54" lengthAdjust="spacingAndGlyphs">11</text>
<text x="758.20" y="288.82" font-size="9" fill="#555" text-anchor="start" textLength="54.99" lengthAdjust="spacingAndGlyphs">ISO 4762 M10x75</text>
<text x="922.50" y="289.23" font-size="10.0" fill="#555" text-anchor="middle" textLength="4.34" lengthAdjust="spacingAndGlyphs">2</text>
<text x="968.30" y="289.23" font-size="10.0" fill="#555" text-anchor="middle" textLength="8.56" lengthAdjust="spacingAndGlyphs">46</text>
<text x="744.90" y="312.47" font-size="9" fill="#555" text-anchor="middle" textLength="7.01" lengthAdjust="spacingAndGlyphs">12</text>
<text x="758.20" y="312.47" font-size="9" fill="#555" text-anchor="start" textLength="38.68" lengthAdjust="spacingAndGlyphs">ISO 7089 - 8</text>
<text x="922.50" y="312.88" font-size="10.0" fill="#555" text-anchor="middle" textLength="4.34" lengthAdjust="spacingAndGlyphs">3</text>
<text x="744.90" y="336.12" font-size="9" fill="#555" text-anchor="middle" textLength="7.01" lengthAdjust="spacingAndGlyphs">13</text>
<text x="758.20" y="336.12" font-size="9" fill="#555" text-anchor="start" textLength="42.47" lengthAdjust="spacingAndGlyphs">ISO 7089 - 10</text>
<text x="922.50" y="336.53" font-size="10.0" fill="#555" text-anchor="middle" textLength="4.34" lengthAdjust="spacingAndGlyphs">9</text>
<text x="744.90" y="359.77" font-size="9" fill="#555" text-anchor="middle" textLength="7.01" lengthAdjust="spacingAndGlyphs">14</text>
<text x="758.20" y="359.77" font-size="9" fill="#555" text-anchor="start" textLength="38.29" lengthAdjust="spacingAndGlyphs">AN 335-M10</text>
<text x="922.50" y="360.18" font-size="10.0" fill="#555" text-anchor="middle" textLength="4.34" lengthAdjust="spacingAndGlyphs">1</text>
</g>
<defs><radialGradient id="lg" cx="50%" cy="35%" r="75%"><stop offset="0" stop-color="#125214"/><stop offset="1" stop-color="#0a3f0d"/></radialGradient></defs>
<rect x="12.3" y="752" width="128.4" height="128.2" fill="url(#lg)"/>
<g fill="none" stroke="#fff" stroke-width="3.3" stroke-linecap="round" stroke-linejoin="miter">
<path d="M22.3 791.2H38L51.4 804.6L38 818.1H22.6V829.6"/>
<path d="M39.6 829.6L59.4 809.8L75.8 826.6L93.2 809.8L113.2 829.2"/>
<path d="M130.4 791.2H113.6L100 804.4L125 829.3H131"/>
</g>
<g font-family="Liberation Sans, sans-serif">
<text x="24.90" y="848.80" font-size="13.6" fill="#d5e0d4" text-anchor="middle" textLength="8.60" lengthAdjust="spacingAndGlyphs" stroke="#d5e0d4" stroke-width="0.25">M</text>
<text x="36.52" y="848.80" font-size="13.6" fill="#d5e0d4" text-anchor="middle" textLength="7.60" lengthAdjust="spacingAndGlyphs" stroke="#d5e0d4" stroke-width="0.25">O</text>
<text x="48.14" y="848.80" font-size="13.6" fill="#d5e0d4" text-anchor="middle" textLength="7.60" lengthAdjust="spacingAndGlyphs" stroke="#d5e0d4" stroke-width="0.25">T</text>
<text x="59.76" y="848.80" font-size="13.6" fill="#d5e0d4" text-anchor="middle" textLength="7.60" lengthAdjust="spacingAndGlyphs" stroke="#d5e0d4" stroke-width="0.25">O</text>
<text x="71.38" y="848.80" font-size="13.6" fill="#d5e0d4" text-anchor="middle" textLength="7.60" lengthAdjust="spacingAndGlyphs" stroke="#d5e0d4" stroke-width="0.25">R</text>
<text x="83.00" y="848.80" font-size="13.6" fill="#d5e0d4" text-anchor="middle" textLength="7.60" lengthAdjust="spacingAndGlyphs" stroke="#d5e0d4" stroke-width="0.25">S</text>
<text x="94.62" y="848.80" font-size="13.6" fill="#d5e0d4" text-anchor="middle" textLength="7.60" lengthAdjust="spacingAndGlyphs" stroke="#d5e0d4" stroke-width="0.25">P</text>
<text x="106.24" y="848.80" font-size="13.6" fill="#d5e0d4" text-anchor="middle" textLength="7.60" lengthAdjust="spacingAndGlyphs" stroke="#d5e0d4" stroke-width="0.25">O</text>
<text x="117.86" y="848.80" font-size="13.6" fill="#d5e0d4" text-anchor="middle" textLength="7.60" lengthAdjust="spacingAndGlyphs" stroke="#d5e0d4" stroke-width="0.25">R</text>
<text x="129.48" y="848.80" font-size="13.6" fill="#d5e0d4" text-anchor="middle" textLength="7.60" lengthAdjust="spacingAndGlyphs" stroke="#d5e0d4" stroke-width="0.25">T</text>
<text x="167.20" y="802.60" font-size="32" fill="#000" text-anchor="start" textLength="137.00" lengthAdjust="spacingAndGlyphs" font-weight="bold">Adapter</text>
<text x="168.50" y="838.20" font-size="18.6" fill="#2b2b2b" text-anchor="start" textLength="411.50" lengthAdjust="spacingAndGlyphs">Toyota JZ 1JZ 2JZ - BMW M57 ZF GS5-39DZ</text>
<text x="771.20" y="859.40" font-size="51.2" fill="#d6d6d6" text-anchor="start" textLength="233.60" lengthAdjust="spacingAndGlyphs" stroke="#d6d6d6" stroke-width="1.3">MANUAL</text>
</g>
</svg>
</body></html>
